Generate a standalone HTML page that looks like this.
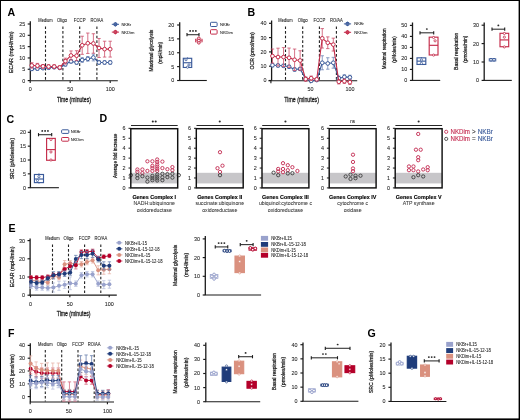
<!DOCTYPE html>
<html><head><meta charset="utf-8"><title>Figure</title>
<style>html,body{margin:0;padding:0;background:#fff;}svg{display:block;will-change:transform;}text{font-family:"Liberation Sans", sans-serif;}</style>
</head><body>
<svg width="520" height="420" viewBox="0 0 520 420">
<rect x="0" y="0" width="520" height="420" fill="#fff"/>
<text transform="translate(7.4 15.8) scale(0.1)" x="0" y="0" font-size="106" text-anchor="start" fill="#000" font-weight="bold">A</text>
<text transform="translate(45.5 22.2) scale(0.1)" x="0" y="0" font-size="46" text-anchor="middle" fill="#222" stroke="#222" stroke-width="0.7" textLength="144" lengthAdjust="spacingAndGlyphs">Medium</text>
<line x1="45.5" y1="26.5" x2="45.5" y2="80.5" stroke="#222" stroke-width="1.1" stroke-linecap="butt" stroke-dasharray="2.6,2"/>
<text transform="translate(62 22.2) scale(0.1)" x="0" y="0" font-size="46" text-anchor="middle" fill="#222" stroke="#222" stroke-width="0.7" textLength="100" lengthAdjust="spacingAndGlyphs">Oligo</text>
<line x1="62.9" y1="26.5" x2="62.9" y2="80.5" stroke="#222" stroke-width="1.1" stroke-linecap="butt" stroke-dasharray="2.6,2"/>
<text transform="translate(79.7 22.2) scale(0.1)" x="0" y="0" font-size="46" text-anchor="middle" fill="#222" stroke="#222" stroke-width="0.7" textLength="117" lengthAdjust="spacingAndGlyphs">FCCP</text>
<line x1="79.7" y1="26.5" x2="79.7" y2="80.5" stroke="#222" stroke-width="1.1" stroke-linecap="butt" stroke-dasharray="2.6,2"/>
<text transform="translate(96.9 22.2) scale(0.1)" x="0" y="0" font-size="46" text-anchor="middle" fill="#222" stroke="#222" stroke-width="0.7" textLength="128" lengthAdjust="spacingAndGlyphs">RO/AA</text>
<line x1="96.9" y1="26.5" x2="96.9" y2="80.5" stroke="#222" stroke-width="1.1" stroke-linecap="butt" stroke-dasharray="2.6,2"/>
<line x1="30.3" y1="21.2" x2="30.3" y2="80.6" stroke="#1a1a1a" stroke-width="1.3" stroke-linecap="butt"/>
<line x1="27.7" y1="80.6" x2="30.3" y2="80.6" stroke="#1a1a1a" stroke-width="1.15" stroke-linecap="butt"/>
<text transform="translate(25.2 82.54) scale(0.1)" x="0" y="0" font-size="54" text-anchor="end" fill="#222" stroke="#222" stroke-width="0.7">0</text>
<line x1="27.7" y1="69.28" x2="30.3" y2="69.28" stroke="#1a1a1a" stroke-width="1.15" stroke-linecap="butt"/>
<text transform="translate(25.2 71.22) scale(0.1)" x="0" y="0" font-size="54" text-anchor="end" fill="#222" stroke="#222" stroke-width="0.7">5</text>
<line x1="27.7" y1="57.96" x2="30.3" y2="57.96" stroke="#1a1a1a" stroke-width="1.15" stroke-linecap="butt"/>
<text transform="translate(25.2 59.9) scale(0.1)" x="0" y="0" font-size="54" text-anchor="end" fill="#222" stroke="#222" stroke-width="0.7">10</text>
<line x1="27.7" y1="46.64" x2="30.3" y2="46.64" stroke="#1a1a1a" stroke-width="1.15" stroke-linecap="butt"/>
<text transform="translate(25.2 48.58) scale(0.1)" x="0" y="0" font-size="54" text-anchor="end" fill="#222" stroke="#222" stroke-width="0.7">15</text>
<line x1="27.7" y1="35.32" x2="30.3" y2="35.32" stroke="#1a1a1a" stroke-width="1.15" stroke-linecap="butt"/>
<text transform="translate(25.2 37.26) scale(0.1)" x="0" y="0" font-size="54" text-anchor="end" fill="#222" stroke="#222" stroke-width="0.7">20</text>
<line x1="27.7" y1="24" x2="30.3" y2="24" stroke="#1a1a1a" stroke-width="1.15" stroke-linecap="butt"/>
<text transform="translate(25.2 25.94) scale(0.1)" x="0" y="0" font-size="54" text-anchor="end" fill="#222" stroke="#222" stroke-width="0.7">25</text>
<line x1="29.8" y1="80.7" x2="117.8" y2="80.7" stroke="#1a1a1a" stroke-width="1.1" stroke-linecap="butt"/>
<line x1="30.2" y1="80.7" x2="30.2" y2="82.9" stroke="#1a1a1a" stroke-width="1.1" stroke-linecap="butt"/>
<text transform="translate(30.2 91.3) scale(0.1)" x="0" y="0" font-size="54" text-anchor="middle" fill="#222" stroke="#222" stroke-width="0.7">0</text>
<line x1="70.2" y1="80.7" x2="70.2" y2="82.9" stroke="#1a1a1a" stroke-width="1.1" stroke-linecap="butt"/>
<text transform="translate(70.2 91.3) scale(0.1)" x="0" y="0" font-size="54" text-anchor="middle" fill="#222" stroke="#222" stroke-width="0.7">50</text>
<line x1="110.2" y1="80.7" x2="110.2" y2="82.9" stroke="#1a1a1a" stroke-width="1.1" stroke-linecap="butt"/>
<text transform="translate(110.2 91.3) scale(0.1)" x="0" y="0" font-size="54" text-anchor="middle" fill="#222" stroke="#222" stroke-width="0.7">100</text>
<text transform="translate(73.9 101.5) scale(0.1)" x="0" y="0" font-size="72" text-anchor="middle" fill="#1a1a1a" stroke="#1a1a1a" stroke-width="2.8" textLength="340" lengthAdjust="spacingAndGlyphs">Time (minutes)</text>
<text transform="translate(12.6 52.25) rotate(-90) scale(0.1)" x="0" y="0" font-size="60" text-anchor="middle" fill="#1a1a1a" stroke="#1a1a1a" stroke-width="2.5" textLength="417" lengthAdjust="spacingAndGlyphs">ECAR (mpH/min)</text>
<line x1="31.8" y1="67.02" x2="31.8" y2="70.64" stroke="#7086b8" stroke-width="0.8" stroke-linecap="butt"/>
<line x1="30.1" y1="67.02" x2="33.5" y2="67.02" stroke="#7086b8" stroke-width="0.8" stroke-linecap="butt"/>
<line x1="30.1" y1="70.64" x2="33.5" y2="70.64" stroke="#7086b8" stroke-width="0.8" stroke-linecap="butt"/>
<line x1="37.4" y1="66.79" x2="37.4" y2="70.41" stroke="#7086b8" stroke-width="0.8" stroke-linecap="butt"/>
<line x1="35.7" y1="66.79" x2="39.1" y2="66.79" stroke="#7086b8" stroke-width="0.8" stroke-linecap="butt"/>
<line x1="35.7" y1="70.41" x2="39.1" y2="70.41" stroke="#7086b8" stroke-width="0.8" stroke-linecap="butt"/>
<line x1="43" y1="66.79" x2="43" y2="69.51" stroke="#7086b8" stroke-width="0.8" stroke-linecap="butt"/>
<line x1="41.3" y1="66.79" x2="44.7" y2="66.79" stroke="#7086b8" stroke-width="0.8" stroke-linecap="butt"/>
<line x1="41.3" y1="69.51" x2="44.7" y2="69.51" stroke="#7086b8" stroke-width="0.8" stroke-linecap="butt"/>
<line x1="48.6" y1="66.34" x2="48.6" y2="69.05" stroke="#7086b8" stroke-width="0.8" stroke-linecap="butt"/>
<line x1="46.9" y1="66.34" x2="50.3" y2="66.34" stroke="#7086b8" stroke-width="0.8" stroke-linecap="butt"/>
<line x1="46.9" y1="69.05" x2="50.3" y2="69.05" stroke="#7086b8" stroke-width="0.8" stroke-linecap="butt"/>
<line x1="54.2" y1="65.88" x2="54.2" y2="68.6" stroke="#7086b8" stroke-width="0.8" stroke-linecap="butt"/>
<line x1="52.5" y1="65.88" x2="55.9" y2="65.88" stroke="#7086b8" stroke-width="0.8" stroke-linecap="butt"/>
<line x1="52.5" y1="68.6" x2="55.9" y2="68.6" stroke="#7086b8" stroke-width="0.8" stroke-linecap="butt"/>
<line x1="59.8" y1="66.56" x2="59.8" y2="69.28" stroke="#7086b8" stroke-width="0.8" stroke-linecap="butt"/>
<line x1="58.1" y1="66.56" x2="61.5" y2="66.56" stroke="#7086b8" stroke-width="0.8" stroke-linecap="butt"/>
<line x1="58.1" y1="69.28" x2="61.5" y2="69.28" stroke="#7086b8" stroke-width="0.8" stroke-linecap="butt"/>
<line x1="65.4" y1="62.49" x2="65.4" y2="66.11" stroke="#7086b8" stroke-width="0.8" stroke-linecap="butt"/>
<line x1="63.7" y1="62.49" x2="67.1" y2="62.49" stroke="#7086b8" stroke-width="0.8" stroke-linecap="butt"/>
<line x1="63.7" y1="66.11" x2="67.1" y2="66.11" stroke="#7086b8" stroke-width="0.8" stroke-linecap="butt"/>
<line x1="71" y1="59.54" x2="71" y2="63.17" stroke="#7086b8" stroke-width="0.8" stroke-linecap="butt"/>
<line x1="69.3" y1="59.54" x2="72.7" y2="59.54" stroke="#7086b8" stroke-width="0.8" stroke-linecap="butt"/>
<line x1="69.3" y1="63.17" x2="72.7" y2="63.17" stroke="#7086b8" stroke-width="0.8" stroke-linecap="butt"/>
<line x1="76.6" y1="60.68" x2="76.6" y2="64.3" stroke="#7086b8" stroke-width="0.8" stroke-linecap="butt"/>
<line x1="74.9" y1="60.68" x2="78.3" y2="60.68" stroke="#7086b8" stroke-width="0.8" stroke-linecap="butt"/>
<line x1="74.9" y1="64.3" x2="78.3" y2="64.3" stroke="#7086b8" stroke-width="0.8" stroke-linecap="butt"/>
<line x1="82.2" y1="57.73" x2="82.2" y2="62.26" stroke="#7086b8" stroke-width="0.8" stroke-linecap="butt"/>
<line x1="80.5" y1="57.73" x2="83.9" y2="57.73" stroke="#7086b8" stroke-width="0.8" stroke-linecap="butt"/>
<line x1="80.5" y1="62.26" x2="83.9" y2="62.26" stroke="#7086b8" stroke-width="0.8" stroke-linecap="butt"/>
<line x1="87.8" y1="56.6" x2="87.8" y2="61.13" stroke="#7086b8" stroke-width="0.8" stroke-linecap="butt"/>
<line x1="86.1" y1="56.6" x2="89.5" y2="56.6" stroke="#7086b8" stroke-width="0.8" stroke-linecap="butt"/>
<line x1="86.1" y1="61.13" x2="89.5" y2="61.13" stroke="#7086b8" stroke-width="0.8" stroke-linecap="butt"/>
<line x1="93.4" y1="54.11" x2="93.4" y2="60.9" stroke="#7086b8" stroke-width="0.8" stroke-linecap="butt"/>
<line x1="91.7" y1="54.11" x2="95.1" y2="54.11" stroke="#7086b8" stroke-width="0.8" stroke-linecap="butt"/>
<line x1="91.7" y1="60.9" x2="95.1" y2="60.9" stroke="#7086b8" stroke-width="0.8" stroke-linecap="butt"/>
<line x1="99" y1="60.68" x2="99" y2="64.3" stroke="#7086b8" stroke-width="0.8" stroke-linecap="butt"/>
<line x1="97.3" y1="60.68" x2="100.7" y2="60.68" stroke="#7086b8" stroke-width="0.8" stroke-linecap="butt"/>
<line x1="97.3" y1="64.3" x2="100.7" y2="64.3" stroke="#7086b8" stroke-width="0.8" stroke-linecap="butt"/>
<line x1="104.6" y1="60.68" x2="104.6" y2="64.3" stroke="#7086b8" stroke-width="0.8" stroke-linecap="butt"/>
<line x1="102.9" y1="60.68" x2="106.3" y2="60.68" stroke="#7086b8" stroke-width="0.8" stroke-linecap="butt"/>
<line x1="102.9" y1="64.3" x2="106.3" y2="64.3" stroke="#7086b8" stroke-width="0.8" stroke-linecap="butt"/>
<line x1="110.2" y1="60.68" x2="110.2" y2="64.3" stroke="#7086b8" stroke-width="0.8" stroke-linecap="butt"/>
<line x1="108.5" y1="60.68" x2="111.9" y2="60.68" stroke="#7086b8" stroke-width="0.8" stroke-linecap="butt"/>
<line x1="108.5" y1="64.3" x2="111.9" y2="64.3" stroke="#7086b8" stroke-width="0.8" stroke-linecap="butt"/>
<polyline points="31.8,68.83 37.4,68.6 43,68.15 48.6,67.7 54.2,67.24 59.8,67.92 65.4,64.3 71,61.36 76.6,62.49 82.2,60 87.8,58.87 93.4,57.51 99,62.49 104.6,62.49 110.2,62.49" fill="none" stroke="#3a5a9a" stroke-width="1.1" stroke-linejoin="round"/>
<circle cx="31.8" cy="68.83" r="1.85" fill="#fff" stroke="#3a5a9a" stroke-width="1"/>
<circle cx="37.4" cy="68.6" r="1.85" fill="#fff" stroke="#3a5a9a" stroke-width="1"/>
<circle cx="43" cy="68.15" r="1.85" fill="#fff" stroke="#3a5a9a" stroke-width="1"/>
<circle cx="48.6" cy="67.7" r="1.85" fill="#fff" stroke="#3a5a9a" stroke-width="1"/>
<circle cx="54.2" cy="67.24" r="1.85" fill="#fff" stroke="#3a5a9a" stroke-width="1"/>
<circle cx="59.8" cy="67.92" r="1.85" fill="#fff" stroke="#3a5a9a" stroke-width="1"/>
<circle cx="65.4" cy="64.3" r="1.85" fill="#fff" stroke="#3a5a9a" stroke-width="1"/>
<circle cx="71" cy="61.36" r="1.85" fill="#fff" stroke="#3a5a9a" stroke-width="1"/>
<circle cx="76.6" cy="62.49" r="1.85" fill="#fff" stroke="#3a5a9a" stroke-width="1"/>
<circle cx="82.2" cy="60" r="1.85" fill="#fff" stroke="#3a5a9a" stroke-width="1"/>
<circle cx="87.8" cy="58.87" r="1.85" fill="#fff" stroke="#3a5a9a" stroke-width="1"/>
<circle cx="93.4" cy="57.51" r="1.85" fill="#fff" stroke="#3a5a9a" stroke-width="1"/>
<circle cx="99" cy="62.49" r="1.85" fill="#fff" stroke="#3a5a9a" stroke-width="1"/>
<circle cx="104.6" cy="62.49" r="1.85" fill="#fff" stroke="#3a5a9a" stroke-width="1"/>
<circle cx="110.2" cy="62.49" r="1.85" fill="#fff" stroke="#3a5a9a" stroke-width="1"/>
<line x1="31.8" y1="62.71" x2="31.8" y2="68.15" stroke="#cc4f6a" stroke-width="0.8" stroke-linecap="butt"/>
<line x1="30.1" y1="62.71" x2="33.5" y2="62.71" stroke="#cc4f6a" stroke-width="0.8" stroke-linecap="butt"/>
<line x1="30.1" y1="68.15" x2="33.5" y2="68.15" stroke="#cc4f6a" stroke-width="0.8" stroke-linecap="butt"/>
<line x1="37.4" y1="63.39" x2="37.4" y2="67.92" stroke="#cc4f6a" stroke-width="0.8" stroke-linecap="butt"/>
<line x1="35.7" y1="63.39" x2="39.1" y2="63.39" stroke="#cc4f6a" stroke-width="0.8" stroke-linecap="butt"/>
<line x1="35.7" y1="67.92" x2="39.1" y2="67.92" stroke="#cc4f6a" stroke-width="0.8" stroke-linecap="butt"/>
<line x1="43" y1="64.53" x2="43" y2="68.15" stroke="#cc4f6a" stroke-width="0.8" stroke-linecap="butt"/>
<line x1="41.3" y1="64.53" x2="44.7" y2="64.53" stroke="#cc4f6a" stroke-width="0.8" stroke-linecap="butt"/>
<line x1="41.3" y1="68.15" x2="44.7" y2="68.15" stroke="#cc4f6a" stroke-width="0.8" stroke-linecap="butt"/>
<line x1="48.6" y1="64.75" x2="48.6" y2="68.37" stroke="#cc4f6a" stroke-width="0.8" stroke-linecap="butt"/>
<line x1="46.9" y1="64.75" x2="50.3" y2="64.75" stroke="#cc4f6a" stroke-width="0.8" stroke-linecap="butt"/>
<line x1="46.9" y1="68.37" x2="50.3" y2="68.37" stroke="#cc4f6a" stroke-width="0.8" stroke-linecap="butt"/>
<line x1="54.2" y1="64.75" x2="54.2" y2="68.37" stroke="#cc4f6a" stroke-width="0.8" stroke-linecap="butt"/>
<line x1="52.5" y1="64.75" x2="55.9" y2="64.75" stroke="#cc4f6a" stroke-width="0.8" stroke-linecap="butt"/>
<line x1="52.5" y1="68.37" x2="55.9" y2="68.37" stroke="#cc4f6a" stroke-width="0.8" stroke-linecap="butt"/>
<line x1="59.8" y1="65.66" x2="59.8" y2="69.28" stroke="#cc4f6a" stroke-width="0.8" stroke-linecap="butt"/>
<line x1="58.1" y1="65.66" x2="61.5" y2="65.66" stroke="#cc4f6a" stroke-width="0.8" stroke-linecap="butt"/>
<line x1="58.1" y1="69.28" x2="61.5" y2="69.28" stroke="#cc4f6a" stroke-width="0.8" stroke-linecap="butt"/>
<line x1="65.4" y1="58.19" x2="65.4" y2="64.07" stroke="#cc4f6a" stroke-width="0.8" stroke-linecap="butt"/>
<line x1="63.7" y1="58.19" x2="67.1" y2="58.19" stroke="#cc4f6a" stroke-width="0.8" stroke-linecap="butt"/>
<line x1="63.7" y1="64.07" x2="67.1" y2="64.07" stroke="#cc4f6a" stroke-width="0.8" stroke-linecap="butt"/>
<line x1="71" y1="50.94" x2="71" y2="60" stroke="#cc4f6a" stroke-width="0.8" stroke-linecap="butt"/>
<line x1="69.3" y1="50.94" x2="72.7" y2="50.94" stroke="#cc4f6a" stroke-width="0.8" stroke-linecap="butt"/>
<line x1="69.3" y1="60" x2="72.7" y2="60" stroke="#cc4f6a" stroke-width="0.8" stroke-linecap="butt"/>
<line x1="76.6" y1="50.72" x2="76.6" y2="60.68" stroke="#cc4f6a" stroke-width="0.8" stroke-linecap="butt"/>
<line x1="74.9" y1="50.72" x2="78.3" y2="50.72" stroke="#cc4f6a" stroke-width="0.8" stroke-linecap="butt"/>
<line x1="74.9" y1="60.68" x2="78.3" y2="60.68" stroke="#cc4f6a" stroke-width="0.8" stroke-linecap="butt"/>
<line x1="82.2" y1="36.23" x2="82.2" y2="54.34" stroke="#cc4f6a" stroke-width="0.8" stroke-linecap="butt"/>
<line x1="80.5" y1="36.23" x2="83.9" y2="36.23" stroke="#cc4f6a" stroke-width="0.8" stroke-linecap="butt"/>
<line x1="80.5" y1="54.34" x2="83.9" y2="54.34" stroke="#cc4f6a" stroke-width="0.8" stroke-linecap="butt"/>
<line x1="87.8" y1="33.06" x2="87.8" y2="53.43" stroke="#cc4f6a" stroke-width="0.8" stroke-linecap="butt"/>
<line x1="86.1" y1="33.06" x2="89.5" y2="33.06" stroke="#cc4f6a" stroke-width="0.8" stroke-linecap="butt"/>
<line x1="86.1" y1="53.43" x2="89.5" y2="53.43" stroke="#cc4f6a" stroke-width="0.8" stroke-linecap="butt"/>
<line x1="93.4" y1="33.74" x2="93.4" y2="53.21" stroke="#cc4f6a" stroke-width="0.8" stroke-linecap="butt"/>
<line x1="91.7" y1="33.74" x2="95.1" y2="33.74" stroke="#cc4f6a" stroke-width="0.8" stroke-linecap="butt"/>
<line x1="91.7" y1="53.21" x2="95.1" y2="53.21" stroke="#cc4f6a" stroke-width="0.8" stroke-linecap="butt"/>
<line x1="99" y1="38.49" x2="99" y2="57.51" stroke="#cc4f6a" stroke-width="0.8" stroke-linecap="butt"/>
<line x1="97.3" y1="38.49" x2="100.7" y2="38.49" stroke="#cc4f6a" stroke-width="0.8" stroke-linecap="butt"/>
<line x1="97.3" y1="57.51" x2="100.7" y2="57.51" stroke="#cc4f6a" stroke-width="0.8" stroke-linecap="butt"/>
<line x1="104.6" y1="41.21" x2="104.6" y2="57.05" stroke="#cc4f6a" stroke-width="0.8" stroke-linecap="butt"/>
<line x1="102.9" y1="41.21" x2="106.3" y2="41.21" stroke="#cc4f6a" stroke-width="0.8" stroke-linecap="butt"/>
<line x1="102.9" y1="57.05" x2="106.3" y2="57.05" stroke="#cc4f6a" stroke-width="0.8" stroke-linecap="butt"/>
<line x1="110.2" y1="41.21" x2="110.2" y2="57.05" stroke="#cc4f6a" stroke-width="0.8" stroke-linecap="butt"/>
<line x1="108.5" y1="41.21" x2="111.9" y2="41.21" stroke="#cc4f6a" stroke-width="0.8" stroke-linecap="butt"/>
<line x1="108.5" y1="57.05" x2="111.9" y2="57.05" stroke="#cc4f6a" stroke-width="0.8" stroke-linecap="butt"/>
<polyline points="31.8,65.43 37.4,65.66 43,66.34 48.6,66.56 54.2,66.56 59.8,67.47 65.4,61.13 71,55.47 76.6,55.7 82.2,45.28 87.8,43.24 93.4,43.47 99,48 104.6,49.13 110.2,49.13" fill="none" stroke="#c42c4a" stroke-width="1.1" stroke-linejoin="round"/>
<circle cx="31.8" cy="65.43" r="1.85" fill="#fff" stroke="#c42c4a" stroke-width="1"/>
<circle cx="37.4" cy="65.66" r="1.85" fill="#fff" stroke="#c42c4a" stroke-width="1"/>
<circle cx="43" cy="66.34" r="1.85" fill="#fff" stroke="#c42c4a" stroke-width="1"/>
<circle cx="48.6" cy="66.56" r="1.85" fill="#fff" stroke="#c42c4a" stroke-width="1"/>
<circle cx="54.2" cy="66.56" r="1.85" fill="#fff" stroke="#c42c4a" stroke-width="1"/>
<circle cx="59.8" cy="67.47" r="1.85" fill="#fff" stroke="#c42c4a" stroke-width="1"/>
<circle cx="65.4" cy="61.13" r="1.85" fill="#fff" stroke="#c42c4a" stroke-width="1"/>
<circle cx="71" cy="55.47" r="1.85" fill="#fff" stroke="#c42c4a" stroke-width="1"/>
<circle cx="76.6" cy="55.7" r="1.85" fill="#fff" stroke="#c42c4a" stroke-width="1"/>
<circle cx="82.2" cy="45.28" r="1.85" fill="#fff" stroke="#c42c4a" stroke-width="1"/>
<circle cx="87.8" cy="43.24" r="1.85" fill="#fff" stroke="#c42c4a" stroke-width="1"/>
<circle cx="93.4" cy="43.47" r="1.85" fill="#fff" stroke="#c42c4a" stroke-width="1"/>
<circle cx="99" cy="48" r="1.85" fill="#fff" stroke="#c42c4a" stroke-width="1"/>
<circle cx="104.6" cy="49.13" r="1.85" fill="#fff" stroke="#c42c4a" stroke-width="1"/>
<circle cx="110.2" cy="49.13" r="1.85" fill="#fff" stroke="#c42c4a" stroke-width="1"/>
<line x1="111.8" y1="24.3" x2="119" y2="24.3" stroke="#3a5a9a" stroke-width="1" stroke-linecap="butt"/>
<line x1="115.4" y1="22" x2="115.4" y2="26.6" stroke="#3a5a9a" stroke-width="0.7" stroke-linecap="butt"/>
<circle cx="115.4" cy="24.3" r="1.5" fill="none" stroke="#3a5a9a" stroke-width="1.25"/>
<text transform="translate(121.4 25.8) scale(0.1)" x="0" y="0" font-size="42" text-anchor="start" fill="#222" stroke="#222" stroke-width="0.7" textLength="96" lengthAdjust="spacingAndGlyphs">NKBr</text>
<line x1="111.8" y1="32.1" x2="119" y2="32.1" stroke="#c42c4a" stroke-width="1" stroke-linecap="butt"/>
<line x1="115.4" y1="29.8" x2="115.4" y2="34.4" stroke="#c42c4a" stroke-width="0.7" stroke-linecap="butt"/>
<circle cx="115.4" cy="32.1" r="1.5" fill="none" stroke="#c42c4a" stroke-width="1.25"/>
<text transform="translate(121.4 33.6) scale(0.1)" x="0" y="0" font-size="42" text-anchor="start" fill="#222" stroke="#222" stroke-width="0.7" textLength="130" lengthAdjust="spacingAndGlyphs">NKDim</text>
<line x1="179.7" y1="22.2" x2="179.7" y2="80.5" stroke="#1a1a1a" stroke-width="1.3" stroke-linecap="butt"/>
<line x1="177.1" y1="80.5" x2="179.7" y2="80.5" stroke="#1a1a1a" stroke-width="1.15" stroke-linecap="butt"/>
<text transform="translate(174.3 82.44) scale(0.1)" x="0" y="0" font-size="54" text-anchor="end" fill="#222" stroke="#222" stroke-width="0.7">0</text>
<line x1="177.1" y1="66.62" x2="179.7" y2="66.62" stroke="#1a1a1a" stroke-width="1.15" stroke-linecap="butt"/>
<text transform="translate(174.3 68.57) scale(0.1)" x="0" y="0" font-size="54" text-anchor="end" fill="#222" stroke="#222" stroke-width="0.7">5</text>
<line x1="177.1" y1="52.75" x2="179.7" y2="52.75" stroke="#1a1a1a" stroke-width="1.15" stroke-linecap="butt"/>
<text transform="translate(174.3 54.69) scale(0.1)" x="0" y="0" font-size="54" text-anchor="end" fill="#222" stroke="#222" stroke-width="0.7">10</text>
<line x1="177.1" y1="38.88" x2="179.7" y2="38.88" stroke="#1a1a1a" stroke-width="1.15" stroke-linecap="butt"/>
<text transform="translate(174.3 40.82) scale(0.1)" x="0" y="0" font-size="54" text-anchor="end" fill="#222" stroke="#222" stroke-width="0.7">15</text>
<line x1="177.1" y1="25" x2="179.7" y2="25" stroke="#1a1a1a" stroke-width="1.15" stroke-linecap="butt"/>
<text transform="translate(174.3 26.94) scale(0.1)" x="0" y="0" font-size="54" text-anchor="end" fill="#222" stroke="#222" stroke-width="0.7">20</text>
<line x1="179.2" y1="80.5" x2="206.8" y2="80.5" stroke="#1a1a1a" stroke-width="1.1" stroke-linecap="butt"/>
<text transform="translate(153.1 50.6) rotate(-90) scale(0.1)" x="0" y="0" font-size="60" text-anchor="middle" fill="#1a1a1a" stroke="#1a1a1a" stroke-width="2.5" textLength="418" lengthAdjust="spacingAndGlyphs">Maximal glycolysis</text>
<text transform="translate(162.2 52.9) rotate(-90) scale(0.1)" x="0" y="0" font-size="60" text-anchor="middle" fill="#1a1a1a" stroke="#1a1a1a" stroke-width="2.5" textLength="219" lengthAdjust="spacingAndGlyphs">(mpH/min)</text>
<line x1="187.5" y1="57.47" x2="187.5" y2="58.3" stroke="#3a5a9a" stroke-width="1.15" stroke-linecap="butt"/>
<line x1="187.5" y1="67.46" x2="187.5" y2="68.01" stroke="#3a5a9a" stroke-width="1.15" stroke-linecap="butt"/>
<rect x="183.3" y="58.3" width="8.4" height="9.16" fill="#fff" stroke="#3a5a9a" stroke-width="1.15" rx="0"/>
<line x1="183.3" y1="62.74" x2="191.7" y2="62.74" stroke="#3a5a9a" stroke-width="1.15" stroke-linecap="butt"/>
<circle cx="186" cy="59.69" r="1.1" fill="#fff" stroke="#3a5a9a" stroke-width="0.8"/>
<circle cx="189" cy="64.96" r="1.1" fill="#fff" stroke="#3a5a9a" stroke-width="0.8"/>
<circle cx="187.5" cy="67.18" r="1.1" fill="#fff" stroke="#3a5a9a" stroke-width="0.8"/>
<line x1="198.85" y1="38.32" x2="198.85" y2="39.15" stroke="#c42c4a" stroke-width="0.7" stroke-linecap="butt"/>
<line x1="198.85" y1="41.93" x2="198.85" y2="42.76" stroke="#c42c4a" stroke-width="0.7" stroke-linecap="butt"/>
<rect x="195.5" y="39.15" width="6.7" height="2.77" fill="#fff" stroke="#c42c4a" stroke-width="0.7" rx="0"/>
<line x1="195.5" y1="40.54" x2="202.2" y2="40.54" stroke="#c42c4a" stroke-width="0.7" stroke-linecap="butt"/>
<circle cx="198.85" cy="38.32" r="1.35" fill="#fff" stroke="#c42c4a" stroke-width="1"/>
<circle cx="198.85" cy="42.76" r="1.35" fill="#fff" stroke="#c42c4a" stroke-width="1"/>
<circle cx="198.85" cy="40.54" r="1.35" fill="#fff" stroke="#c42c4a" stroke-width="1"/>
<line x1="187" y1="34.7" x2="199" y2="34.7" stroke="#333" stroke-width="1.1" stroke-linecap="butt"/>
<line x1="187" y1="33.1" x2="187" y2="36.3" stroke="#1a1a1a" stroke-width="1.1" stroke-linecap="butt"/>
<line x1="199" y1="33.1" x2="199" y2="36.3" stroke="#1a1a1a" stroke-width="1.1" stroke-linecap="butt"/>
<ellipse cx="190.15" cy="30.9" rx="0.95" ry="0.85" fill="#2a2a2a"/>
<ellipse cx="193" cy="30.9" rx="0.95" ry="0.85" fill="#2a2a2a"/>
<ellipse cx="195.85" cy="30.9" rx="0.95" ry="0.85" fill="#2a2a2a"/>
<rect x="210.5" y="22.3" width="6.6" height="4.2" fill="#fff" stroke="#3a5a9a" stroke-width="1" rx="0.8"/>
<rect x="210.5" y="29.7" width="6.6" height="4.4" fill="#fff" stroke="#c42c4a" stroke-width="1" rx="0.8"/>
<text transform="translate(220 26) scale(0.1)" x="0" y="0" font-size="43" text-anchor="start" fill="#222" stroke="#222" stroke-width="0.7" textLength="100" lengthAdjust="spacingAndGlyphs">NKBr</text>
<text transform="translate(220 33.6) scale(0.1)" x="0" y="0" font-size="43" text-anchor="start" fill="#222" stroke="#222" stroke-width="0.7" textLength="128" lengthAdjust="spacingAndGlyphs">NKDim</text>
<text transform="translate(247.6 15.7) scale(0.1)" x="0" y="0" font-size="106" text-anchor="start" fill="#000" font-weight="bold">B</text>
<text transform="translate(285.5 22.2) scale(0.1)" x="0" y="0" font-size="46" text-anchor="middle" fill="#222" stroke="#222" stroke-width="0.7" textLength="144" lengthAdjust="spacingAndGlyphs">Medium</text>
<line x1="285.5" y1="26.5" x2="285.5" y2="80.5" stroke="#222" stroke-width="1.1" stroke-linecap="butt" stroke-dasharray="2.6,2"/>
<text transform="translate(302.7 22.2) scale(0.1)" x="0" y="0" font-size="46" text-anchor="middle" fill="#222" stroke="#222" stroke-width="0.7" textLength="100" lengthAdjust="spacingAndGlyphs">Oligo</text>
<line x1="302.7" y1="26.5" x2="302.7" y2="80.5" stroke="#222" stroke-width="1.1" stroke-linecap="butt" stroke-dasharray="2.6,2"/>
<text transform="translate(319.4 22.2) scale(0.1)" x="0" y="0" font-size="46" text-anchor="middle" fill="#222" stroke="#222" stroke-width="0.7" textLength="117" lengthAdjust="spacingAndGlyphs">FCCP</text>
<line x1="319.4" y1="26.5" x2="319.4" y2="80.5" stroke="#222" stroke-width="1.1" stroke-linecap="butt" stroke-dasharray="2.6,2"/>
<text transform="translate(336.4 22.2) scale(0.1)" x="0" y="0" font-size="46" text-anchor="middle" fill="#222" stroke="#222" stroke-width="0.7" textLength="128" lengthAdjust="spacingAndGlyphs">RO/AA</text>
<line x1="336.4" y1="26.5" x2="336.4" y2="80.5" stroke="#222" stroke-width="1.1" stroke-linecap="butt" stroke-dasharray="2.6,2"/>
<line x1="271.6" y1="20.5" x2="271.6" y2="80.5" stroke="#1a1a1a" stroke-width="1.3" stroke-linecap="butt"/>
<line x1="269" y1="80.5" x2="271.6" y2="80.5" stroke="#1a1a1a" stroke-width="1.15" stroke-linecap="butt"/>
<text transform="translate(266.5 82.44) scale(0.1)" x="0" y="0" font-size="54" text-anchor="end" fill="#222" stroke="#222" stroke-width="0.7">0</text>
<line x1="269" y1="66.2" x2="271.6" y2="66.2" stroke="#1a1a1a" stroke-width="1.15" stroke-linecap="butt"/>
<text transform="translate(266.5 68.14) scale(0.1)" x="0" y="0" font-size="54" text-anchor="end" fill="#222" stroke="#222" stroke-width="0.7">10</text>
<line x1="269" y1="51.9" x2="271.6" y2="51.9" stroke="#1a1a1a" stroke-width="1.15" stroke-linecap="butt"/>
<text transform="translate(266.5 53.84) scale(0.1)" x="0" y="0" font-size="54" text-anchor="end" fill="#222" stroke="#222" stroke-width="0.7">20</text>
<line x1="269" y1="37.6" x2="271.6" y2="37.6" stroke="#1a1a1a" stroke-width="1.15" stroke-linecap="butt"/>
<text transform="translate(266.5 39.54) scale(0.1)" x="0" y="0" font-size="54" text-anchor="end" fill="#222" stroke="#222" stroke-width="0.7">30</text>
<line x1="269" y1="23.3" x2="271.6" y2="23.3" stroke="#1a1a1a" stroke-width="1.15" stroke-linecap="butt"/>
<text transform="translate(266.5 25.24) scale(0.1)" x="0" y="0" font-size="54" text-anchor="end" fill="#222" stroke="#222" stroke-width="0.7">40</text>
<line x1="268.3" y1="80.7" x2="357.2" y2="80.7" stroke="#1a1a1a" stroke-width="1.15" stroke-linecap="butt"/>
<line x1="270.9" y1="80.7" x2="270.9" y2="83.3" stroke="#1a1a1a" stroke-width="1.1" stroke-linecap="butt"/>
<line x1="310.4" y1="80.7" x2="310.4" y2="83.3" stroke="#1a1a1a" stroke-width="1.1" stroke-linecap="butt"/>
<text transform="translate(310.4 91.3) scale(0.1)" x="0" y="0" font-size="54" text-anchor="middle" fill="#222" stroke="#222" stroke-width="0.7">50</text>
<line x1="349.9" y1="80.7" x2="349.9" y2="83.3" stroke="#1a1a1a" stroke-width="1.1" stroke-linecap="butt"/>
<text transform="translate(349.9 91.3) scale(0.1)" x="0" y="0" font-size="54" text-anchor="middle" fill="#222" stroke="#222" stroke-width="0.7">100</text>
<text transform="translate(301.6 101.7) scale(0.1)" x="0" y="0" font-size="72" text-anchor="middle" fill="#1a1a1a" stroke="#1a1a1a" stroke-width="2.8" textLength="346" lengthAdjust="spacingAndGlyphs">Time (minutes)</text>
<text transform="translate(253.5 50.9) rotate(-90) scale(0.1)" x="0" y="0" font-size="60" text-anchor="middle" fill="#1a1a1a" stroke="#1a1a1a" stroke-width="2.5" textLength="373" lengthAdjust="spacingAndGlyphs">OCR (pmol/min)</text>
<line x1="272.48" y1="63.48" x2="272.48" y2="66.92" stroke="#7086b8" stroke-width="0.8" stroke-linecap="butt"/>
<line x1="270.78" y1="63.48" x2="274.18" y2="63.48" stroke="#7086b8" stroke-width="0.8" stroke-linecap="butt"/>
<line x1="270.78" y1="66.92" x2="274.18" y2="66.92" stroke="#7086b8" stroke-width="0.8" stroke-linecap="butt"/>
<line x1="278.01" y1="64.06" x2="278.01" y2="66.92" stroke="#7086b8" stroke-width="0.8" stroke-linecap="butt"/>
<line x1="276.31" y1="64.06" x2="279.71" y2="64.06" stroke="#7086b8" stroke-width="0.8" stroke-linecap="butt"/>
<line x1="276.31" y1="66.92" x2="279.71" y2="66.92" stroke="#7086b8" stroke-width="0.8" stroke-linecap="butt"/>
<line x1="283.54" y1="64.34" x2="283.54" y2="67.2" stroke="#7086b8" stroke-width="0.8" stroke-linecap="butt"/>
<line x1="281.84" y1="64.34" x2="285.24" y2="64.34" stroke="#7086b8" stroke-width="0.8" stroke-linecap="butt"/>
<line x1="281.84" y1="67.2" x2="285.24" y2="67.2" stroke="#7086b8" stroke-width="0.8" stroke-linecap="butt"/>
<line x1="289.07" y1="65.34" x2="289.07" y2="68.2" stroke="#7086b8" stroke-width="0.8" stroke-linecap="butt"/>
<line x1="287.37" y1="65.34" x2="290.77" y2="65.34" stroke="#7086b8" stroke-width="0.8" stroke-linecap="butt"/>
<line x1="287.37" y1="68.2" x2="290.77" y2="68.2" stroke="#7086b8" stroke-width="0.8" stroke-linecap="butt"/>
<line x1="294.6" y1="67.77" x2="294.6" y2="71.2" stroke="#7086b8" stroke-width="0.8" stroke-linecap="butt"/>
<line x1="292.9" y1="67.77" x2="296.3" y2="67.77" stroke="#7086b8" stroke-width="0.8" stroke-linecap="butt"/>
<line x1="292.9" y1="71.2" x2="296.3" y2="71.2" stroke="#7086b8" stroke-width="0.8" stroke-linecap="butt"/>
<line x1="300.13" y1="67.49" x2="300.13" y2="70.35" stroke="#7086b8" stroke-width="0.8" stroke-linecap="butt"/>
<line x1="298.43" y1="67.49" x2="301.83" y2="67.49" stroke="#7086b8" stroke-width="0.8" stroke-linecap="butt"/>
<line x1="298.43" y1="70.35" x2="301.83" y2="70.35" stroke="#7086b8" stroke-width="0.8" stroke-linecap="butt"/>
<line x1="305.66" y1="77.64" x2="305.66" y2="80.5" stroke="#7086b8" stroke-width="0.8" stroke-linecap="butt"/>
<line x1="303.96" y1="77.64" x2="307.36" y2="77.64" stroke="#7086b8" stroke-width="0.8" stroke-linecap="butt"/>
<line x1="303.96" y1="80.5" x2="307.36" y2="80.5" stroke="#7086b8" stroke-width="0.8" stroke-linecap="butt"/>
<line x1="311.19" y1="79.36" x2="311.19" y2="82.22" stroke="#7086b8" stroke-width="0.8" stroke-linecap="butt"/>
<line x1="309.49" y1="79.36" x2="312.89" y2="79.36" stroke="#7086b8" stroke-width="0.8" stroke-linecap="butt"/>
<line x1="309.49" y1="82.22" x2="312.89" y2="82.22" stroke="#7086b8" stroke-width="0.8" stroke-linecap="butt"/>
<line x1="316.72" y1="78.93" x2="316.72" y2="81.22" stroke="#7086b8" stroke-width="0.8" stroke-linecap="butt"/>
<line x1="315.02" y1="78.93" x2="318.42" y2="78.93" stroke="#7086b8" stroke-width="0.8" stroke-linecap="butt"/>
<line x1="315.02" y1="81.22" x2="318.42" y2="81.22" stroke="#7086b8" stroke-width="0.8" stroke-linecap="butt"/>
<line x1="322.25" y1="55.76" x2="322.25" y2="69.78" stroke="#7086b8" stroke-width="0.8" stroke-linecap="butt"/>
<line x1="320.55" y1="55.76" x2="323.95" y2="55.76" stroke="#7086b8" stroke-width="0.8" stroke-linecap="butt"/>
<line x1="320.55" y1="69.78" x2="323.95" y2="69.78" stroke="#7086b8" stroke-width="0.8" stroke-linecap="butt"/>
<line x1="327.78" y1="57.76" x2="327.78" y2="69.2" stroke="#7086b8" stroke-width="0.8" stroke-linecap="butt"/>
<line x1="326.08" y1="57.76" x2="329.48" y2="57.76" stroke="#7086b8" stroke-width="0.8" stroke-linecap="butt"/>
<line x1="326.08" y1="69.2" x2="329.48" y2="69.2" stroke="#7086b8" stroke-width="0.8" stroke-linecap="butt"/>
<line x1="333.31" y1="57.33" x2="333.31" y2="68.2" stroke="#7086b8" stroke-width="0.8" stroke-linecap="butt"/>
<line x1="331.61" y1="57.33" x2="335.01" y2="57.33" stroke="#7086b8" stroke-width="0.8" stroke-linecap="butt"/>
<line x1="331.61" y1="68.2" x2="335.01" y2="68.2" stroke="#7086b8" stroke-width="0.8" stroke-linecap="butt"/>
<line x1="338.84" y1="76.07" x2="338.84" y2="80.36" stroke="#7086b8" stroke-width="0.8" stroke-linecap="butt"/>
<line x1="337.14" y1="76.07" x2="340.54" y2="76.07" stroke="#7086b8" stroke-width="0.8" stroke-linecap="butt"/>
<line x1="337.14" y1="80.36" x2="340.54" y2="80.36" stroke="#7086b8" stroke-width="0.8" stroke-linecap="butt"/>
<line x1="344.37" y1="74.78" x2="344.37" y2="79.07" stroke="#7086b8" stroke-width="0.8" stroke-linecap="butt"/>
<line x1="342.67" y1="74.78" x2="346.07" y2="74.78" stroke="#7086b8" stroke-width="0.8" stroke-linecap="butt"/>
<line x1="342.67" y1="79.07" x2="346.07" y2="79.07" stroke="#7086b8" stroke-width="0.8" stroke-linecap="butt"/>
<line x1="349.9" y1="75.21" x2="349.9" y2="79.5" stroke="#7086b8" stroke-width="0.8" stroke-linecap="butt"/>
<line x1="348.2" y1="75.21" x2="351.6" y2="75.21" stroke="#7086b8" stroke-width="0.8" stroke-linecap="butt"/>
<line x1="348.2" y1="79.5" x2="351.6" y2="79.5" stroke="#7086b8" stroke-width="0.8" stroke-linecap="butt"/>
<polyline points="272.48,65.2 278.01,65.48 283.54,65.77 289.07,66.77 294.6,69.49 300.13,68.92 305.66,79.07 311.19,80.79 316.72,80.07 322.25,62.77 327.78,63.48 333.31,62.77 338.84,78.21 344.37,76.92 349.9,77.35" fill="none" stroke="#3a5a9a" stroke-width="1.1" stroke-linejoin="round"/>
<circle cx="272.48" cy="65.2" r="1.85" fill="#fff" stroke="#3a5a9a" stroke-width="1"/>
<circle cx="278.01" cy="65.48" r="1.85" fill="#fff" stroke="#3a5a9a" stroke-width="1"/>
<circle cx="283.54" cy="65.77" r="1.85" fill="#fff" stroke="#3a5a9a" stroke-width="1"/>
<circle cx="289.07" cy="66.77" r="1.85" fill="#fff" stroke="#3a5a9a" stroke-width="1"/>
<circle cx="294.6" cy="69.49" r="1.85" fill="#fff" stroke="#3a5a9a" stroke-width="1"/>
<circle cx="300.13" cy="68.92" r="1.85" fill="#fff" stroke="#3a5a9a" stroke-width="1"/>
<circle cx="305.66" cy="79.07" r="1.85" fill="#fff" stroke="#3a5a9a" stroke-width="1"/>
<circle cx="311.19" cy="80.79" r="1.85" fill="#fff" stroke="#3a5a9a" stroke-width="1"/>
<circle cx="316.72" cy="80.07" r="1.85" fill="#fff" stroke="#3a5a9a" stroke-width="1"/>
<circle cx="322.25" cy="62.77" r="1.85" fill="#fff" stroke="#3a5a9a" stroke-width="1"/>
<circle cx="327.78" cy="63.48" r="1.85" fill="#fff" stroke="#3a5a9a" stroke-width="1"/>
<circle cx="333.31" cy="62.77" r="1.85" fill="#fff" stroke="#3a5a9a" stroke-width="1"/>
<circle cx="338.84" cy="78.21" r="1.85" fill="#fff" stroke="#3a5a9a" stroke-width="1"/>
<circle cx="344.37" cy="76.92" r="1.85" fill="#fff" stroke="#3a5a9a" stroke-width="1"/>
<circle cx="349.9" cy="77.35" r="1.85" fill="#fff" stroke="#3a5a9a" stroke-width="1"/>
<line x1="272.48" y1="49.04" x2="272.48" y2="63.05" stroke="#cc4f6a" stroke-width="0.8" stroke-linecap="butt"/>
<line x1="270.78" y1="49.04" x2="274.18" y2="49.04" stroke="#cc4f6a" stroke-width="0.8" stroke-linecap="butt"/>
<line x1="270.78" y1="63.05" x2="274.18" y2="63.05" stroke="#cc4f6a" stroke-width="0.8" stroke-linecap="butt"/>
<line x1="278.01" y1="48.18" x2="278.01" y2="65.91" stroke="#cc4f6a" stroke-width="0.8" stroke-linecap="butt"/>
<line x1="276.31" y1="48.18" x2="279.71" y2="48.18" stroke="#cc4f6a" stroke-width="0.8" stroke-linecap="butt"/>
<line x1="276.31" y1="65.91" x2="279.71" y2="65.91" stroke="#cc4f6a" stroke-width="0.8" stroke-linecap="butt"/>
<line x1="283.54" y1="47.61" x2="283.54" y2="66.49" stroke="#cc4f6a" stroke-width="0.8" stroke-linecap="butt"/>
<line x1="281.84" y1="47.61" x2="285.24" y2="47.61" stroke="#cc4f6a" stroke-width="0.8" stroke-linecap="butt"/>
<line x1="281.84" y1="66.49" x2="285.24" y2="66.49" stroke="#cc4f6a" stroke-width="0.8" stroke-linecap="butt"/>
<line x1="289.07" y1="48.04" x2="289.07" y2="67.49" stroke="#cc4f6a" stroke-width="0.8" stroke-linecap="butt"/>
<line x1="287.37" y1="48.04" x2="290.77" y2="48.04" stroke="#cc4f6a" stroke-width="0.8" stroke-linecap="butt"/>
<line x1="287.37" y1="67.49" x2="290.77" y2="67.49" stroke="#cc4f6a" stroke-width="0.8" stroke-linecap="butt"/>
<line x1="294.6" y1="49.04" x2="294.6" y2="70.49" stroke="#cc4f6a" stroke-width="0.8" stroke-linecap="butt"/>
<line x1="292.9" y1="49.04" x2="296.3" y2="49.04" stroke="#cc4f6a" stroke-width="0.8" stroke-linecap="butt"/>
<line x1="292.9" y1="70.49" x2="296.3" y2="70.49" stroke="#cc4f6a" stroke-width="0.8" stroke-linecap="butt"/>
<line x1="300.13" y1="50.76" x2="300.13" y2="70.2" stroke="#cc4f6a" stroke-width="0.8" stroke-linecap="butt"/>
<line x1="298.43" y1="50.76" x2="301.83" y2="50.76" stroke="#cc4f6a" stroke-width="0.8" stroke-linecap="butt"/>
<line x1="298.43" y1="70.2" x2="301.83" y2="70.2" stroke="#cc4f6a" stroke-width="0.8" stroke-linecap="butt"/>
<line x1="305.66" y1="76.92" x2="305.66" y2="81.22" stroke="#cc4f6a" stroke-width="0.8" stroke-linecap="butt"/>
<line x1="303.96" y1="76.92" x2="307.36" y2="76.92" stroke="#cc4f6a" stroke-width="0.8" stroke-linecap="butt"/>
<line x1="303.96" y1="81.22" x2="307.36" y2="81.22" stroke="#cc4f6a" stroke-width="0.8" stroke-linecap="butt"/>
<line x1="311.19" y1="76.07" x2="311.19" y2="80.36" stroke="#cc4f6a" stroke-width="0.8" stroke-linecap="butt"/>
<line x1="309.49" y1="76.07" x2="312.89" y2="76.07" stroke="#cc4f6a" stroke-width="0.8" stroke-linecap="butt"/>
<line x1="309.49" y1="80.36" x2="312.89" y2="80.36" stroke="#cc4f6a" stroke-width="0.8" stroke-linecap="butt"/>
<line x1="316.72" y1="77.93" x2="316.72" y2="80.79" stroke="#cc4f6a" stroke-width="0.8" stroke-linecap="butt"/>
<line x1="315.02" y1="77.93" x2="318.42" y2="77.93" stroke="#cc4f6a" stroke-width="0.8" stroke-linecap="butt"/>
<line x1="315.02" y1="80.79" x2="318.42" y2="80.79" stroke="#cc4f6a" stroke-width="0.8" stroke-linecap="butt"/>
<line x1="322.25" y1="28.59" x2="322.25" y2="48.04" stroke="#cc4f6a" stroke-width="0.8" stroke-linecap="butt"/>
<line x1="320.55" y1="28.59" x2="323.95" y2="28.59" stroke="#cc4f6a" stroke-width="0.8" stroke-linecap="butt"/>
<line x1="320.55" y1="48.04" x2="323.95" y2="48.04" stroke="#cc4f6a" stroke-width="0.8" stroke-linecap="butt"/>
<line x1="327.78" y1="36.89" x2="327.78" y2="48.61" stroke="#cc4f6a" stroke-width="0.8" stroke-linecap="butt"/>
<line x1="326.08" y1="36.89" x2="329.48" y2="36.89" stroke="#cc4f6a" stroke-width="0.8" stroke-linecap="butt"/>
<line x1="326.08" y1="48.61" x2="329.48" y2="48.61" stroke="#cc4f6a" stroke-width="0.8" stroke-linecap="butt"/>
<line x1="333.31" y1="38.17" x2="333.31" y2="51.04" stroke="#cc4f6a" stroke-width="0.8" stroke-linecap="butt"/>
<line x1="331.61" y1="38.17" x2="335.01" y2="38.17" stroke="#cc4f6a" stroke-width="0.8" stroke-linecap="butt"/>
<line x1="331.61" y1="51.04" x2="335.01" y2="51.04" stroke="#cc4f6a" stroke-width="0.8" stroke-linecap="butt"/>
<line x1="338.84" y1="79.64" x2="338.84" y2="83.93" stroke="#cc4f6a" stroke-width="0.8" stroke-linecap="butt"/>
<line x1="337.14" y1="79.64" x2="340.54" y2="79.64" stroke="#cc4f6a" stroke-width="0.8" stroke-linecap="butt"/>
<line x1="337.14" y1="83.93" x2="340.54" y2="83.93" stroke="#cc4f6a" stroke-width="0.8" stroke-linecap="butt"/>
<line x1="344.37" y1="79.07" x2="344.37" y2="83.36" stroke="#cc4f6a" stroke-width="0.8" stroke-linecap="butt"/>
<line x1="342.67" y1="79.07" x2="346.07" y2="79.07" stroke="#cc4f6a" stroke-width="0.8" stroke-linecap="butt"/>
<line x1="342.67" y1="83.36" x2="346.07" y2="83.36" stroke="#cc4f6a" stroke-width="0.8" stroke-linecap="butt"/>
<line x1="349.9" y1="80.07" x2="349.9" y2="84.36" stroke="#cc4f6a" stroke-width="0.8" stroke-linecap="butt"/>
<line x1="348.2" y1="80.07" x2="351.6" y2="80.07" stroke="#cc4f6a" stroke-width="0.8" stroke-linecap="butt"/>
<line x1="348.2" y1="84.36" x2="351.6" y2="84.36" stroke="#cc4f6a" stroke-width="0.8" stroke-linecap="butt"/>
<polyline points="272.48,56.05 278.01,57.05 283.54,57.05 289.07,57.76 294.6,59.77 300.13,60.48 305.66,79.07 311.19,78.21 316.72,79.36 322.25,38.32 327.78,42.75 333.31,44.61 338.84,81.79 344.37,81.22 349.9,82.22" fill="none" stroke="#c42c4a" stroke-width="1.1" stroke-linejoin="round"/>
<circle cx="272.48" cy="56.05" r="1.85" fill="#fff" stroke="#c42c4a" stroke-width="1"/>
<circle cx="278.01" cy="57.05" r="1.85" fill="#fff" stroke="#c42c4a" stroke-width="1"/>
<circle cx="283.54" cy="57.05" r="1.85" fill="#fff" stroke="#c42c4a" stroke-width="1"/>
<circle cx="289.07" cy="57.76" r="1.85" fill="#fff" stroke="#c42c4a" stroke-width="1"/>
<circle cx="294.6" cy="59.77" r="1.85" fill="#fff" stroke="#c42c4a" stroke-width="1"/>
<circle cx="300.13" cy="60.48" r="1.85" fill="#fff" stroke="#c42c4a" stroke-width="1"/>
<circle cx="305.66" cy="79.07" r="1.85" fill="#fff" stroke="#c42c4a" stroke-width="1"/>
<circle cx="311.19" cy="78.21" r="1.85" fill="#fff" stroke="#c42c4a" stroke-width="1"/>
<circle cx="316.72" cy="79.36" r="1.85" fill="#fff" stroke="#c42c4a" stroke-width="1"/>
<circle cx="322.25" cy="38.32" r="1.85" fill="#fff" stroke="#c42c4a" stroke-width="1"/>
<circle cx="327.78" cy="42.75" r="1.85" fill="#fff" stroke="#c42c4a" stroke-width="1"/>
<circle cx="333.31" cy="44.61" r="1.85" fill="#fff" stroke="#c42c4a" stroke-width="1"/>
<circle cx="338.84" cy="81.79" r="1.85" fill="#fff" stroke="#c42c4a" stroke-width="1"/>
<circle cx="344.37" cy="81.22" r="1.85" fill="#fff" stroke="#c42c4a" stroke-width="1"/>
<circle cx="349.9" cy="82.22" r="1.85" fill="#fff" stroke="#c42c4a" stroke-width="1"/>
<line x1="343.9" y1="23.9" x2="351.1" y2="23.9" stroke="#3a5a9a" stroke-width="1" stroke-linecap="butt"/>
<line x1="347.5" y1="21.6" x2="347.5" y2="26.2" stroke="#3a5a9a" stroke-width="0.7" stroke-linecap="butt"/>
<circle cx="347.5" cy="23.9" r="1.5" fill="none" stroke="#3a5a9a" stroke-width="1.25"/>
<text transform="translate(354.3 25.4) scale(0.1)" x="0" y="0" font-size="42" text-anchor="start" fill="#222" stroke="#222" stroke-width="0.7" textLength="96" lengthAdjust="spacingAndGlyphs">NKBr</text>
<line x1="343.9" y1="32.3" x2="351.1" y2="32.3" stroke="#c42c4a" stroke-width="1" stroke-linecap="butt"/>
<line x1="347.5" y1="30" x2="347.5" y2="34.6" stroke="#c42c4a" stroke-width="0.7" stroke-linecap="butt"/>
<circle cx="347.5" cy="32.3" r="1.5" fill="none" stroke="#c42c4a" stroke-width="1.25"/>
<text transform="translate(354.3 33.8) scale(0.1)" x="0" y="0" font-size="42" text-anchor="start" fill="#222" stroke="#222" stroke-width="0.7" textLength="130" lengthAdjust="spacingAndGlyphs">NKDim</text>
<line x1="412.5" y1="22.5" x2="412.5" y2="80.4" stroke="#1a1a1a" stroke-width="1.3" stroke-linecap="butt"/>
<line x1="409.9" y1="80.4" x2="412.5" y2="80.4" stroke="#1a1a1a" stroke-width="1.15" stroke-linecap="butt"/>
<text transform="translate(407.3 82.34) scale(0.1)" x="0" y="0" font-size="54" text-anchor="end" fill="#222" stroke="#222" stroke-width="0.7">0</text>
<line x1="409.9" y1="69.4" x2="412.5" y2="69.4" stroke="#1a1a1a" stroke-width="1.15" stroke-linecap="butt"/>
<text transform="translate(407.3 71.34) scale(0.1)" x="0" y="0" font-size="54" text-anchor="end" fill="#222" stroke="#222" stroke-width="0.7">10</text>
<line x1="409.9" y1="58.4" x2="412.5" y2="58.4" stroke="#1a1a1a" stroke-width="1.15" stroke-linecap="butt"/>
<text transform="translate(407.3 60.34) scale(0.1)" x="0" y="0" font-size="54" text-anchor="end" fill="#222" stroke="#222" stroke-width="0.7">20</text>
<line x1="409.9" y1="47.4" x2="412.5" y2="47.4" stroke="#1a1a1a" stroke-width="1.15" stroke-linecap="butt"/>
<text transform="translate(407.3 49.34) scale(0.1)" x="0" y="0" font-size="54" text-anchor="end" fill="#222" stroke="#222" stroke-width="0.7">30</text>
<line x1="409.9" y1="36.4" x2="412.5" y2="36.4" stroke="#1a1a1a" stroke-width="1.15" stroke-linecap="butt"/>
<text transform="translate(407.3 38.34) scale(0.1)" x="0" y="0" font-size="54" text-anchor="end" fill="#222" stroke="#222" stroke-width="0.7">40</text>
<line x1="409.9" y1="25.4" x2="412.5" y2="25.4" stroke="#1a1a1a" stroke-width="1.15" stroke-linecap="butt"/>
<text transform="translate(407.3 27.34) scale(0.1)" x="0" y="0" font-size="54" text-anchor="end" fill="#222" stroke="#222" stroke-width="0.7">50</text>
<line x1="412" y1="80.4" x2="440.2" y2="80.4" stroke="#1a1a1a" stroke-width="1.1" stroke-linecap="butt"/>
<text transform="translate(386.4 48.8) rotate(-90) scale(0.1)" x="0" y="0" font-size="60" text-anchor="middle" fill="#1a1a1a" stroke="#1a1a1a" stroke-width="2.5" textLength="407" lengthAdjust="spacingAndGlyphs">Maximal respiration</text>
<text transform="translate(395.9 49.5) rotate(-90) scale(0.1)" x="0" y="0" font-size="60" text-anchor="middle" fill="#1a1a1a" stroke="#1a1a1a" stroke-width="2.5" textLength="264" lengthAdjust="spacingAndGlyphs">(pMoles/min)</text>
<line x1="421.4" y1="57.08" x2="421.4" y2="57.85" stroke="#3a5a9a" stroke-width="1.15" stroke-linecap="butt"/>
<line x1="421.4" y1="64.45" x2="421.4" y2="64.78" stroke="#3a5a9a" stroke-width="1.15" stroke-linecap="butt"/>
<rect x="417" y="57.85" width="8.8" height="6.6" fill="#fff" stroke="#3a5a9a" stroke-width="1.15" rx="0"/>
<line x1="417" y1="61.15" x2="425.8" y2="61.15" stroke="#3a5a9a" stroke-width="1.15" stroke-linecap="butt"/>
<circle cx="421.4" cy="59.94" r="1.1" fill="#fff" stroke="#3a5a9a" stroke-width="0.8"/>
<circle cx="421.4" cy="63.35" r="1.1" fill="#fff" stroke="#3a5a9a" stroke-width="0.8"/>
<line x1="433.6" y1="36.84" x2="433.6" y2="37.17" stroke="#c42c4a" stroke-width="1.15" stroke-linecap="butt"/>
<line x1="433.6" y1="54.99" x2="433.6" y2="55.21" stroke="#c42c4a" stroke-width="1.15" stroke-linecap="butt"/>
<rect x="429.2" y="37.17" width="8.8" height="17.82" fill="#fff" stroke="#c42c4a" stroke-width="1.15" rx="0"/>
<line x1="429.2" y1="45.31" x2="438" y2="45.31" stroke="#c42c4a" stroke-width="1.15" stroke-linecap="butt"/>
<circle cx="435.1" cy="40.8" r="1.1" fill="#fff" stroke="#c42c4a" stroke-width="0.8"/>
<circle cx="433.6" cy="55.1" r="1.1" fill="#fff" stroke="#c42c4a" stroke-width="0.8"/>
<circle cx="433.6" cy="37.5" r="1.1" fill="#fff" stroke="#c42c4a" stroke-width="0.8"/>
<line x1="420" y1="32.8" x2="433.7" y2="32.8" stroke="#333" stroke-width="1.1" stroke-linecap="butt"/>
<line x1="420" y1="31.2" x2="420" y2="34.4" stroke="#1a1a1a" stroke-width="1.1" stroke-linecap="butt"/>
<line x1="433.7" y1="31.2" x2="433.7" y2="34.4" stroke="#1a1a1a" stroke-width="1.1" stroke-linecap="butt"/>
<ellipse cx="426.85" cy="29" rx="0.95" ry="0.85" fill="#2a2a2a"/>
<line x1="484.2" y1="22.5" x2="484.2" y2="80.4" stroke="#1a1a1a" stroke-width="1.3" stroke-linecap="butt"/>
<line x1="481.6" y1="80.4" x2="484.2" y2="80.4" stroke="#1a1a1a" stroke-width="1.15" stroke-linecap="butt"/>
<text transform="translate(479 82.34) scale(0.1)" x="0" y="0" font-size="54" text-anchor="end" fill="#222" stroke="#222" stroke-width="0.7">0</text>
<line x1="481.6" y1="62" x2="484.2" y2="62" stroke="#1a1a1a" stroke-width="1.15" stroke-linecap="butt"/>
<text transform="translate(479 63.94) scale(0.1)" x="0" y="0" font-size="54" text-anchor="end" fill="#222" stroke="#222" stroke-width="0.7">10</text>
<line x1="481.6" y1="43.6" x2="484.2" y2="43.6" stroke="#1a1a1a" stroke-width="1.15" stroke-linecap="butt"/>
<text transform="translate(479 45.54) scale(0.1)" x="0" y="0" font-size="54" text-anchor="end" fill="#222" stroke="#222" stroke-width="0.7">20</text>
<line x1="481.6" y1="25.2" x2="484.2" y2="25.2" stroke="#1a1a1a" stroke-width="1.15" stroke-linecap="butt"/>
<text transform="translate(479 27.14) scale(0.1)" x="0" y="0" font-size="54" text-anchor="end" fill="#222" stroke="#222" stroke-width="0.7">30</text>
<line x1="483.7" y1="80.4" x2="511.8" y2="80.4" stroke="#1a1a1a" stroke-width="1.1" stroke-linecap="butt"/>
<text transform="translate(457.9 51.3) rotate(-90) scale(0.1)" x="0" y="0" font-size="60" text-anchor="middle" fill="#1a1a1a" stroke="#1a1a1a" stroke-width="2.5" textLength="372" lengthAdjust="spacingAndGlyphs">Basal respiration</text>
<text transform="translate(467.3 49.2) rotate(-90) scale(0.1)" x="0" y="0" font-size="60" text-anchor="middle" fill="#1a1a1a" stroke="#1a1a1a" stroke-width="2.5" textLength="271" lengthAdjust="spacingAndGlyphs">(pmoles/min)</text>
<line x1="492.5" y1="58.5" x2="492.5" y2="58.69" stroke="#3a5a9a" stroke-width="0.7" stroke-linecap="butt"/>
<line x1="492.5" y1="61.08" x2="492.5" y2="61.26" stroke="#3a5a9a" stroke-width="0.7" stroke-linecap="butt"/>
<rect x="489.1" y="58.69" width="6.8" height="2.39" fill="#fff" stroke="#3a5a9a" stroke-width="0.7" rx="0"/>
<line x1="489.1" y1="59.79" x2="495.9" y2="59.79" stroke="#3a5a9a" stroke-width="0.7" stroke-linecap="butt"/>
<circle cx="491" cy="59.79" r="1.35" fill="#fff" stroke="#3a5a9a" stroke-width="1"/>
<circle cx="494" cy="59.79" r="1.35" fill="#fff" stroke="#3a5a9a" stroke-width="1"/>
<line x1="504.35" y1="32.93" x2="504.35" y2="33.3" stroke="#c42c4a" stroke-width="1.15" stroke-linecap="butt"/>
<line x1="504.35" y1="46.73" x2="504.35" y2="47.28" stroke="#c42c4a" stroke-width="1.15" stroke-linecap="butt"/>
<rect x="500" y="33.3" width="8.7" height="13.43" fill="#fff" stroke="#c42c4a" stroke-width="1.15" rx="0"/>
<line x1="500" y1="39.92" x2="508.7" y2="39.92" stroke="#c42c4a" stroke-width="1.15" stroke-linecap="butt"/>
<circle cx="504.35" cy="37.16" r="1.1" fill="#fff" stroke="#c42c4a" stroke-width="0.8"/>
<circle cx="504.35" cy="46.91" r="1.1" fill="#fff" stroke="#c42c4a" stroke-width="0.8"/>
<circle cx="504.35" cy="33.48" r="1.1" fill="#fff" stroke="#c42c4a" stroke-width="0.8"/>
<line x1="492" y1="29.2" x2="504.7" y2="29.2" stroke="#333" stroke-width="1.1" stroke-linecap="butt"/>
<line x1="492" y1="27.6" x2="492" y2="30.8" stroke="#1a1a1a" stroke-width="1.1" stroke-linecap="butt"/>
<line x1="504.7" y1="27.6" x2="504.7" y2="30.8" stroke="#1a1a1a" stroke-width="1.1" stroke-linecap="butt"/>
<ellipse cx="498.35" cy="25.4" rx="0.95" ry="0.85" fill="#2a2a2a"/>
<text transform="translate(6.6 122.6) scale(0.1)" x="0" y="0" font-size="106" text-anchor="start" fill="#000" font-weight="bold">C</text>
<line x1="30.4" y1="129.7" x2="30.4" y2="187.7" stroke="#1a1a1a" stroke-width="1.3" stroke-linecap="butt"/>
<line x1="27.8" y1="187.7" x2="30.4" y2="187.7" stroke="#1a1a1a" stroke-width="1.15" stroke-linecap="butt"/>
<text transform="translate(26 189.64) scale(0.1)" x="0" y="0" font-size="54" text-anchor="end" fill="#222" stroke="#222" stroke-width="0.7">0</text>
<line x1="27.8" y1="173.85" x2="30.4" y2="173.85" stroke="#1a1a1a" stroke-width="1.15" stroke-linecap="butt"/>
<text transform="translate(26 175.79) scale(0.1)" x="0" y="0" font-size="54" text-anchor="end" fill="#222" stroke="#222" stroke-width="0.7">5</text>
<line x1="27.8" y1="160" x2="30.4" y2="160" stroke="#1a1a1a" stroke-width="1.15" stroke-linecap="butt"/>
<text transform="translate(26 161.94) scale(0.1)" x="0" y="0" font-size="54" text-anchor="end" fill="#222" stroke="#222" stroke-width="0.7">10</text>
<line x1="27.8" y1="146.15" x2="30.4" y2="146.15" stroke="#1a1a1a" stroke-width="1.15" stroke-linecap="butt"/>
<text transform="translate(26 148.09) scale(0.1)" x="0" y="0" font-size="54" text-anchor="end" fill="#222" stroke="#222" stroke-width="0.7">15</text>
<line x1="27.8" y1="132.3" x2="30.4" y2="132.3" stroke="#1a1a1a" stroke-width="1.15" stroke-linecap="butt"/>
<text transform="translate(26 134.24) scale(0.1)" x="0" y="0" font-size="54" text-anchor="end" fill="#222" stroke="#222" stroke-width="0.7">20</text>
<line x1="29.9" y1="187.7" x2="58.9" y2="187.7" stroke="#1a1a1a" stroke-width="1.1" stroke-linecap="butt"/>
<text transform="translate(14 158.6) rotate(-90) scale(0.1)" x="0" y="0" font-size="60" text-anchor="middle" fill="#1a1a1a" stroke="#1a1a1a" stroke-width="2.5" textLength="414" lengthAdjust="spacingAndGlyphs">SRC (pMoles/min)</text>
<line x1="38.95" y1="173.57" x2="38.95" y2="174.49" stroke="#3a5a9a" stroke-width="1.15" stroke-linecap="butt"/>
<line x1="38.95" y1="182.6" x2="38.95" y2="183.41" stroke="#3a5a9a" stroke-width="1.15" stroke-linecap="butt"/>
<rect x="34.4" y="174.49" width="9.1" height="8.12" fill="#fff" stroke="#3a5a9a" stroke-width="1.15" rx="0"/>
<line x1="34.4" y1="179" x2="43.5" y2="179" stroke="#3a5a9a" stroke-width="1.15" stroke-linecap="butt"/>
<circle cx="38.95" cy="176.62" r="1.1" fill="#fff" stroke="#3a5a9a" stroke-width="0.8"/>
<circle cx="37.45" cy="180.5" r="1.1" fill="#fff" stroke="#3a5a9a" stroke-width="0.8"/>
<line x1="50.95" y1="138.12" x2="50.95" y2="138.39" stroke="#c42c4a" stroke-width="1.15" stroke-linecap="butt"/>
<line x1="50.95" y1="160.28" x2="50.95" y2="160.55" stroke="#c42c4a" stroke-width="1.15" stroke-linecap="butt"/>
<rect x="46.6" y="138.39" width="8.7" height="21.88" fill="#fff" stroke="#c42c4a" stroke-width="1.15" rx="0"/>
<line x1="46.6" y1="149.61" x2="55.3" y2="149.61" stroke="#c42c4a" stroke-width="1.15" stroke-linecap="butt"/>
<circle cx="50.95" cy="139.5" r="1.1" fill="#fff" stroke="#c42c4a" stroke-width="0.8"/>
<circle cx="50.95" cy="151.97" r="1.1" fill="#fff" stroke="#c42c4a" stroke-width="0.8"/>
<circle cx="50.95" cy="160" r="1.1" fill="#fff" stroke="#c42c4a" stroke-width="0.8"/>
<line x1="38.5" y1="134.7" x2="51.7" y2="134.7" stroke="#333" stroke-width="1.1" stroke-linecap="butt"/>
<line x1="38.5" y1="133.1" x2="38.5" y2="136.3" stroke="#1a1a1a" stroke-width="1.1" stroke-linecap="butt"/>
<line x1="51.7" y1="133.1" x2="51.7" y2="136.3" stroke="#1a1a1a" stroke-width="1.1" stroke-linecap="butt"/>
<ellipse cx="42.25" cy="130.9" rx="0.95" ry="0.85" fill="#2a2a2a"/>
<ellipse cx="45.1" cy="130.9" rx="0.95" ry="0.85" fill="#2a2a2a"/>
<ellipse cx="47.95" cy="130.9" rx="0.95" ry="0.85" fill="#2a2a2a"/>
<rect x="61.6" y="129.8" width="7.2" height="3.6" fill="#fff" stroke="#3a5a9a" stroke-width="1" rx="0.8"/>
<rect x="61.6" y="137.5" width="7.2" height="3.7" fill="#fff" stroke="#c42c4a" stroke-width="1" rx="0.8"/>
<text transform="translate(70.7 133.2) scale(0.1)" x="0" y="0" font-size="43" text-anchor="start" fill="#222" stroke="#222" stroke-width="0.7" textLength="100" lengthAdjust="spacingAndGlyphs">NKBr</text>
<text transform="translate(70.7 140.9) scale(0.1)" x="0" y="0" font-size="43" text-anchor="start" fill="#222" stroke="#222" stroke-width="0.7" textLength="128" lengthAdjust="spacingAndGlyphs">NKDim</text>
<text transform="translate(99.5 122.4) scale(0.1)" x="0" y="0" font-size="106" text-anchor="start" fill="#000" font-weight="bold">D</text>
<text transform="translate(116.7 155.9) rotate(-90) scale(0.1)" x="0" y="0" font-size="60" text-anchor="middle" fill="#1a1a1a" stroke="#1a1a1a" stroke-width="2.5" textLength="443" lengthAdjust="spacingAndGlyphs">Average fold increase</text>
<rect x="130.8" y="172.81" width="46.9" height="10.63" fill="#c7c6c9" stroke="none" stroke-width="1" rx="0"/>
<circle cx="137.4" cy="169.5" r="1.65" fill="none" stroke="#c83a5e" stroke-width="1"/>
<circle cx="137.4" cy="171.8" r="1.65" fill="none" stroke="#c83a5e" stroke-width="1"/>
<circle cx="137.4" cy="175.2" r="1.65" fill="none" stroke="#484848" stroke-width="1"/>
<circle cx="137.4" cy="178.1" r="1.65" fill="none" stroke="#484848" stroke-width="1"/>
<circle cx="142.4" cy="169.5" r="1.65" fill="none" stroke="#c83a5e" stroke-width="1"/>
<circle cx="142.4" cy="173.1" r="1.65" fill="none" stroke="#c83a5e" stroke-width="1"/>
<circle cx="142.4" cy="176.2" r="1.65" fill="none" stroke="#484848" stroke-width="1"/>
<circle cx="147.4" cy="161.3" r="1.65" fill="none" stroke="#c83a5e" stroke-width="1"/>
<circle cx="147.4" cy="170.9" r="1.65" fill="none" stroke="#c83a5e" stroke-width="1"/>
<circle cx="147.4" cy="177.6" r="1.65" fill="none" stroke="#484848" stroke-width="1"/>
<circle cx="147.4" cy="181.6" r="1.65" fill="none" stroke="#484848" stroke-width="1"/>
<circle cx="152.4" cy="161.3" r="1.65" fill="none" stroke="#c83a5e" stroke-width="1"/>
<circle cx="152.4" cy="165.9" r="1.65" fill="none" stroke="#c83a5e" stroke-width="1"/>
<circle cx="152.4" cy="168.1" r="1.65" fill="none" stroke="#c83a5e" stroke-width="1"/>
<circle cx="152.4" cy="170.9" r="1.65" fill="none" stroke="#c83a5e" stroke-width="1"/>
<circle cx="152.4" cy="175.9" r="1.65" fill="none" stroke="#484848" stroke-width="1"/>
<circle cx="152.4" cy="178.1" r="1.65" fill="none" stroke="#484848" stroke-width="1"/>
<circle cx="152.4" cy="180.2" r="1.65" fill="none" stroke="#484848" stroke-width="1"/>
<circle cx="157.2" cy="159.5" r="1.65" fill="none" stroke="#c83a5e" stroke-width="1"/>
<circle cx="157.2" cy="161.9" r="1.65" fill="none" stroke="#c83a5e" stroke-width="1"/>
<circle cx="157.2" cy="164.5" r="1.65" fill="none" stroke="#c83a5e" stroke-width="1"/>
<circle cx="157.2" cy="166.6" r="1.65" fill="none" stroke="#c83a5e" stroke-width="1"/>
<circle cx="157.2" cy="168.8" r="1.65" fill="none" stroke="#c83a5e" stroke-width="1"/>
<circle cx="157.2" cy="170.9" r="1.65" fill="none" stroke="#c83a5e" stroke-width="1"/>
<circle cx="157.2" cy="174.5" r="1.65" fill="none" stroke="#484848" stroke-width="1"/>
<circle cx="157.2" cy="176.6" r="1.65" fill="none" stroke="#484848" stroke-width="1"/>
<circle cx="157.2" cy="178.5" r="1.65" fill="none" stroke="#484848" stroke-width="1"/>
<circle cx="157.2" cy="180.5" r="1.65" fill="none" stroke="#484848" stroke-width="1"/>
<circle cx="162.4" cy="161.6" r="1.65" fill="none" stroke="#c83a5e" stroke-width="1"/>
<circle cx="162.4" cy="168.1" r="1.65" fill="none" stroke="#c83a5e" stroke-width="1"/>
<circle cx="162.4" cy="173.8" r="1.65" fill="none" stroke="#484848" stroke-width="1"/>
<circle cx="162.4" cy="177.3" r="1.65" fill="none" stroke="#484848" stroke-width="1"/>
<circle cx="162.4" cy="180.2" r="1.65" fill="none" stroke="#484848" stroke-width="1"/>
<circle cx="167.4" cy="169.2" r="1.65" fill="none" stroke="#c83a5e" stroke-width="1"/>
<circle cx="167.4" cy="174.2" r="1.65" fill="none" stroke="#484848" stroke-width="1"/>
<circle cx="167.4" cy="177.1" r="1.65" fill="none" stroke="#484848" stroke-width="1"/>
<circle cx="172.4" cy="167.1" r="1.65" fill="none" stroke="#c83a5e" stroke-width="1"/>
<circle cx="172.4" cy="170.2" r="1.65" fill="none" stroke="#c83a5e" stroke-width="1"/>
<circle cx="172.4" cy="173.8" r="1.65" fill="none" stroke="#484848" stroke-width="1"/>
<circle cx="172.4" cy="177.6" r="1.65" fill="none" stroke="#484848" stroke-width="1"/>
<circle cx="130.8" cy="175.2" r="1.65" fill="none" stroke="#484848" stroke-width="1"/>
<circle cx="178.8" cy="175.2" r="1.65" fill="none" stroke="#484848" stroke-width="1"/>
<rect x="130.8" y="128.7" width="46.9" height="59.2" fill="none" stroke="#111" stroke-width="1.45" rx="0"/>
<line x1="128.5" y1="187.9" x2="130.8" y2="187.9" stroke="#1a1a1a" stroke-width="1" stroke-linecap="butt"/>
<text transform="translate(125.6 189.8) scale(0.1)" x="0" y="0" font-size="54" text-anchor="end" fill="#222" stroke="#222" stroke-width="0.7">0</text>
<line x1="128.5" y1="177.97" x2="130.8" y2="177.97" stroke="#1a1a1a" stroke-width="1" stroke-linecap="butt"/>
<text transform="translate(125.6 179.87) scale(0.1)" x="0" y="0" font-size="54" text-anchor="end" fill="#222" stroke="#222" stroke-width="0.7">1</text>
<line x1="128.5" y1="168.04" x2="130.8" y2="168.04" stroke="#1a1a1a" stroke-width="1" stroke-linecap="butt"/>
<text transform="translate(125.6 169.94) scale(0.1)" x="0" y="0" font-size="54" text-anchor="end" fill="#222" stroke="#222" stroke-width="0.7">2</text>
<line x1="128.5" y1="158.11" x2="130.8" y2="158.11" stroke="#1a1a1a" stroke-width="1" stroke-linecap="butt"/>
<text transform="translate(125.6 160.01) scale(0.1)" x="0" y="0" font-size="54" text-anchor="end" fill="#222" stroke="#222" stroke-width="0.7">3</text>
<line x1="128.5" y1="148.18" x2="130.8" y2="148.18" stroke="#1a1a1a" stroke-width="1" stroke-linecap="butt"/>
<text transform="translate(125.6 150.08) scale(0.1)" x="0" y="0" font-size="54" text-anchor="end" fill="#222" stroke="#222" stroke-width="0.7">4</text>
<line x1="128.5" y1="138.25" x2="130.8" y2="138.25" stroke="#1a1a1a" stroke-width="1" stroke-linecap="butt"/>
<text transform="translate(125.6 140.15) scale(0.1)" x="0" y="0" font-size="54" text-anchor="end" fill="#222" stroke="#222" stroke-width="0.7">5</text>
<line x1="128.5" y1="128.32" x2="130.8" y2="128.32" stroke="#1a1a1a" stroke-width="1" stroke-linecap="butt"/>
<text transform="translate(125.6 130.22) scale(0.1)" x="0" y="0" font-size="54" text-anchor="end" fill="#222" stroke="#222" stroke-width="0.7">6</text>
<line x1="131" y1="125.5" x2="177.7" y2="125.5" stroke="#1a1a1a" stroke-width="0.95" stroke-linecap="butt"/>
<ellipse cx="152.8" cy="121.5" rx="1.05" ry="0.95" fill="#2a2a2a"/>
<ellipse cx="155.7" cy="121.5" rx="1.05" ry="0.95" fill="#2a2a2a"/>
<text transform="translate(154.25 198.8) scale(0.1)" x="0" y="0" font-size="54" text-anchor="middle" fill="#000" stroke="#000" stroke-width="1.2" font-weight="bold">Genes Complex I</text>
<text transform="translate(154.25 205.3) scale(0.1)" x="0" y="0" font-size="52" text-anchor="middle" fill="#333" stroke="#333" stroke-width="0.5">NADH:ubiquinone</text>
<text transform="translate(154.25 211.7) scale(0.1)" x="0" y="0" font-size="52" text-anchor="middle" fill="#333" stroke="#333" stroke-width="0.5">oxidoreductase</text>
<rect x="196.3" y="172.81" width="46.9" height="10.63" fill="#c7c6c9" stroke="none" stroke-width="1" rx="0"/>
<circle cx="220" cy="152.2" r="1.65" fill="none" stroke="#c83a5e" stroke-width="1"/>
<circle cx="222.5" cy="165.7" r="1.65" fill="none" stroke="#c83a5e" stroke-width="1"/>
<circle cx="217.5" cy="168.2" r="1.65" fill="none" stroke="#c83a5e" stroke-width="1"/>
<circle cx="220" cy="171.95" r="1.65" fill="none" stroke="#c83a5e" stroke-width="1"/>
<circle cx="220" cy="175.2" r="1.65" fill="none" stroke="#484848" stroke-width="1"/>
<rect x="196.3" y="128.7" width="46.9" height="59.2" fill="none" stroke="#111" stroke-width="1.45" rx="0"/>
<line x1="194" y1="187.9" x2="196.3" y2="187.9" stroke="#1a1a1a" stroke-width="1" stroke-linecap="butt"/>
<text transform="translate(191.1 189.8) scale(0.1)" x="0" y="0" font-size="54" text-anchor="end" fill="#222" stroke="#222" stroke-width="0.7">0</text>
<line x1="194" y1="177.97" x2="196.3" y2="177.97" stroke="#1a1a1a" stroke-width="1" stroke-linecap="butt"/>
<text transform="translate(191.1 179.87) scale(0.1)" x="0" y="0" font-size="54" text-anchor="end" fill="#222" stroke="#222" stroke-width="0.7">1</text>
<line x1="194" y1="168.04" x2="196.3" y2="168.04" stroke="#1a1a1a" stroke-width="1" stroke-linecap="butt"/>
<text transform="translate(191.1 169.94) scale(0.1)" x="0" y="0" font-size="54" text-anchor="end" fill="#222" stroke="#222" stroke-width="0.7">2</text>
<line x1="194" y1="158.11" x2="196.3" y2="158.11" stroke="#1a1a1a" stroke-width="1" stroke-linecap="butt"/>
<text transform="translate(191.1 160.01) scale(0.1)" x="0" y="0" font-size="54" text-anchor="end" fill="#222" stroke="#222" stroke-width="0.7">3</text>
<line x1="194" y1="148.18" x2="196.3" y2="148.18" stroke="#1a1a1a" stroke-width="1" stroke-linecap="butt"/>
<text transform="translate(191.1 150.08) scale(0.1)" x="0" y="0" font-size="54" text-anchor="end" fill="#222" stroke="#222" stroke-width="0.7">4</text>
<line x1="194" y1="138.25" x2="196.3" y2="138.25" stroke="#1a1a1a" stroke-width="1" stroke-linecap="butt"/>
<text transform="translate(191.1 140.15) scale(0.1)" x="0" y="0" font-size="54" text-anchor="end" fill="#222" stroke="#222" stroke-width="0.7">5</text>
<line x1="194" y1="128.32" x2="196.3" y2="128.32" stroke="#1a1a1a" stroke-width="1" stroke-linecap="butt"/>
<text transform="translate(191.1 130.22) scale(0.1)" x="0" y="0" font-size="54" text-anchor="end" fill="#222" stroke="#222" stroke-width="0.7">6</text>
<line x1="196.5" y1="125.5" x2="243.2" y2="125.5" stroke="#1a1a1a" stroke-width="0.95" stroke-linecap="butt"/>
<ellipse cx="219.75" cy="121.5" rx="1.05" ry="0.95" fill="#2a2a2a"/>
<text transform="translate(219.75 198.8) scale(0.1)" x="0" y="0" font-size="54" text-anchor="middle" fill="#000" stroke="#000" stroke-width="1.2" font-weight="bold">Genes Complex II</text>
<text transform="translate(219.75 205.3) scale(0.1)" x="0" y="0" font-size="52" text-anchor="middle" fill="#333" stroke="#333" stroke-width="0.5">succinate:ubiquinone</text>
<text transform="translate(219.75 211.7) scale(0.1)" x="0" y="0" font-size="52" text-anchor="middle" fill="#333" stroke="#333" stroke-width="0.5">oxidoreductase</text>
<rect x="262" y="172.81" width="46.9" height="10.63" fill="#c7c6c9" stroke="none" stroke-width="1" rx="0"/>
<circle cx="283" cy="163.2" r="1.65" fill="none" stroke="#c83a5e" stroke-width="1"/>
<circle cx="287.8" cy="165.2" r="1.65" fill="none" stroke="#c83a5e" stroke-width="1"/>
<circle cx="292.4" cy="167.2" r="1.65" fill="none" stroke="#c83a5e" stroke-width="1"/>
<circle cx="278.2" cy="168.95" r="1.65" fill="none" stroke="#c83a5e" stroke-width="1"/>
<circle cx="283" cy="168.95" r="1.65" fill="none" stroke="#c83a5e" stroke-width="1"/>
<circle cx="287.8" cy="170.2" r="1.65" fill="none" stroke="#c83a5e" stroke-width="1"/>
<circle cx="278.2" cy="171.45" r="1.65" fill="none" stroke="#c83a5e" stroke-width="1"/>
<circle cx="283" cy="172.2" r="1.65" fill="none" stroke="#c83a5e" stroke-width="1"/>
<circle cx="297.4" cy="170.95" r="1.65" fill="none" stroke="#c83a5e" stroke-width="1"/>
<circle cx="273.6" cy="172.7" r="1.65" fill="none" stroke="#484848" stroke-width="1"/>
<circle cx="278.2" cy="175.2" r="1.65" fill="none" stroke="#484848" stroke-width="1"/>
<circle cx="287.8" cy="173.45" r="1.65" fill="none" stroke="#484848" stroke-width="1"/>
<circle cx="292.4" cy="173.2" r="1.65" fill="none" stroke="#484848" stroke-width="1"/>
<rect x="262" y="128.7" width="46.9" height="59.2" fill="none" stroke="#111" stroke-width="1.45" rx="0"/>
<line x1="259.7" y1="187.9" x2="262" y2="187.9" stroke="#1a1a1a" stroke-width="1" stroke-linecap="butt"/>
<text transform="translate(256.8 189.8) scale(0.1)" x="0" y="0" font-size="54" text-anchor="end" fill="#222" stroke="#222" stroke-width="0.7">0</text>
<line x1="259.7" y1="177.97" x2="262" y2="177.97" stroke="#1a1a1a" stroke-width="1" stroke-linecap="butt"/>
<text transform="translate(256.8 179.87) scale(0.1)" x="0" y="0" font-size="54" text-anchor="end" fill="#222" stroke="#222" stroke-width="0.7">1</text>
<line x1="259.7" y1="168.04" x2="262" y2="168.04" stroke="#1a1a1a" stroke-width="1" stroke-linecap="butt"/>
<text transform="translate(256.8 169.94) scale(0.1)" x="0" y="0" font-size="54" text-anchor="end" fill="#222" stroke="#222" stroke-width="0.7">2</text>
<line x1="259.7" y1="158.11" x2="262" y2="158.11" stroke="#1a1a1a" stroke-width="1" stroke-linecap="butt"/>
<text transform="translate(256.8 160.01) scale(0.1)" x="0" y="0" font-size="54" text-anchor="end" fill="#222" stroke="#222" stroke-width="0.7">3</text>
<line x1="259.7" y1="148.18" x2="262" y2="148.18" stroke="#1a1a1a" stroke-width="1" stroke-linecap="butt"/>
<text transform="translate(256.8 150.08) scale(0.1)" x="0" y="0" font-size="54" text-anchor="end" fill="#222" stroke="#222" stroke-width="0.7">4</text>
<line x1="259.7" y1="138.25" x2="262" y2="138.25" stroke="#1a1a1a" stroke-width="1" stroke-linecap="butt"/>
<text transform="translate(256.8 140.15) scale(0.1)" x="0" y="0" font-size="54" text-anchor="end" fill="#222" stroke="#222" stroke-width="0.7">5</text>
<line x1="259.7" y1="128.32" x2="262" y2="128.32" stroke="#1a1a1a" stroke-width="1" stroke-linecap="butt"/>
<text transform="translate(256.8 130.22) scale(0.1)" x="0" y="0" font-size="54" text-anchor="end" fill="#222" stroke="#222" stroke-width="0.7">6</text>
<line x1="262.2" y1="125.5" x2="308.9" y2="125.5" stroke="#1a1a1a" stroke-width="0.95" stroke-linecap="butt"/>
<ellipse cx="285.45" cy="121.5" rx="1.05" ry="0.95" fill="#2a2a2a"/>
<text transform="translate(285.45 198.8) scale(0.1)" x="0" y="0" font-size="54" text-anchor="middle" fill="#000" stroke="#000" stroke-width="1.2" font-weight="bold">Genes Complex III</text>
<text transform="translate(285.45 205.3) scale(0.1)" x="0" y="0" font-size="52" text-anchor="middle" fill="#333" stroke="#333" stroke-width="0.5">ubiquinol:cytochrome c</text>
<text transform="translate(285.45 211.7) scale(0.1)" x="0" y="0" font-size="52" text-anchor="middle" fill="#333" stroke="#333" stroke-width="0.5">oxidoreductase</text>
<rect x="329.2" y="172.81" width="46.9" height="10.63" fill="#c7c6c9" stroke="none" stroke-width="1" rx="0"/>
<circle cx="353" cy="154.7" r="1.65" fill="none" stroke="#c83a5e" stroke-width="1"/>
<circle cx="353" cy="161.95" r="1.65" fill="none" stroke="#c83a5e" stroke-width="1"/>
<circle cx="353" cy="168.45" r="1.65" fill="none" stroke="#c83a5e" stroke-width="1"/>
<circle cx="353" cy="171.2" r="1.65" fill="none" stroke="#c83a5e" stroke-width="1"/>
<circle cx="345.7" cy="176.45" r="1.65" fill="none" stroke="#484848" stroke-width="1"/>
<circle cx="350.5" cy="174.7" r="1.65" fill="none" stroke="#484848" stroke-width="1"/>
<circle cx="350.5" cy="178.95" r="1.65" fill="none" stroke="#484848" stroke-width="1"/>
<circle cx="355.5" cy="175.7" r="1.65" fill="none" stroke="#484848" stroke-width="1"/>
<circle cx="355.5" cy="178.2" r="1.65" fill="none" stroke="#484848" stroke-width="1"/>
<circle cx="360.5" cy="175.7" r="1.65" fill="none" stroke="#484848" stroke-width="1"/>
<rect x="329.2" y="128.7" width="46.9" height="59.2" fill="none" stroke="#111" stroke-width="1.45" rx="0"/>
<line x1="326.9" y1="187.9" x2="329.2" y2="187.9" stroke="#1a1a1a" stroke-width="1" stroke-linecap="butt"/>
<text transform="translate(324 189.8) scale(0.1)" x="0" y="0" font-size="54" text-anchor="end" fill="#222" stroke="#222" stroke-width="0.7">0</text>
<line x1="326.9" y1="177.97" x2="329.2" y2="177.97" stroke="#1a1a1a" stroke-width="1" stroke-linecap="butt"/>
<text transform="translate(324 179.87) scale(0.1)" x="0" y="0" font-size="54" text-anchor="end" fill="#222" stroke="#222" stroke-width="0.7">1</text>
<line x1="326.9" y1="168.04" x2="329.2" y2="168.04" stroke="#1a1a1a" stroke-width="1" stroke-linecap="butt"/>
<text transform="translate(324 169.94) scale(0.1)" x="0" y="0" font-size="54" text-anchor="end" fill="#222" stroke="#222" stroke-width="0.7">2</text>
<line x1="326.9" y1="158.11" x2="329.2" y2="158.11" stroke="#1a1a1a" stroke-width="1" stroke-linecap="butt"/>
<text transform="translate(324 160.01) scale(0.1)" x="0" y="0" font-size="54" text-anchor="end" fill="#222" stroke="#222" stroke-width="0.7">3</text>
<line x1="326.9" y1="148.18" x2="329.2" y2="148.18" stroke="#1a1a1a" stroke-width="1" stroke-linecap="butt"/>
<text transform="translate(324 150.08) scale(0.1)" x="0" y="0" font-size="54" text-anchor="end" fill="#222" stroke="#222" stroke-width="0.7">4</text>
<line x1="326.9" y1="138.25" x2="329.2" y2="138.25" stroke="#1a1a1a" stroke-width="1" stroke-linecap="butt"/>
<text transform="translate(324 140.15) scale(0.1)" x="0" y="0" font-size="54" text-anchor="end" fill="#222" stroke="#222" stroke-width="0.7">5</text>
<line x1="326.9" y1="128.32" x2="329.2" y2="128.32" stroke="#1a1a1a" stroke-width="1" stroke-linecap="butt"/>
<text transform="translate(324 130.22) scale(0.1)" x="0" y="0" font-size="54" text-anchor="end" fill="#222" stroke="#222" stroke-width="0.7">6</text>
<line x1="329.4" y1="125.5" x2="376.1" y2="125.5" stroke="#1a1a1a" stroke-width="0.95" stroke-linecap="butt"/>
<text transform="translate(352.65 123) scale(0.1)" x="0" y="0" font-size="46" text-anchor="middle" fill="#222" stroke="#222" stroke-width="0.7">ns</text>
<text transform="translate(352.65 198.8) scale(0.1)" x="0" y="0" font-size="54" text-anchor="middle" fill="#000" stroke="#000" stroke-width="1.2" font-weight="bold">Genes Complex IV</text>
<text transform="translate(352.65 205.3) scale(0.1)" x="0" y="0" font-size="52" text-anchor="middle" fill="#333" stroke="#333" stroke-width="0.5">cytochrome c</text>
<text transform="translate(352.65 211.7) scale(0.1)" x="0" y="0" font-size="52" text-anchor="middle" fill="#333" stroke="#333" stroke-width="0.5">oxidase</text>
<rect x="395.2" y="172.81" width="46.9" height="10.63" fill="#c7c6c9" stroke="none" stroke-width="1" rx="0"/>
<circle cx="418.2" cy="133.95" r="1.65" fill="none" stroke="#c83a5e" stroke-width="1"/>
<circle cx="415.95" cy="149.7" r="1.65" fill="none" stroke="#c83a5e" stroke-width="1"/>
<circle cx="420.7" cy="149.7" r="1.65" fill="none" stroke="#c83a5e" stroke-width="1"/>
<circle cx="418.2" cy="157.2" r="1.65" fill="none" stroke="#c83a5e" stroke-width="1"/>
<circle cx="418.2" cy="160.2" r="1.65" fill="none" stroke="#c83a5e" stroke-width="1"/>
<circle cx="408.95" cy="166.45" r="1.65" fill="none" stroke="#c83a5e" stroke-width="1"/>
<circle cx="413.45" cy="166.45" r="1.65" fill="none" stroke="#c83a5e" stroke-width="1"/>
<circle cx="408.95" cy="170.2" r="1.65" fill="none" stroke="#c83a5e" stroke-width="1"/>
<circle cx="413.45" cy="170.2" r="1.65" fill="none" stroke="#c83a5e" stroke-width="1"/>
<circle cx="423.2" cy="169.45" r="1.65" fill="none" stroke="#c83a5e" stroke-width="1"/>
<circle cx="427.7" cy="167.2" r="1.65" fill="none" stroke="#c83a5e" stroke-width="1"/>
<circle cx="427.7" cy="170.2" r="1.65" fill="none" stroke="#c83a5e" stroke-width="1"/>
<circle cx="418.2" cy="171.45" r="1.65" fill="none" stroke="#c83a5e" stroke-width="1"/>
<circle cx="413.45" cy="177.2" r="1.65" fill="none" stroke="#484848" stroke-width="1"/>
<circle cx="418.2" cy="175.2" r="1.65" fill="none" stroke="#484848" stroke-width="1"/>
<circle cx="423.2" cy="176.45" r="1.65" fill="none" stroke="#484848" stroke-width="1"/>
<rect x="395.2" y="128.7" width="46.9" height="59.2" fill="none" stroke="#111" stroke-width="1.45" rx="0"/>
<line x1="392.9" y1="187.9" x2="395.2" y2="187.9" stroke="#1a1a1a" stroke-width="1" stroke-linecap="butt"/>
<text transform="translate(390 189.8) scale(0.1)" x="0" y="0" font-size="54" text-anchor="end" fill="#222" stroke="#222" stroke-width="0.7">0</text>
<line x1="392.9" y1="177.97" x2="395.2" y2="177.97" stroke="#1a1a1a" stroke-width="1" stroke-linecap="butt"/>
<text transform="translate(390 179.87) scale(0.1)" x="0" y="0" font-size="54" text-anchor="end" fill="#222" stroke="#222" stroke-width="0.7">1</text>
<line x1="392.9" y1="168.04" x2="395.2" y2="168.04" stroke="#1a1a1a" stroke-width="1" stroke-linecap="butt"/>
<text transform="translate(390 169.94) scale(0.1)" x="0" y="0" font-size="54" text-anchor="end" fill="#222" stroke="#222" stroke-width="0.7">2</text>
<line x1="392.9" y1="158.11" x2="395.2" y2="158.11" stroke="#1a1a1a" stroke-width="1" stroke-linecap="butt"/>
<text transform="translate(390 160.01) scale(0.1)" x="0" y="0" font-size="54" text-anchor="end" fill="#222" stroke="#222" stroke-width="0.7">3</text>
<line x1="392.9" y1="148.18" x2="395.2" y2="148.18" stroke="#1a1a1a" stroke-width="1" stroke-linecap="butt"/>
<text transform="translate(390 150.08) scale(0.1)" x="0" y="0" font-size="54" text-anchor="end" fill="#222" stroke="#222" stroke-width="0.7">4</text>
<line x1="392.9" y1="138.25" x2="395.2" y2="138.25" stroke="#1a1a1a" stroke-width="1" stroke-linecap="butt"/>
<text transform="translate(390 140.15) scale(0.1)" x="0" y="0" font-size="54" text-anchor="end" fill="#222" stroke="#222" stroke-width="0.7">5</text>
<line x1="392.9" y1="128.32" x2="395.2" y2="128.32" stroke="#1a1a1a" stroke-width="1" stroke-linecap="butt"/>
<text transform="translate(390 130.22) scale(0.1)" x="0" y="0" font-size="54" text-anchor="end" fill="#222" stroke="#222" stroke-width="0.7">6</text>
<line x1="395.4" y1="125.5" x2="442.1" y2="125.5" stroke="#1a1a1a" stroke-width="0.95" stroke-linecap="butt"/>
<ellipse cx="418.65" cy="121.5" rx="1.05" ry="0.95" fill="#2a2a2a"/>
<text transform="translate(418.65 198.8) scale(0.1)" x="0" y="0" font-size="54" text-anchor="middle" fill="#000" stroke="#000" stroke-width="1.2" font-weight="bold">Genes Complex V</text>
<text transform="translate(418.65 205.3) scale(0.1)" x="0" y="0" font-size="52" text-anchor="middle" fill="#333" stroke="#333" stroke-width="0.5">ATP synthase</text>
<circle cx="446.2" cy="131.8" r="1.6" fill="none" stroke="#c83a5e" stroke-width="0.9"/>
<circle cx="446.2" cy="138.9" r="1.6" fill="none" stroke="#484848" stroke-width="0.9"/>
<text transform="translate(450.5 134.1) scale(0.1)" x="0" y="0" font-size="63" text-anchor="start" fill="#c42a50" stroke="#c42a50" stroke-width="1.2" textLength="195" lengthAdjust="spacingAndGlyphs">NKDim</text>
<text transform="translate(473.8 134.1) scale(0.1)" x="0" y="0" font-size="63" text-anchor="middle" fill="#333" stroke="#333" stroke-width="1.2">&gt;</text>
<text transform="translate(477.7 134.1) scale(0.1)" x="0" y="0" font-size="63" text-anchor="start" fill="#3a5a9a" stroke="#3a5a9a" stroke-width="1.2" textLength="153" lengthAdjust="spacingAndGlyphs">NKBr</text>
<text transform="translate(450.5 141.2) scale(0.1)" x="0" y="0" font-size="63" text-anchor="start" fill="#c42a50" stroke="#c42a50" stroke-width="1.2" textLength="195" lengthAdjust="spacingAndGlyphs">NKDim</text>
<text transform="translate(473.8 141.2) scale(0.1)" x="0" y="0" font-size="63" text-anchor="middle" fill="#333" stroke="#333" stroke-width="1.2">=</text>
<text transform="translate(477.7 141.2) scale(0.1)" x="0" y="0" font-size="63" text-anchor="start" fill="#3a5a9a" stroke="#3a5a9a" stroke-width="1.2" textLength="153" lengthAdjust="spacingAndGlyphs">NKBr</text>
<text transform="translate(8.4 231.8) scale(0.1)" x="0" y="0" font-size="106" text-anchor="start" fill="#000" font-weight="bold">E</text>
<text transform="translate(52.5 240.2) scale(0.1)" x="0" y="0" font-size="46" text-anchor="middle" fill="#222" stroke="#222" stroke-width="0.7" textLength="144" lengthAdjust="spacingAndGlyphs">Medium</text>
<line x1="52.5" y1="244.5" x2="52.5" y2="295" stroke="#222" stroke-width="1.1" stroke-linecap="butt" stroke-dasharray="2.6,2"/>
<text transform="translate(68.5 240.2) scale(0.1)" x="0" y="0" font-size="46" text-anchor="middle" fill="#222" stroke="#222" stroke-width="0.7" textLength="100" lengthAdjust="spacingAndGlyphs">Oligo</text>
<line x1="68.5" y1="244.5" x2="68.5" y2="295" stroke="#222" stroke-width="1.1" stroke-linecap="butt" stroke-dasharray="2.6,2"/>
<text transform="translate(84.6 240.2) scale(0.1)" x="0" y="0" font-size="46" text-anchor="middle" fill="#222" stroke="#222" stroke-width="0.7" textLength="117" lengthAdjust="spacingAndGlyphs">FCCP</text>
<line x1="84.6" y1="244.5" x2="84.6" y2="295" stroke="#222" stroke-width="1.1" stroke-linecap="butt" stroke-dasharray="2.6,2"/>
<text transform="translate(100.8 240.2) scale(0.1)" x="0" y="0" font-size="46" text-anchor="middle" fill="#222" stroke="#222" stroke-width="0.7" textLength="128" lengthAdjust="spacingAndGlyphs">RO/AA</text>
<line x1="100.8" y1="244.5" x2="100.8" y2="295" stroke="#222" stroke-width="1.1" stroke-linecap="butt" stroke-dasharray="2.6,2"/>
<line x1="30.1" y1="238.5" x2="30.1" y2="295.2" stroke="#1a1a1a" stroke-width="1.3" stroke-linecap="butt"/>
<line x1="27.5" y1="295.2" x2="30.1" y2="295.2" stroke="#1a1a1a" stroke-width="1.15" stroke-linecap="butt"/>
<text transform="translate(25 297.14) scale(0.1)" x="0" y="0" font-size="54" text-anchor="end" fill="#222" stroke="#222" stroke-width="0.7">0</text>
<line x1="27.5" y1="277" x2="30.1" y2="277" stroke="#1a1a1a" stroke-width="1.15" stroke-linecap="butt"/>
<text transform="translate(25 278.94) scale(0.1)" x="0" y="0" font-size="54" text-anchor="end" fill="#222" stroke="#222" stroke-width="0.7">10</text>
<line x1="27.5" y1="258.8" x2="30.1" y2="258.8" stroke="#1a1a1a" stroke-width="1.15" stroke-linecap="butt"/>
<text transform="translate(25 260.74) scale(0.1)" x="0" y="0" font-size="54" text-anchor="end" fill="#222" stroke="#222" stroke-width="0.7">20</text>
<line x1="27.5" y1="240.6" x2="30.1" y2="240.6" stroke="#1a1a1a" stroke-width="1.15" stroke-linecap="butt"/>
<text transform="translate(25 242.54) scale(0.1)" x="0" y="0" font-size="54" text-anchor="end" fill="#222" stroke="#222" stroke-width="0.7">30</text>
<line x1="29.6" y1="295.1" x2="116.8" y2="295.1" stroke="#1a1a1a" stroke-width="1.1" stroke-linecap="butt"/>
<line x1="30.5" y1="295.1" x2="30.5" y2="297.3" stroke="#1a1a1a" stroke-width="1.1" stroke-linecap="butt"/>
<text transform="translate(30.5 305.9) scale(0.1)" x="0" y="0" font-size="54" text-anchor="middle" fill="#222" stroke="#222" stroke-width="0.7">0</text>
<line x1="69.85" y1="295.1" x2="69.85" y2="297.3" stroke="#1a1a1a" stroke-width="1.1" stroke-linecap="butt"/>
<text transform="translate(69.85 305.9) scale(0.1)" x="0" y="0" font-size="54" text-anchor="middle" fill="#222" stroke="#222" stroke-width="0.7">50</text>
<line x1="109.2" y1="295.1" x2="109.2" y2="297.3" stroke="#1a1a1a" stroke-width="1.1" stroke-linecap="butt"/>
<text transform="translate(109.2 305.9) scale(0.1)" x="0" y="0" font-size="54" text-anchor="middle" fill="#222" stroke="#222" stroke-width="0.7">100</text>
<text transform="translate(73.6 316.3) scale(0.1)" x="0" y="0" font-size="72" text-anchor="middle" fill="#1a1a1a" stroke="#1a1a1a" stroke-width="2.8" textLength="338" lengthAdjust="spacingAndGlyphs">Time (minutes)</text>
<text transform="translate(13.7 266.8) rotate(-90) scale(0.1)" x="0" y="0" font-size="60" text-anchor="middle" fill="#1a1a1a" stroke="#1a1a1a" stroke-width="2.5" textLength="407" lengthAdjust="spacingAndGlyphs">ECAR (mpH/min)</text>
<line x1="31" y1="283.07" x2="31" y2="288.53" stroke="#b9c0dd" stroke-width="0.8" stroke-linecap="butt"/>
<line x1="29.3" y1="283.07" x2="32.7" y2="283.07" stroke="#b9c0dd" stroke-width="0.8" stroke-linecap="butt"/>
<line x1="29.3" y1="288.53" x2="32.7" y2="288.53" stroke="#b9c0dd" stroke-width="0.8" stroke-linecap="butt"/>
<line x1="36.6" y1="284.77" x2="36.6" y2="290.23" stroke="#b9c0dd" stroke-width="0.8" stroke-linecap="butt"/>
<line x1="34.9" y1="284.77" x2="38.3" y2="284.77" stroke="#b9c0dd" stroke-width="0.8" stroke-linecap="butt"/>
<line x1="34.9" y1="290.23" x2="38.3" y2="290.23" stroke="#b9c0dd" stroke-width="0.8" stroke-linecap="butt"/>
<line x1="42.2" y1="284.77" x2="42.2" y2="290.23" stroke="#b9c0dd" stroke-width="0.8" stroke-linecap="butt"/>
<line x1="40.5" y1="284.77" x2="43.9" y2="284.77" stroke="#b9c0dd" stroke-width="0.8" stroke-linecap="butt"/>
<line x1="40.5" y1="290.23" x2="43.9" y2="290.23" stroke="#b9c0dd" stroke-width="0.8" stroke-linecap="butt"/>
<line x1="47.8" y1="285.27" x2="47.8" y2="290.73" stroke="#b9c0dd" stroke-width="0.8" stroke-linecap="butt"/>
<line x1="46.1" y1="285.27" x2="49.5" y2="285.27" stroke="#b9c0dd" stroke-width="0.8" stroke-linecap="butt"/>
<line x1="46.1" y1="290.73" x2="49.5" y2="290.73" stroke="#b9c0dd" stroke-width="0.8" stroke-linecap="butt"/>
<line x1="53.4" y1="282.95" x2="53.4" y2="292.05" stroke="#b9c0dd" stroke-width="0.8" stroke-linecap="butt"/>
<line x1="51.7" y1="282.95" x2="55.1" y2="282.95" stroke="#b9c0dd" stroke-width="0.8" stroke-linecap="butt"/>
<line x1="51.7" y1="292.05" x2="55.1" y2="292.05" stroke="#b9c0dd" stroke-width="0.8" stroke-linecap="butt"/>
<line x1="59" y1="281.25" x2="59" y2="290.35" stroke="#b9c0dd" stroke-width="0.8" stroke-linecap="butt"/>
<line x1="57.3" y1="281.25" x2="60.7" y2="281.25" stroke="#b9c0dd" stroke-width="0.8" stroke-linecap="butt"/>
<line x1="57.3" y1="290.35" x2="60.7" y2="290.35" stroke="#b9c0dd" stroke-width="0.8" stroke-linecap="butt"/>
<line x1="64.6" y1="281.06" x2="64.6" y2="288.34" stroke="#b9c0dd" stroke-width="0.8" stroke-linecap="butt"/>
<line x1="62.9" y1="281.06" x2="66.3" y2="281.06" stroke="#b9c0dd" stroke-width="0.8" stroke-linecap="butt"/>
<line x1="62.9" y1="288.34" x2="66.3" y2="288.34" stroke="#b9c0dd" stroke-width="0.8" stroke-linecap="butt"/>
<line x1="70.2" y1="276.93" x2="70.2" y2="289.67" stroke="#b9c0dd" stroke-width="0.8" stroke-linecap="butt"/>
<line x1="68.5" y1="276.93" x2="71.9" y2="276.93" stroke="#b9c0dd" stroke-width="0.8" stroke-linecap="butt"/>
<line x1="68.5" y1="289.67" x2="71.9" y2="289.67" stroke="#b9c0dd" stroke-width="0.8" stroke-linecap="butt"/>
<line x1="75.8" y1="280.97" x2="75.8" y2="286.43" stroke="#b9c0dd" stroke-width="0.8" stroke-linecap="butt"/>
<line x1="74.1" y1="280.97" x2="77.5" y2="280.97" stroke="#b9c0dd" stroke-width="0.8" stroke-linecap="butt"/>
<line x1="74.1" y1="286.43" x2="77.5" y2="286.43" stroke="#b9c0dd" stroke-width="0.8" stroke-linecap="butt"/>
<line x1="81.4" y1="272.57" x2="81.4" y2="278.03" stroke="#b9c0dd" stroke-width="0.8" stroke-linecap="butt"/>
<line x1="79.7" y1="272.57" x2="83.1" y2="272.57" stroke="#b9c0dd" stroke-width="0.8" stroke-linecap="butt"/>
<line x1="79.7" y1="278.03" x2="83.1" y2="278.03" stroke="#b9c0dd" stroke-width="0.8" stroke-linecap="butt"/>
<line x1="87" y1="271.47" x2="87" y2="276.93" stroke="#b9c0dd" stroke-width="0.8" stroke-linecap="butt"/>
<line x1="85.3" y1="271.47" x2="88.7" y2="271.47" stroke="#b9c0dd" stroke-width="0.8" stroke-linecap="butt"/>
<line x1="85.3" y1="276.93" x2="88.7" y2="276.93" stroke="#b9c0dd" stroke-width="0.8" stroke-linecap="butt"/>
<line x1="92.6" y1="271.47" x2="92.6" y2="276.93" stroke="#b9c0dd" stroke-width="0.8" stroke-linecap="butt"/>
<line x1="90.9" y1="271.47" x2="94.3" y2="271.47" stroke="#b9c0dd" stroke-width="0.8" stroke-linecap="butt"/>
<line x1="90.9" y1="276.93" x2="94.3" y2="276.93" stroke="#b9c0dd" stroke-width="0.8" stroke-linecap="butt"/>
<line x1="98.2" y1="280.97" x2="98.2" y2="286.43" stroke="#b9c0dd" stroke-width="0.8" stroke-linecap="butt"/>
<line x1="96.5" y1="280.97" x2="99.9" y2="280.97" stroke="#b9c0dd" stroke-width="0.8" stroke-linecap="butt"/>
<line x1="96.5" y1="286.43" x2="99.9" y2="286.43" stroke="#b9c0dd" stroke-width="0.8" stroke-linecap="butt"/>
<line x1="103.8" y1="280.7" x2="103.8" y2="288.7" stroke="#b9c0dd" stroke-width="0.8" stroke-linecap="butt"/>
<line x1="102.1" y1="280.7" x2="105.5" y2="280.7" stroke="#b9c0dd" stroke-width="0.8" stroke-linecap="butt"/>
<line x1="102.1" y1="288.7" x2="105.5" y2="288.7" stroke="#b9c0dd" stroke-width="0.8" stroke-linecap="butt"/>
<line x1="109.4" y1="280.2" x2="109.4" y2="288.2" stroke="#b9c0dd" stroke-width="0.8" stroke-linecap="butt"/>
<line x1="107.7" y1="280.2" x2="111.1" y2="280.2" stroke="#b9c0dd" stroke-width="0.8" stroke-linecap="butt"/>
<line x1="107.7" y1="288.2" x2="111.1" y2="288.2" stroke="#b9c0dd" stroke-width="0.8" stroke-linecap="butt"/>
<polyline points="31,285.8 36.6,287.5 42.2,287.5 47.8,288 53.4,287.5 59,285.8 64.6,284.7 70.2,283.3 75.8,283.7 81.4,275.3 87,274.2 92.6,274.2 98.2,283.7 103.8,284.7 109.4,284.2" fill="none" stroke="#99a2cc" stroke-width="0.9" stroke-linejoin="round"/>
<circle cx="31" cy="285.8" r="2" fill="#99a2cc" stroke="none" stroke-width="1"/>
<circle cx="36.6" cy="287.5" r="2" fill="#99a2cc" stroke="none" stroke-width="1"/>
<circle cx="42.2" cy="287.5" r="2" fill="#99a2cc" stroke="none" stroke-width="1"/>
<circle cx="47.8" cy="288" r="2" fill="#99a2cc" stroke="none" stroke-width="1"/>
<circle cx="53.4" cy="287.5" r="2" fill="#99a2cc" stroke="none" stroke-width="1"/>
<circle cx="59" cy="285.8" r="2" fill="#99a2cc" stroke="none" stroke-width="1"/>
<circle cx="64.6" cy="284.7" r="2" fill="#99a2cc" stroke="none" stroke-width="1"/>
<circle cx="70.2" cy="283.3" r="2" fill="#99a2cc" stroke="none" stroke-width="1"/>
<circle cx="75.8" cy="283.7" r="2" fill="#99a2cc" stroke="none" stroke-width="1"/>
<circle cx="81.4" cy="275.3" r="2" fill="#99a2cc" stroke="none" stroke-width="1"/>
<circle cx="87" cy="274.2" r="2" fill="#99a2cc" stroke="none" stroke-width="1"/>
<circle cx="92.6" cy="274.2" r="2" fill="#99a2cc" stroke="none" stroke-width="1"/>
<circle cx="98.2" cy="283.7" r="2" fill="#99a2cc" stroke="none" stroke-width="1"/>
<circle cx="103.8" cy="284.7" r="2" fill="#99a2cc" stroke="none" stroke-width="1"/>
<circle cx="109.4" cy="284.2" r="2" fill="#99a2cc" stroke="none" stroke-width="1"/>
<line x1="31" y1="277.63" x2="31" y2="282.37" stroke="#e8b5aa" stroke-width="0.8" stroke-linecap="butt"/>
<line x1="29.3" y1="277.63" x2="32.7" y2="277.63" stroke="#e8b5aa" stroke-width="0.8" stroke-linecap="butt"/>
<line x1="29.3" y1="282.37" x2="32.7" y2="282.37" stroke="#e8b5aa" stroke-width="0.8" stroke-linecap="butt"/>
<line x1="36.6" y1="278.63" x2="36.6" y2="283.37" stroke="#e8b5aa" stroke-width="0.8" stroke-linecap="butt"/>
<line x1="34.9" y1="278.63" x2="38.3" y2="278.63" stroke="#e8b5aa" stroke-width="0.8" stroke-linecap="butt"/>
<line x1="34.9" y1="283.37" x2="38.3" y2="283.37" stroke="#e8b5aa" stroke-width="0.8" stroke-linecap="butt"/>
<line x1="42.2" y1="279.13" x2="42.2" y2="283.87" stroke="#e8b5aa" stroke-width="0.8" stroke-linecap="butt"/>
<line x1="40.5" y1="279.13" x2="43.9" y2="279.13" stroke="#e8b5aa" stroke-width="0.8" stroke-linecap="butt"/>
<line x1="40.5" y1="283.87" x2="43.9" y2="283.87" stroke="#e8b5aa" stroke-width="0.8" stroke-linecap="butt"/>
<line x1="47.8" y1="280.13" x2="47.8" y2="284.87" stroke="#e8b5aa" stroke-width="0.8" stroke-linecap="butt"/>
<line x1="46.1" y1="280.13" x2="49.5" y2="280.13" stroke="#e8b5aa" stroke-width="0.8" stroke-linecap="butt"/>
<line x1="46.1" y1="284.87" x2="49.5" y2="284.87" stroke="#e8b5aa" stroke-width="0.8" stroke-linecap="butt"/>
<line x1="53.4" y1="273.63" x2="53.4" y2="278.37" stroke="#e8b5aa" stroke-width="0.8" stroke-linecap="butt"/>
<line x1="51.7" y1="273.63" x2="55.1" y2="273.63" stroke="#e8b5aa" stroke-width="0.8" stroke-linecap="butt"/>
<line x1="51.7" y1="278.37" x2="55.1" y2="278.37" stroke="#e8b5aa" stroke-width="0.8" stroke-linecap="butt"/>
<line x1="59" y1="275.13" x2="59" y2="279.87" stroke="#e8b5aa" stroke-width="0.8" stroke-linecap="butt"/>
<line x1="57.3" y1="275.13" x2="60.7" y2="275.13" stroke="#e8b5aa" stroke-width="0.8" stroke-linecap="butt"/>
<line x1="57.3" y1="279.87" x2="60.7" y2="279.87" stroke="#e8b5aa" stroke-width="0.8" stroke-linecap="butt"/>
<line x1="64.6" y1="260.56" x2="64.6" y2="267.84" stroke="#e8b5aa" stroke-width="0.8" stroke-linecap="butt"/>
<line x1="62.9" y1="260.56" x2="66.3" y2="260.56" stroke="#e8b5aa" stroke-width="0.8" stroke-linecap="butt"/>
<line x1="62.9" y1="267.84" x2="66.3" y2="267.84" stroke="#e8b5aa" stroke-width="0.8" stroke-linecap="butt"/>
<line x1="70.2" y1="260.57" x2="70.2" y2="266.03" stroke="#e8b5aa" stroke-width="0.8" stroke-linecap="butt"/>
<line x1="68.5" y1="260.57" x2="71.9" y2="260.57" stroke="#e8b5aa" stroke-width="0.8" stroke-linecap="butt"/>
<line x1="68.5" y1="266.03" x2="71.9" y2="266.03" stroke="#e8b5aa" stroke-width="0.8" stroke-linecap="butt"/>
<line x1="75.8" y1="261.47" x2="75.8" y2="266.93" stroke="#e8b5aa" stroke-width="0.8" stroke-linecap="butt"/>
<line x1="74.1" y1="261.47" x2="77.5" y2="261.47" stroke="#e8b5aa" stroke-width="0.8" stroke-linecap="butt"/>
<line x1="74.1" y1="266.93" x2="77.5" y2="266.93" stroke="#e8b5aa" stroke-width="0.8" stroke-linecap="butt"/>
<line x1="81.4" y1="261.47" x2="81.4" y2="266.93" stroke="#e8b5aa" stroke-width="0.8" stroke-linecap="butt"/>
<line x1="79.7" y1="261.47" x2="83.1" y2="261.47" stroke="#e8b5aa" stroke-width="0.8" stroke-linecap="butt"/>
<line x1="79.7" y1="266.93" x2="83.1" y2="266.93" stroke="#e8b5aa" stroke-width="0.8" stroke-linecap="butt"/>
<line x1="87" y1="259.27" x2="87" y2="264.73" stroke="#e8b5aa" stroke-width="0.8" stroke-linecap="butt"/>
<line x1="85.3" y1="259.27" x2="88.7" y2="259.27" stroke="#e8b5aa" stroke-width="0.8" stroke-linecap="butt"/>
<line x1="85.3" y1="264.73" x2="88.7" y2="264.73" stroke="#e8b5aa" stroke-width="0.8" stroke-linecap="butt"/>
<line x1="92.6" y1="257.57" x2="92.6" y2="263.03" stroke="#e8b5aa" stroke-width="0.8" stroke-linecap="butt"/>
<line x1="90.9" y1="257.57" x2="94.3" y2="257.57" stroke="#e8b5aa" stroke-width="0.8" stroke-linecap="butt"/>
<line x1="90.9" y1="263.03" x2="94.3" y2="263.03" stroke="#e8b5aa" stroke-width="0.8" stroke-linecap="butt"/>
<line x1="98.2" y1="265.75" x2="98.2" y2="274.85" stroke="#e8b5aa" stroke-width="0.8" stroke-linecap="butt"/>
<line x1="96.5" y1="265.75" x2="99.9" y2="265.75" stroke="#e8b5aa" stroke-width="0.8" stroke-linecap="butt"/>
<line x1="96.5" y1="274.85" x2="99.9" y2="274.85" stroke="#e8b5aa" stroke-width="0.8" stroke-linecap="butt"/>
<line x1="103.8" y1="265.15" x2="103.8" y2="274.25" stroke="#e8b5aa" stroke-width="0.8" stroke-linecap="butt"/>
<line x1="102.1" y1="265.15" x2="105.5" y2="265.15" stroke="#e8b5aa" stroke-width="0.8" stroke-linecap="butt"/>
<line x1="102.1" y1="274.25" x2="105.5" y2="274.25" stroke="#e8b5aa" stroke-width="0.8" stroke-linecap="butt"/>
<line x1="109.4" y1="264.65" x2="109.4" y2="273.75" stroke="#e8b5aa" stroke-width="0.8" stroke-linecap="butt"/>
<line x1="107.7" y1="264.65" x2="111.1" y2="264.65" stroke="#e8b5aa" stroke-width="0.8" stroke-linecap="butt"/>
<line x1="107.7" y1="273.75" x2="111.1" y2="273.75" stroke="#e8b5aa" stroke-width="0.8" stroke-linecap="butt"/>
<polyline points="31,280 36.6,281 42.2,281.5 47.8,282.5 53.4,276 59,277.5 64.6,264.2 70.2,263.3 75.8,264.2 81.4,264.2 87,262 92.6,260.3 98.2,270.3 103.8,269.7 109.4,269.2" fill="none" stroke="#da917f" stroke-width="0.9" stroke-linejoin="round"/>
<circle cx="31" cy="280" r="2" fill="#da917f" stroke="none" stroke-width="1"/>
<circle cx="36.6" cy="281" r="2" fill="#da917f" stroke="none" stroke-width="1"/>
<circle cx="42.2" cy="281.5" r="2" fill="#da917f" stroke="none" stroke-width="1"/>
<circle cx="47.8" cy="282.5" r="2" fill="#da917f" stroke="none" stroke-width="1"/>
<circle cx="53.4" cy="276" r="2" fill="#da917f" stroke="none" stroke-width="1"/>
<circle cx="59" cy="277.5" r="2" fill="#da917f" stroke="none" stroke-width="1"/>
<circle cx="64.6" cy="264.2" r="2" fill="#da917f" stroke="none" stroke-width="1"/>
<circle cx="70.2" cy="263.3" r="2" fill="#da917f" stroke="none" stroke-width="1"/>
<circle cx="75.8" cy="264.2" r="2" fill="#da917f" stroke="none" stroke-width="1"/>
<circle cx="81.4" cy="264.2" r="2" fill="#da917f" stroke="none" stroke-width="1"/>
<circle cx="87" cy="262" r="2" fill="#da917f" stroke="none" stroke-width="1"/>
<circle cx="92.6" cy="260.3" r="2" fill="#da917f" stroke="none" stroke-width="1"/>
<circle cx="98.2" cy="270.3" r="2" fill="#da917f" stroke="none" stroke-width="1"/>
<circle cx="103.8" cy="269.7" r="2" fill="#da917f" stroke="none" stroke-width="1"/>
<circle cx="109.4" cy="269.2" r="2" fill="#da917f" stroke="none" stroke-width="1"/>
<line x1="31" y1="275.68" x2="31" y2="279.32" stroke="#d46a80" stroke-width="0.8" stroke-linecap="butt"/>
<line x1="29.3" y1="275.68" x2="32.7" y2="275.68" stroke="#d46a80" stroke-width="0.8" stroke-linecap="butt"/>
<line x1="29.3" y1="279.32" x2="32.7" y2="279.32" stroke="#d46a80" stroke-width="0.8" stroke-linecap="butt"/>
<line x1="36.6" y1="275.68" x2="36.6" y2="279.32" stroke="#d46a80" stroke-width="0.8" stroke-linecap="butt"/>
<line x1="34.9" y1="275.68" x2="38.3" y2="275.68" stroke="#d46a80" stroke-width="0.8" stroke-linecap="butt"/>
<line x1="34.9" y1="279.32" x2="38.3" y2="279.32" stroke="#d46a80" stroke-width="0.8" stroke-linecap="butt"/>
<line x1="42.2" y1="275.68" x2="42.2" y2="279.32" stroke="#d46a80" stroke-width="0.8" stroke-linecap="butt"/>
<line x1="40.5" y1="275.68" x2="43.9" y2="275.68" stroke="#d46a80" stroke-width="0.8" stroke-linecap="butt"/>
<line x1="40.5" y1="279.32" x2="43.9" y2="279.32" stroke="#d46a80" stroke-width="0.8" stroke-linecap="butt"/>
<line x1="47.8" y1="274.88" x2="47.8" y2="278.52" stroke="#d46a80" stroke-width="0.8" stroke-linecap="butt"/>
<line x1="46.1" y1="274.88" x2="49.5" y2="274.88" stroke="#d46a80" stroke-width="0.8" stroke-linecap="butt"/>
<line x1="46.1" y1="278.52" x2="49.5" y2="278.52" stroke="#d46a80" stroke-width="0.8" stroke-linecap="butt"/>
<line x1="53.4" y1="273.18" x2="53.4" y2="276.82" stroke="#d46a80" stroke-width="0.8" stroke-linecap="butt"/>
<line x1="51.7" y1="273.18" x2="55.1" y2="273.18" stroke="#d46a80" stroke-width="0.8" stroke-linecap="butt"/>
<line x1="51.7" y1="276.82" x2="55.1" y2="276.82" stroke="#d46a80" stroke-width="0.8" stroke-linecap="butt"/>
<line x1="59" y1="272.38" x2="59" y2="276.02" stroke="#d46a80" stroke-width="0.8" stroke-linecap="butt"/>
<line x1="57.3" y1="272.38" x2="60.7" y2="272.38" stroke="#d46a80" stroke-width="0.8" stroke-linecap="butt"/>
<line x1="57.3" y1="276.02" x2="60.7" y2="276.02" stroke="#d46a80" stroke-width="0.8" stroke-linecap="butt"/>
<line x1="64.6" y1="267.38" x2="64.6" y2="271.02" stroke="#d46a80" stroke-width="0.8" stroke-linecap="butt"/>
<line x1="62.9" y1="267.38" x2="66.3" y2="267.38" stroke="#d46a80" stroke-width="0.8" stroke-linecap="butt"/>
<line x1="62.9" y1="271.02" x2="66.3" y2="271.02" stroke="#d46a80" stroke-width="0.8" stroke-linecap="butt"/>
<line x1="70.2" y1="262.66" x2="70.2" y2="269.94" stroke="#d46a80" stroke-width="0.8" stroke-linecap="butt"/>
<line x1="68.5" y1="262.66" x2="71.9" y2="262.66" stroke="#d46a80" stroke-width="0.8" stroke-linecap="butt"/>
<line x1="68.5" y1="269.94" x2="71.9" y2="269.94" stroke="#d46a80" stroke-width="0.8" stroke-linecap="butt"/>
<line x1="75.8" y1="261.66" x2="75.8" y2="268.94" stroke="#d46a80" stroke-width="0.8" stroke-linecap="butt"/>
<line x1="74.1" y1="261.66" x2="77.5" y2="261.66" stroke="#d46a80" stroke-width="0.8" stroke-linecap="butt"/>
<line x1="74.1" y1="268.94" x2="77.5" y2="268.94" stroke="#d46a80" stroke-width="0.8" stroke-linecap="butt"/>
<line x1="81.4" y1="249.82" x2="81.4" y2="254.18" stroke="#d46a80" stroke-width="0.8" stroke-linecap="butt"/>
<line x1="79.7" y1="249.82" x2="83.1" y2="249.82" stroke="#d46a80" stroke-width="0.8" stroke-linecap="butt"/>
<line x1="79.7" y1="254.18" x2="83.1" y2="254.18" stroke="#d46a80" stroke-width="0.8" stroke-linecap="butt"/>
<line x1="87" y1="249.52" x2="87" y2="253.88" stroke="#d46a80" stroke-width="0.8" stroke-linecap="butt"/>
<line x1="85.3" y1="249.52" x2="88.7" y2="249.52" stroke="#d46a80" stroke-width="0.8" stroke-linecap="butt"/>
<line x1="85.3" y1="253.88" x2="88.7" y2="253.88" stroke="#d46a80" stroke-width="0.8" stroke-linecap="butt"/>
<line x1="92.6" y1="249.12" x2="92.6" y2="253.48" stroke="#d46a80" stroke-width="0.8" stroke-linecap="butt"/>
<line x1="90.9" y1="249.12" x2="94.3" y2="249.12" stroke="#d46a80" stroke-width="0.8" stroke-linecap="butt"/>
<line x1="90.9" y1="253.48" x2="94.3" y2="253.48" stroke="#d46a80" stroke-width="0.8" stroke-linecap="butt"/>
<line x1="98.2" y1="256.18" x2="98.2" y2="259.82" stroke="#d46a80" stroke-width="0.8" stroke-linecap="butt"/>
<line x1="96.5" y1="256.18" x2="99.9" y2="256.18" stroke="#d46a80" stroke-width="0.8" stroke-linecap="butt"/>
<line x1="96.5" y1="259.82" x2="99.9" y2="259.82" stroke="#d46a80" stroke-width="0.8" stroke-linecap="butt"/>
<line x1="103.8" y1="254.88" x2="103.8" y2="258.52" stroke="#d46a80" stroke-width="0.8" stroke-linecap="butt"/>
<line x1="102.1" y1="254.88" x2="105.5" y2="254.88" stroke="#d46a80" stroke-width="0.8" stroke-linecap="butt"/>
<line x1="102.1" y1="258.52" x2="105.5" y2="258.52" stroke="#d46a80" stroke-width="0.8" stroke-linecap="butt"/>
<line x1="109.4" y1="253.98" x2="109.4" y2="257.62" stroke="#d46a80" stroke-width="0.8" stroke-linecap="butt"/>
<line x1="107.7" y1="253.98" x2="111.1" y2="253.98" stroke="#d46a80" stroke-width="0.8" stroke-linecap="butt"/>
<line x1="107.7" y1="257.62" x2="111.1" y2="257.62" stroke="#d46a80" stroke-width="0.8" stroke-linecap="butt"/>
<polyline points="31,277.5 36.6,277.5 42.2,277.5 47.8,276.7 53.4,275 59,274.2 64.6,269.2 70.2,266.3 75.8,265.3 81.4,252 87,251.7 92.6,251.3 98.2,258 103.8,256.7 109.4,255.8" fill="none" stroke="#b4002a" stroke-width="0.9" stroke-linejoin="round"/>
<circle cx="31" cy="277.5" r="2" fill="#b4002a" stroke="none" stroke-width="1"/>
<circle cx="36.6" cy="277.5" r="2" fill="#b4002a" stroke="none" stroke-width="1"/>
<circle cx="42.2" cy="277.5" r="2" fill="#b4002a" stroke="none" stroke-width="1"/>
<circle cx="47.8" cy="276.7" r="2" fill="#b4002a" stroke="none" stroke-width="1"/>
<circle cx="53.4" cy="275" r="2" fill="#b4002a" stroke="none" stroke-width="1"/>
<circle cx="59" cy="274.2" r="2" fill="#b4002a" stroke="none" stroke-width="1"/>
<circle cx="64.6" cy="269.2" r="2" fill="#b4002a" stroke="none" stroke-width="1"/>
<circle cx="70.2" cy="266.3" r="2" fill="#b4002a" stroke="none" stroke-width="1"/>
<circle cx="75.8" cy="265.3" r="2" fill="#b4002a" stroke="none" stroke-width="1"/>
<circle cx="81.4" cy="252" r="2" fill="#b4002a" stroke="none" stroke-width="1"/>
<circle cx="87" cy="251.7" r="2" fill="#b4002a" stroke="none" stroke-width="1"/>
<circle cx="92.6" cy="251.3" r="2" fill="#b4002a" stroke="none" stroke-width="1"/>
<circle cx="98.2" cy="258" r="2" fill="#b4002a" stroke="none" stroke-width="1"/>
<circle cx="103.8" cy="256.7" r="2" fill="#b4002a" stroke="none" stroke-width="1"/>
<circle cx="109.4" cy="255.8" r="2" fill="#b4002a" stroke="none" stroke-width="1"/>
<line x1="31" y1="279.52" x2="31" y2="283.88" stroke="#6a80ad" stroke-width="0.8" stroke-linecap="butt"/>
<line x1="29.3" y1="279.52" x2="32.7" y2="279.52" stroke="#6a80ad" stroke-width="0.8" stroke-linecap="butt"/>
<line x1="29.3" y1="283.88" x2="32.7" y2="283.88" stroke="#6a80ad" stroke-width="0.8" stroke-linecap="butt"/>
<line x1="36.6" y1="280.82" x2="36.6" y2="285.18" stroke="#6a80ad" stroke-width="0.8" stroke-linecap="butt"/>
<line x1="34.9" y1="280.82" x2="38.3" y2="280.82" stroke="#6a80ad" stroke-width="0.8" stroke-linecap="butt"/>
<line x1="34.9" y1="285.18" x2="38.3" y2="285.18" stroke="#6a80ad" stroke-width="0.8" stroke-linecap="butt"/>
<line x1="42.2" y1="280.32" x2="42.2" y2="284.68" stroke="#6a80ad" stroke-width="0.8" stroke-linecap="butt"/>
<line x1="40.5" y1="280.32" x2="43.9" y2="280.32" stroke="#6a80ad" stroke-width="0.8" stroke-linecap="butt"/>
<line x1="40.5" y1="284.68" x2="43.9" y2="284.68" stroke="#6a80ad" stroke-width="0.8" stroke-linecap="butt"/>
<line x1="47.8" y1="276.12" x2="47.8" y2="280.48" stroke="#6a80ad" stroke-width="0.8" stroke-linecap="butt"/>
<line x1="46.1" y1="276.12" x2="49.5" y2="276.12" stroke="#6a80ad" stroke-width="0.8" stroke-linecap="butt"/>
<line x1="46.1" y1="280.48" x2="49.5" y2="280.48" stroke="#6a80ad" stroke-width="0.8" stroke-linecap="butt"/>
<line x1="53.4" y1="271.66" x2="53.4" y2="278.94" stroke="#6a80ad" stroke-width="0.8" stroke-linecap="butt"/>
<line x1="51.7" y1="271.66" x2="55.1" y2="271.66" stroke="#6a80ad" stroke-width="0.8" stroke-linecap="butt"/>
<line x1="51.7" y1="278.94" x2="55.1" y2="278.94" stroke="#6a80ad" stroke-width="0.8" stroke-linecap="butt"/>
<line x1="59" y1="271.47" x2="59" y2="276.93" stroke="#6a80ad" stroke-width="0.8" stroke-linecap="butt"/>
<line x1="57.3" y1="271.47" x2="60.7" y2="271.47" stroke="#6a80ad" stroke-width="0.8" stroke-linecap="butt"/>
<line x1="57.3" y1="276.93" x2="60.7" y2="276.93" stroke="#6a80ad" stroke-width="0.8" stroke-linecap="butt"/>
<line x1="64.6" y1="270.97" x2="64.6" y2="276.43" stroke="#6a80ad" stroke-width="0.8" stroke-linecap="butt"/>
<line x1="62.9" y1="270.97" x2="66.3" y2="270.97" stroke="#6a80ad" stroke-width="0.8" stroke-linecap="butt"/>
<line x1="62.9" y1="276.43" x2="66.3" y2="276.43" stroke="#6a80ad" stroke-width="0.8" stroke-linecap="butt"/>
<line x1="70.2" y1="269.77" x2="70.2" y2="275.23" stroke="#6a80ad" stroke-width="0.8" stroke-linecap="butt"/>
<line x1="68.5" y1="269.77" x2="71.9" y2="269.77" stroke="#6a80ad" stroke-width="0.8" stroke-linecap="butt"/>
<line x1="68.5" y1="275.23" x2="71.9" y2="275.23" stroke="#6a80ad" stroke-width="0.8" stroke-linecap="butt"/>
<line x1="75.8" y1="255.36" x2="75.8" y2="262.64" stroke="#6a80ad" stroke-width="0.8" stroke-linecap="butt"/>
<line x1="74.1" y1="255.36" x2="77.5" y2="255.36" stroke="#6a80ad" stroke-width="0.8" stroke-linecap="butt"/>
<line x1="74.1" y1="262.64" x2="77.5" y2="262.64" stroke="#6a80ad" stroke-width="0.8" stroke-linecap="butt"/>
<line x1="81.4" y1="251.36" x2="81.4" y2="258.64" stroke="#6a80ad" stroke-width="0.8" stroke-linecap="butt"/>
<line x1="79.7" y1="251.36" x2="83.1" y2="251.36" stroke="#6a80ad" stroke-width="0.8" stroke-linecap="butt"/>
<line x1="79.7" y1="258.64" x2="83.1" y2="258.64" stroke="#6a80ad" stroke-width="0.8" stroke-linecap="butt"/>
<line x1="87" y1="251.36" x2="87" y2="258.64" stroke="#6a80ad" stroke-width="0.8" stroke-linecap="butt"/>
<line x1="85.3" y1="251.36" x2="88.7" y2="251.36" stroke="#6a80ad" stroke-width="0.8" stroke-linecap="butt"/>
<line x1="85.3" y1="258.64" x2="88.7" y2="258.64" stroke="#6a80ad" stroke-width="0.8" stroke-linecap="butt"/>
<line x1="92.6" y1="250.06" x2="92.6" y2="257.34" stroke="#6a80ad" stroke-width="0.8" stroke-linecap="butt"/>
<line x1="90.9" y1="250.06" x2="94.3" y2="250.06" stroke="#6a80ad" stroke-width="0.8" stroke-linecap="butt"/>
<line x1="90.9" y1="257.34" x2="94.3" y2="257.34" stroke="#6a80ad" stroke-width="0.8" stroke-linecap="butt"/>
<line x1="98.2" y1="256.47" x2="98.2" y2="261.93" stroke="#6a80ad" stroke-width="0.8" stroke-linecap="butt"/>
<line x1="96.5" y1="256.47" x2="99.9" y2="256.47" stroke="#6a80ad" stroke-width="0.8" stroke-linecap="butt"/>
<line x1="96.5" y1="261.93" x2="99.9" y2="261.93" stroke="#6a80ad" stroke-width="0.8" stroke-linecap="butt"/>
<line x1="103.8" y1="261.8" x2="103.8" y2="269.8" stroke="#6a80ad" stroke-width="0.8" stroke-linecap="butt"/>
<line x1="102.1" y1="261.8" x2="105.5" y2="261.8" stroke="#6a80ad" stroke-width="0.8" stroke-linecap="butt"/>
<line x1="102.1" y1="269.8" x2="105.5" y2="269.8" stroke="#6a80ad" stroke-width="0.8" stroke-linecap="butt"/>
<line x1="109.4" y1="261.8" x2="109.4" y2="269.8" stroke="#6a80ad" stroke-width="0.8" stroke-linecap="butt"/>
<line x1="107.7" y1="261.8" x2="111.1" y2="261.8" stroke="#6a80ad" stroke-width="0.8" stroke-linecap="butt"/>
<line x1="107.7" y1="269.8" x2="111.1" y2="269.8" stroke="#6a80ad" stroke-width="0.8" stroke-linecap="butt"/>
<polyline points="31,281.7 36.6,283 42.2,282.5 47.8,278.3 53.4,275.3 59,274.2 64.6,273.7 70.2,272.5 75.8,259 81.4,255 87,255 92.6,253.7 98.2,259.2 103.8,265.8 109.4,265.8" fill="none" stroke="#1f3c7a" stroke-width="0.9" stroke-linejoin="round"/>
<circle cx="31" cy="281.7" r="2" fill="#1f3c7a" stroke="none" stroke-width="1"/>
<circle cx="36.6" cy="283" r="2" fill="#1f3c7a" stroke="none" stroke-width="1"/>
<circle cx="42.2" cy="282.5" r="2" fill="#1f3c7a" stroke="none" stroke-width="1"/>
<circle cx="47.8" cy="278.3" r="2" fill="#1f3c7a" stroke="none" stroke-width="1"/>
<circle cx="53.4" cy="275.3" r="2" fill="#1f3c7a" stroke="none" stroke-width="1"/>
<circle cx="59" cy="274.2" r="2" fill="#1f3c7a" stroke="none" stroke-width="1"/>
<circle cx="64.6" cy="273.7" r="2" fill="#1f3c7a" stroke="none" stroke-width="1"/>
<circle cx="70.2" cy="272.5" r="2" fill="#1f3c7a" stroke="none" stroke-width="1"/>
<circle cx="75.8" cy="259" r="2" fill="#1f3c7a" stroke="none" stroke-width="1"/>
<circle cx="81.4" cy="255" r="2" fill="#1f3c7a" stroke="none" stroke-width="1"/>
<circle cx="87" cy="255" r="2" fill="#1f3c7a" stroke="none" stroke-width="1"/>
<circle cx="92.6" cy="253.7" r="2" fill="#1f3c7a" stroke="none" stroke-width="1"/>
<circle cx="98.2" cy="259.2" r="2" fill="#1f3c7a" stroke="none" stroke-width="1"/>
<circle cx="103.8" cy="265.8" r="2" fill="#1f3c7a" stroke="none" stroke-width="1"/>
<circle cx="109.4" cy="265.8" r="2" fill="#1f3c7a" stroke="none" stroke-width="1"/>
<line x1="116" y1="242.8" x2="122.4" y2="242.8" stroke="#99a2cc" stroke-width="0.8" stroke-linecap="butt"/>
<circle cx="119.2" cy="242.8" r="2" fill="#99a2cc" stroke="none" stroke-width="1"/>
<text transform="translate(125.1 244.55) scale(0.1)" x="0" y="0" font-size="49" text-anchor="start" fill="#1a1a1a" stroke="#1a1a1a" stroke-width="0.8" textLength="219" lengthAdjust="spacingAndGlyphs">NKBr+IL-15</text>
<line x1="116" y1="248.8" x2="122.4" y2="248.8" stroke="#1f3c7a" stroke-width="0.8" stroke-linecap="butt"/>
<circle cx="119.2" cy="248.8" r="2" fill="#1f3c7a" stroke="none" stroke-width="1"/>
<text transform="translate(125.1 250.55) scale(0.1)" x="0" y="0" font-size="49" text-anchor="start" fill="#1a1a1a" stroke="#1a1a1a" stroke-width="0.8" textLength="344" lengthAdjust="spacingAndGlyphs">NKBr+IL-15-12-18</text>
<line x1="116" y1="254.9" x2="122.4" y2="254.9" stroke="#da917f" stroke-width="0.8" stroke-linecap="butt"/>
<circle cx="119.2" cy="254.9" r="2" fill="#da917f" stroke="none" stroke-width="1"/>
<text transform="translate(125.1 256.65) scale(0.1)" x="0" y="0" font-size="49" text-anchor="start" fill="#1a1a1a" stroke="#1a1a1a" stroke-width="0.8" textLength="253" lengthAdjust="spacingAndGlyphs">NKDim+IL-15</text>
<line x1="116" y1="261" x2="122.4" y2="261" stroke="#b4002a" stroke-width="0.8" stroke-linecap="butt"/>
<circle cx="119.2" cy="261" r="2" fill="#b4002a" stroke="none" stroke-width="1"/>
<text transform="translate(125.1 262.75) scale(0.1)" x="0" y="0" font-size="49" text-anchor="start" fill="#1a1a1a" stroke="#1a1a1a" stroke-width="0.8" textLength="374" lengthAdjust="spacingAndGlyphs">NKDim+IL-15-12-18</text>
<line x1="205.3" y1="236" x2="205.3" y2="295" stroke="#1a1a1a" stroke-width="1.3" stroke-linecap="butt"/>
<line x1="202.7" y1="295" x2="205.3" y2="295" stroke="#1a1a1a" stroke-width="1.15" stroke-linecap="butt"/>
<text transform="translate(200 296.94) scale(0.1)" x="0" y="0" font-size="54" text-anchor="end" fill="#222" stroke="#222" stroke-width="0.7">0</text>
<line x1="202.7" y1="276.3" x2="205.3" y2="276.3" stroke="#1a1a1a" stroke-width="1.15" stroke-linecap="butt"/>
<text transform="translate(200 278.24) scale(0.1)" x="0" y="0" font-size="54" text-anchor="end" fill="#222" stroke="#222" stroke-width="0.7">10</text>
<line x1="202.7" y1="257.6" x2="205.3" y2="257.6" stroke="#1a1a1a" stroke-width="1.15" stroke-linecap="butt"/>
<text transform="translate(200 259.54) scale(0.1)" x="0" y="0" font-size="54" text-anchor="end" fill="#222" stroke="#222" stroke-width="0.7">20</text>
<line x1="202.7" y1="238.9" x2="205.3" y2="238.9" stroke="#1a1a1a" stroke-width="1.15" stroke-linecap="butt"/>
<text transform="translate(200 240.84) scale(0.1)" x="0" y="0" font-size="54" text-anchor="end" fill="#222" stroke="#222" stroke-width="0.7">30</text>
<line x1="204.8" y1="295" x2="261.1" y2="295" stroke="#1a1a1a" stroke-width="1.1" stroke-linecap="butt"/>
<text transform="translate(177.2 265.3) rotate(-90) scale(0.1)" x="0" y="0" font-size="60" text-anchor="middle" fill="#1a1a1a" stroke="#1a1a1a" stroke-width="2.5" textLength="413" lengthAdjust="spacingAndGlyphs">Maximal glycolysis</text>
<text transform="translate(187.5 264.9) rotate(-90) scale(0.1)" x="0" y="0" font-size="60" text-anchor="middle" fill="#1a1a1a" stroke="#1a1a1a" stroke-width="2.5" textLength="240" lengthAdjust="spacingAndGlyphs">(mpH/min)</text>
<line x1="214.07" y1="273.87" x2="214.07" y2="274.62" stroke="#99a2cc" stroke-width="0.7" stroke-linecap="butt"/>
<line x1="214.07" y1="278.36" x2="214.07" y2="279.11" stroke="#99a2cc" stroke-width="0.7" stroke-linecap="butt"/>
<rect x="210.2" y="274.62" width="7.75" height="3.74" fill="#fff" stroke="#99a2cc" stroke-width="0.7" rx="0"/>
<line x1="210.2" y1="276.49" x2="217.95" y2="276.49" stroke="#99a2cc" stroke-width="0.7" stroke-linecap="butt"/>
<circle cx="211.88" cy="276.3" r="1.35" fill="#fff" stroke="#99a2cc" stroke-width="1"/>
<circle cx="216.27" cy="276.3" r="1.35" fill="#fff" stroke="#99a2cc" stroke-width="1"/>
<circle cx="214.07" cy="278.92" r="1.35" fill="#fff" stroke="#99a2cc" stroke-width="1"/>
<circle cx="214.07" cy="274.43" r="1.35" fill="#fff" stroke="#99a2cc" stroke-width="1"/>
<line x1="227.07" y1="249.19" x2="227.07" y2="249.75" stroke="#1f3c7a" stroke-width="0.7" stroke-linecap="butt"/>
<line x1="227.07" y1="251.8" x2="227.07" y2="252.18" stroke="#1f3c7a" stroke-width="0.7" stroke-linecap="butt"/>
<rect x="223.05" y="249.75" width="8.05" height="2.06" fill="#fff" stroke="#1f3c7a" stroke-width="0.7" rx="0"/>
<line x1="223.05" y1="250.87" x2="231.1" y2="250.87" stroke="#1f3c7a" stroke-width="0.7" stroke-linecap="butt"/>
<circle cx="224.57" cy="250.68" r="1.35" fill="#fff" stroke="#1f3c7a" stroke-width="1"/>
<circle cx="227.07" cy="251.06" r="1.35" fill="#fff" stroke="#1f3c7a" stroke-width="1"/>
<circle cx="229.57" cy="251.06" r="1.35" fill="#fff" stroke="#1f3c7a" stroke-width="1"/>
<line x1="239.7" y1="255.73" x2="239.7" y2="256.1" stroke="#da917f" stroke-width="1.15" stroke-linecap="butt"/>
<line x1="239.7" y1="272.56" x2="239.7" y2="273.12" stroke="#da917f" stroke-width="1.15" stroke-linecap="butt"/>
<rect x="235" y="256.1" width="9.4" height="16.46" fill="#da917f" stroke="#da917f" stroke-width="1.15" rx="0"/>
<circle cx="239.7" cy="255.92" r="1.05" fill="#fff" stroke="#da917f" stroke-width="0.6"/>
<circle cx="239.7" cy="261.53" r="1.05" fill="#fff" stroke="#da917f" stroke-width="0.6"/>
<circle cx="239.7" cy="272.93" r="1.05" fill="#fff" stroke="#da917f" stroke-width="0.6"/>
<line x1="252.8" y1="247.13" x2="252.8" y2="247.69" stroke="#b4002a" stroke-width="0.7" stroke-linecap="butt"/>
<line x1="252.8" y1="250.31" x2="252.8" y2="250.87" stroke="#b4002a" stroke-width="0.7" stroke-linecap="butt"/>
<rect x="248.9" y="247.69" width="7.8" height="2.62" fill="#fff" stroke="#b4002a" stroke-width="0.7" rx="0"/>
<line x1="248.9" y1="249" x2="256.7" y2="249" stroke="#b4002a" stroke-width="0.7" stroke-linecap="butt"/>
<circle cx="250.3" cy="247.88" r="1.35" fill="#fff" stroke="#b4002a" stroke-width="1"/>
<circle cx="252.8" cy="249.75" r="1.35" fill="#fff" stroke="#b4002a" stroke-width="1"/>
<circle cx="255.3" cy="248.44" r="1.35" fill="#fff" stroke="#b4002a" stroke-width="1"/>
<line x1="215.25" y1="246.9" x2="227.75" y2="246.9" stroke="#333" stroke-width="1.1" stroke-linecap="butt"/>
<line x1="215.25" y1="245.3" x2="215.25" y2="248.5" stroke="#1a1a1a" stroke-width="1.1" stroke-linecap="butt"/>
<line x1="227.75" y1="245.3" x2="227.75" y2="248.5" stroke="#1a1a1a" stroke-width="1.1" stroke-linecap="butt"/>
<ellipse cx="218.65" cy="243.1" rx="0.95" ry="0.85" fill="#2a2a2a"/>
<ellipse cx="221.5" cy="243.1" rx="0.95" ry="0.85" fill="#2a2a2a"/>
<ellipse cx="224.35" cy="243.1" rx="0.95" ry="0.85" fill="#2a2a2a"/>
<line x1="240.25" y1="244.6" x2="253.1" y2="244.6" stroke="#333" stroke-width="1.1" stroke-linecap="butt"/>
<line x1="240.25" y1="243" x2="240.25" y2="246.2" stroke="#1a1a1a" stroke-width="1.1" stroke-linecap="butt"/>
<line x1="253.1" y1="243" x2="253.1" y2="246.2" stroke="#1a1a1a" stroke-width="1.1" stroke-linecap="butt"/>
<ellipse cx="246.68" cy="240.8" rx="0.95" ry="0.85" fill="#2a2a2a"/>
<rect x="260.9" y="235.9" width="7.2" height="4.8" fill="#99a2cc" stroke="none" stroke-width="1" rx="0"/>
<text transform="translate(271.2 239.9) scale(0.1)" x="0" y="0" font-size="49" text-anchor="start" fill="#1a1a1a" stroke="#1a1a1a" stroke-width="0.8" textLength="207" lengthAdjust="spacingAndGlyphs">NKBr+IL15</text>
<rect x="260.9" y="242" width="7.2" height="4.8" fill="#1f3c7a" stroke="none" stroke-width="1" rx="0"/>
<text transform="translate(271.2 246) scale(0.1)" x="0" y="0" font-size="49" text-anchor="start" fill="#1a1a1a" stroke="#1a1a1a" stroke-width="0.8" textLength="346" lengthAdjust="spacingAndGlyphs">NKBr+IL-15-12-18</text>
<rect x="260.9" y="247.5" width="7.2" height="4.8" fill="#da917f" stroke="none" stroke-width="1" rx="0"/>
<text transform="translate(271.2 251.5) scale(0.1)" x="0" y="0" font-size="49" text-anchor="start" fill="#1a1a1a" stroke="#1a1a1a" stroke-width="0.8" textLength="246" lengthAdjust="spacingAndGlyphs">NKDim+IL-15</text>
<rect x="260.9" y="252.9" width="7.2" height="4.8" fill="#b4002a" stroke="none" stroke-width="1" rx="0"/>
<text transform="translate(271.2 256.9) scale(0.1)" x="0" y="0" font-size="49" text-anchor="start" fill="#1a1a1a" stroke="#1a1a1a" stroke-width="0.8" textLength="368" lengthAdjust="spacingAndGlyphs">NKDim+IL-15-12-18</text>
<text transform="translate(8 337.1) scale(0.1)" x="0" y="0" font-size="106" text-anchor="start" fill="#000" font-weight="bold">F</text>
<text transform="translate(45.3 345.7) scale(0.1)" x="0" y="0" font-size="46" text-anchor="middle" fill="#222" stroke="#222" stroke-width="0.7" textLength="144" lengthAdjust="spacingAndGlyphs">Medium</text>
<line x1="45.3" y1="350" x2="45.3" y2="401.5" stroke="#222" stroke-width="1.1" stroke-linecap="butt" stroke-dasharray="2.6,2"/>
<text transform="translate(61.7 345.7) scale(0.1)" x="0" y="0" font-size="46" text-anchor="middle" fill="#222" stroke="#222" stroke-width="0.7" textLength="100" lengthAdjust="spacingAndGlyphs">Oligo</text>
<line x1="61.7" y1="350" x2="61.7" y2="401.5" stroke="#222" stroke-width="1.1" stroke-linecap="butt" stroke-dasharray="2.6,2"/>
<text transform="translate(78 345.7) scale(0.1)" x="0" y="0" font-size="46" text-anchor="middle" fill="#222" stroke="#222" stroke-width="0.7" textLength="117" lengthAdjust="spacingAndGlyphs">FCCP</text>
<line x1="78" y1="350" x2="78" y2="401.5" stroke="#222" stroke-width="1.1" stroke-linecap="butt" stroke-dasharray="2.6,2"/>
<text transform="translate(94.2 345.7) scale(0.1)" x="0" y="0" font-size="46" text-anchor="middle" fill="#222" stroke="#222" stroke-width="0.7" textLength="128" lengthAdjust="spacingAndGlyphs">RO/AA</text>
<line x1="94.2" y1="350" x2="94.2" y2="401.5" stroke="#222" stroke-width="1.1" stroke-linecap="butt" stroke-dasharray="2.6,2"/>
<line x1="30.3" y1="343.3" x2="30.3" y2="402" stroke="#1a1a1a" stroke-width="1.3" stroke-linecap="butt"/>
<line x1="27.7" y1="396.6" x2="30.3" y2="396.6" stroke="#1a1a1a" stroke-width="1.15" stroke-linecap="butt"/>
<text transform="translate(25 398.54) scale(0.1)" x="0" y="0" font-size="54" text-anchor="end" fill="#222" stroke="#222" stroke-width="0.7">0</text>
<line x1="27.7" y1="383.8" x2="30.3" y2="383.8" stroke="#1a1a1a" stroke-width="1.15" stroke-linecap="butt"/>
<text transform="translate(25 385.74) scale(0.1)" x="0" y="0" font-size="54" text-anchor="end" fill="#222" stroke="#222" stroke-width="0.7">10</text>
<line x1="27.7" y1="371" x2="30.3" y2="371" stroke="#1a1a1a" stroke-width="1.15" stroke-linecap="butt"/>
<text transform="translate(25 372.94) scale(0.1)" x="0" y="0" font-size="54" text-anchor="end" fill="#222" stroke="#222" stroke-width="0.7">20</text>
<line x1="27.7" y1="358.2" x2="30.3" y2="358.2" stroke="#1a1a1a" stroke-width="1.15" stroke-linecap="butt"/>
<text transform="translate(25 360.14) scale(0.1)" x="0" y="0" font-size="54" text-anchor="end" fill="#222" stroke="#222" stroke-width="0.7">30</text>
<line x1="27.7" y1="345.4" x2="30.3" y2="345.4" stroke="#1a1a1a" stroke-width="1.15" stroke-linecap="butt"/>
<text transform="translate(25 347.34) scale(0.1)" x="0" y="0" font-size="54" text-anchor="end" fill="#222" stroke="#222" stroke-width="0.7">40</text>
<line x1="29.8" y1="402" x2="114" y2="402" stroke="#1a1a1a" stroke-width="1.1" stroke-linecap="butt"/>
<line x1="30.2" y1="402" x2="30.2" y2="404.3" stroke="#1a1a1a" stroke-width="1.1" stroke-linecap="butt"/>
<text transform="translate(30.2 412.5) scale(0.1)" x="0" y="0" font-size="54" text-anchor="middle" fill="#222" stroke="#222" stroke-width="0.7">0</text>
<line x1="68.8" y1="402" x2="68.8" y2="404.3" stroke="#1a1a1a" stroke-width="1.1" stroke-linecap="butt"/>
<text transform="translate(68.8 412.5) scale(0.1)" x="0" y="0" font-size="54" text-anchor="middle" fill="#222" stroke="#222" stroke-width="0.7">50</text>
<line x1="107.4" y1="402" x2="107.4" y2="404.3" stroke="#1a1a1a" stroke-width="1.1" stroke-linecap="butt"/>
<text transform="translate(107.4 412.5) scale(0.1)" x="0" y="0" font-size="54" text-anchor="middle" fill="#222" stroke="#222" stroke-width="0.7">100</text>
<text transform="translate(14 371.1) rotate(-90) scale(0.1)" x="0" y="0" font-size="60" text-anchor="middle" fill="#1a1a1a" stroke="#1a1a1a" stroke-width="2.5" textLength="336" lengthAdjust="spacingAndGlyphs">OCR (pmol/min)</text>
<line x1="30.6" y1="363.68" x2="30.6" y2="373.92" stroke="#d46a80" stroke-width="0.8" stroke-linecap="butt"/>
<line x1="28.9" y1="363.68" x2="32.3" y2="363.68" stroke="#d46a80" stroke-width="0.8" stroke-linecap="butt"/>
<line x1="28.9" y1="373.92" x2="32.3" y2="373.92" stroke="#d46a80" stroke-width="0.8" stroke-linecap="butt"/>
<line x1="36.15" y1="366.58" x2="36.15" y2="376.82" stroke="#d46a80" stroke-width="0.8" stroke-linecap="butt"/>
<line x1="34.45" y1="366.58" x2="37.85" y2="366.58" stroke="#d46a80" stroke-width="0.8" stroke-linecap="butt"/>
<line x1="34.45" y1="376.82" x2="37.85" y2="376.82" stroke="#d46a80" stroke-width="0.8" stroke-linecap="butt"/>
<line x1="41.7" y1="367.98" x2="41.7" y2="378.22" stroke="#d46a80" stroke-width="0.8" stroke-linecap="butt"/>
<line x1="40" y1="367.98" x2="43.4" y2="367.98" stroke="#d46a80" stroke-width="0.8" stroke-linecap="butt"/>
<line x1="40" y1="378.22" x2="43.4" y2="378.22" stroke="#d46a80" stroke-width="0.8" stroke-linecap="butt"/>
<line x1="47.25" y1="367.98" x2="47.25" y2="378.22" stroke="#d46a80" stroke-width="0.8" stroke-linecap="butt"/>
<line x1="45.55" y1="367.98" x2="48.95" y2="367.98" stroke="#d46a80" stroke-width="0.8" stroke-linecap="butt"/>
<line x1="45.55" y1="378.22" x2="48.95" y2="378.22" stroke="#d46a80" stroke-width="0.8" stroke-linecap="butt"/>
<line x1="52.8" y1="367.98" x2="52.8" y2="378.22" stroke="#d46a80" stroke-width="0.8" stroke-linecap="butt"/>
<line x1="51.1" y1="367.98" x2="54.5" y2="367.98" stroke="#d46a80" stroke-width="0.8" stroke-linecap="butt"/>
<line x1="51.1" y1="378.22" x2="54.5" y2="378.22" stroke="#d46a80" stroke-width="0.8" stroke-linecap="butt"/>
<line x1="58.35" y1="367.98" x2="58.35" y2="378.22" stroke="#d46a80" stroke-width="0.8" stroke-linecap="butt"/>
<line x1="56.65" y1="367.98" x2="60.05" y2="367.98" stroke="#d46a80" stroke-width="0.8" stroke-linecap="butt"/>
<line x1="56.65" y1="378.22" x2="60.05" y2="378.22" stroke="#d46a80" stroke-width="0.8" stroke-linecap="butt"/>
<line x1="63.9" y1="381.9" x2="63.9" y2="401.1" stroke="#d46a80" stroke-width="0.8" stroke-linecap="butt"/>
<line x1="62.2" y1="381.9" x2="65.6" y2="381.9" stroke="#d46a80" stroke-width="0.8" stroke-linecap="butt"/>
<line x1="62.2" y1="401.1" x2="65.6" y2="401.1" stroke="#d46a80" stroke-width="0.8" stroke-linecap="butt"/>
<line x1="69.45" y1="381.9" x2="69.45" y2="401.1" stroke="#d46a80" stroke-width="0.8" stroke-linecap="butt"/>
<line x1="67.75" y1="381.9" x2="71.15" y2="381.9" stroke="#d46a80" stroke-width="0.8" stroke-linecap="butt"/>
<line x1="67.75" y1="401.1" x2="71.15" y2="401.1" stroke="#d46a80" stroke-width="0.8" stroke-linecap="butt"/>
<line x1="75" y1="381.9" x2="75" y2="401.1" stroke="#d46a80" stroke-width="0.8" stroke-linecap="butt"/>
<line x1="73.3" y1="381.9" x2="76.7" y2="381.9" stroke="#d46a80" stroke-width="0.8" stroke-linecap="butt"/>
<line x1="73.3" y1="401.1" x2="76.7" y2="401.1" stroke="#d46a80" stroke-width="0.8" stroke-linecap="butt"/>
<line x1="80.55" y1="372.56" x2="80.55" y2="380.24" stroke="#d46a80" stroke-width="0.8" stroke-linecap="butt"/>
<line x1="78.85" y1="372.56" x2="82.25" y2="372.56" stroke="#d46a80" stroke-width="0.8" stroke-linecap="butt"/>
<line x1="78.85" y1="380.24" x2="82.25" y2="380.24" stroke="#d46a80" stroke-width="0.8" stroke-linecap="butt"/>
<line x1="86.1" y1="376.56" x2="86.1" y2="384.24" stroke="#d46a80" stroke-width="0.8" stroke-linecap="butt"/>
<line x1="84.4" y1="376.56" x2="87.8" y2="376.56" stroke="#d46a80" stroke-width="0.8" stroke-linecap="butt"/>
<line x1="84.4" y1="384.24" x2="87.8" y2="384.24" stroke="#d46a80" stroke-width="0.8" stroke-linecap="butt"/>
<line x1="91.65" y1="376.56" x2="91.65" y2="384.24" stroke="#d46a80" stroke-width="0.8" stroke-linecap="butt"/>
<line x1="89.95" y1="376.56" x2="93.35" y2="376.56" stroke="#d46a80" stroke-width="0.8" stroke-linecap="butt"/>
<line x1="89.95" y1="384.24" x2="93.35" y2="384.24" stroke="#d46a80" stroke-width="0.8" stroke-linecap="butt"/>
<line x1="97.2" y1="390.16" x2="97.2" y2="397.84" stroke="#d46a80" stroke-width="0.8" stroke-linecap="butt"/>
<line x1="95.5" y1="390.16" x2="98.9" y2="390.16" stroke="#d46a80" stroke-width="0.8" stroke-linecap="butt"/>
<line x1="95.5" y1="397.84" x2="98.9" y2="397.84" stroke="#d46a80" stroke-width="0.8" stroke-linecap="butt"/>
<line x1="102.75" y1="391.16" x2="102.75" y2="398.84" stroke="#d46a80" stroke-width="0.8" stroke-linecap="butt"/>
<line x1="101.05" y1="391.16" x2="104.45" y2="391.16" stroke="#d46a80" stroke-width="0.8" stroke-linecap="butt"/>
<line x1="101.05" y1="398.84" x2="104.45" y2="398.84" stroke="#d46a80" stroke-width="0.8" stroke-linecap="butt"/>
<line x1="108.3" y1="389.66" x2="108.3" y2="397.34" stroke="#d46a80" stroke-width="0.8" stroke-linecap="butt"/>
<line x1="106.6" y1="389.66" x2="110" y2="389.66" stroke="#d46a80" stroke-width="0.8" stroke-linecap="butt"/>
<line x1="106.6" y1="397.34" x2="110" y2="397.34" stroke="#d46a80" stroke-width="0.8" stroke-linecap="butt"/>
<polyline points="30.6,368.8 36.15,371.7 41.7,373.1 47.25,373.1 52.8,373.1 58.35,373.1 63.9,391.5 69.45,391.5 75,391.5 80.55,376.4 86.1,380.4 91.65,380.4 97.2,394 102.75,395 108.3,393.5" fill="none" stroke="#b4002a" stroke-width="0.9" stroke-linejoin="round"/>
<circle cx="30.6" cy="368.8" r="2" fill="#b4002a" stroke="none" stroke-width="1"/>
<circle cx="36.15" cy="371.7" r="2" fill="#b4002a" stroke="none" stroke-width="1"/>
<circle cx="41.7" cy="373.1" r="2" fill="#b4002a" stroke="none" stroke-width="1"/>
<circle cx="47.25" cy="373.1" r="2" fill="#b4002a" stroke="none" stroke-width="1"/>
<circle cx="52.8" cy="373.1" r="2" fill="#b4002a" stroke="none" stroke-width="1"/>
<circle cx="58.35" cy="373.1" r="2" fill="#b4002a" stroke="none" stroke-width="1"/>
<circle cx="63.9" cy="391.5" r="2" fill="#b4002a" stroke="none" stroke-width="1"/>
<circle cx="69.45" cy="391.5" r="2" fill="#b4002a" stroke="none" stroke-width="1"/>
<circle cx="75" cy="391.5" r="2" fill="#b4002a" stroke="none" stroke-width="1"/>
<circle cx="80.55" cy="376.4" r="2" fill="#b4002a" stroke="none" stroke-width="1"/>
<circle cx="86.1" cy="380.4" r="2" fill="#b4002a" stroke="none" stroke-width="1"/>
<circle cx="91.65" cy="380.4" r="2" fill="#b4002a" stroke="none" stroke-width="1"/>
<circle cx="97.2" cy="394" r="2" fill="#b4002a" stroke="none" stroke-width="1"/>
<circle cx="102.75" cy="395" r="2" fill="#b4002a" stroke="none" stroke-width="1"/>
<circle cx="108.3" cy="393.5" r="2" fill="#b4002a" stroke="none" stroke-width="1"/>
<line x1="30.6" y1="355.92" x2="30.6" y2="371.28" stroke="#e8b5aa" stroke-width="0.8" stroke-linecap="butt"/>
<line x1="28.9" y1="355.92" x2="32.3" y2="355.92" stroke="#e8b5aa" stroke-width="0.8" stroke-linecap="butt"/>
<line x1="28.9" y1="371.28" x2="32.3" y2="371.28" stroke="#e8b5aa" stroke-width="0.8" stroke-linecap="butt"/>
<line x1="36.15" y1="361.9" x2="36.15" y2="374.7" stroke="#e8b5aa" stroke-width="0.8" stroke-linecap="butt"/>
<line x1="34.45" y1="361.9" x2="37.85" y2="361.9" stroke="#e8b5aa" stroke-width="0.8" stroke-linecap="butt"/>
<line x1="34.45" y1="374.7" x2="37.85" y2="374.7" stroke="#e8b5aa" stroke-width="0.8" stroke-linecap="butt"/>
<line x1="41.7" y1="363.4" x2="41.7" y2="376.2" stroke="#e8b5aa" stroke-width="0.8" stroke-linecap="butt"/>
<line x1="40" y1="363.4" x2="43.4" y2="363.4" stroke="#e8b5aa" stroke-width="0.8" stroke-linecap="butt"/>
<line x1="40" y1="376.2" x2="43.4" y2="376.2" stroke="#e8b5aa" stroke-width="0.8" stroke-linecap="butt"/>
<line x1="47.25" y1="362.82" x2="47.25" y2="378.18" stroke="#e8b5aa" stroke-width="0.8" stroke-linecap="butt"/>
<line x1="45.55" y1="362.82" x2="48.95" y2="362.82" stroke="#e8b5aa" stroke-width="0.8" stroke-linecap="butt"/>
<line x1="45.55" y1="378.18" x2="48.95" y2="378.18" stroke="#e8b5aa" stroke-width="0.8" stroke-linecap="butt"/>
<line x1="52.8" y1="363.02" x2="52.8" y2="378.38" stroke="#e8b5aa" stroke-width="0.8" stroke-linecap="butt"/>
<line x1="51.1" y1="363.02" x2="54.5" y2="363.02" stroke="#e8b5aa" stroke-width="0.8" stroke-linecap="butt"/>
<line x1="51.1" y1="378.38" x2="54.5" y2="378.38" stroke="#e8b5aa" stroke-width="0.8" stroke-linecap="butt"/>
<line x1="58.35" y1="363.02" x2="58.35" y2="378.38" stroke="#e8b5aa" stroke-width="0.8" stroke-linecap="butt"/>
<line x1="56.65" y1="363.02" x2="60.05" y2="363.02" stroke="#e8b5aa" stroke-width="0.8" stroke-linecap="butt"/>
<line x1="56.65" y1="378.38" x2="60.05" y2="378.38" stroke="#e8b5aa" stroke-width="0.8" stroke-linecap="butt"/>
<line x1="63.9" y1="389.38" x2="63.9" y2="399.62" stroke="#e8b5aa" stroke-width="0.8" stroke-linecap="butt"/>
<line x1="62.2" y1="389.38" x2="65.6" y2="389.38" stroke="#e8b5aa" stroke-width="0.8" stroke-linecap="butt"/>
<line x1="62.2" y1="399.62" x2="65.6" y2="399.62" stroke="#e8b5aa" stroke-width="0.8" stroke-linecap="butt"/>
<line x1="69.45" y1="389.38" x2="69.45" y2="399.62" stroke="#e8b5aa" stroke-width="0.8" stroke-linecap="butt"/>
<line x1="67.75" y1="389.38" x2="71.15" y2="389.38" stroke="#e8b5aa" stroke-width="0.8" stroke-linecap="butt"/>
<line x1="67.75" y1="399.62" x2="71.15" y2="399.62" stroke="#e8b5aa" stroke-width="0.8" stroke-linecap="butt"/>
<line x1="75" y1="389.38" x2="75" y2="399.62" stroke="#e8b5aa" stroke-width="0.8" stroke-linecap="butt"/>
<line x1="73.3" y1="389.38" x2="76.7" y2="389.38" stroke="#e8b5aa" stroke-width="0.8" stroke-linecap="butt"/>
<line x1="73.3" y1="399.62" x2="76.7" y2="399.62" stroke="#e8b5aa" stroke-width="0.8" stroke-linecap="butt"/>
<line x1="80.55" y1="360.1" x2="80.55" y2="372.9" stroke="#e8b5aa" stroke-width="0.8" stroke-linecap="butt"/>
<line x1="78.85" y1="360.1" x2="82.25" y2="360.1" stroke="#e8b5aa" stroke-width="0.8" stroke-linecap="butt"/>
<line x1="78.85" y1="372.9" x2="82.25" y2="372.9" stroke="#e8b5aa" stroke-width="0.8" stroke-linecap="butt"/>
<line x1="86.1" y1="361.6" x2="86.1" y2="374.4" stroke="#e8b5aa" stroke-width="0.8" stroke-linecap="butt"/>
<line x1="84.4" y1="361.6" x2="87.8" y2="361.6" stroke="#e8b5aa" stroke-width="0.8" stroke-linecap="butt"/>
<line x1="84.4" y1="374.4" x2="87.8" y2="374.4" stroke="#e8b5aa" stroke-width="0.8" stroke-linecap="butt"/>
<line x1="91.65" y1="362.6" x2="91.65" y2="375.4" stroke="#e8b5aa" stroke-width="0.8" stroke-linecap="butt"/>
<line x1="89.95" y1="362.6" x2="93.35" y2="362.6" stroke="#e8b5aa" stroke-width="0.8" stroke-linecap="butt"/>
<line x1="89.95" y1="375.4" x2="93.35" y2="375.4" stroke="#e8b5aa" stroke-width="0.8" stroke-linecap="butt"/>
<line x1="97.2" y1="391.16" x2="97.2" y2="398.84" stroke="#e8b5aa" stroke-width="0.8" stroke-linecap="butt"/>
<line x1="95.5" y1="391.16" x2="98.9" y2="391.16" stroke="#e8b5aa" stroke-width="0.8" stroke-linecap="butt"/>
<line x1="95.5" y1="398.84" x2="98.9" y2="398.84" stroke="#e8b5aa" stroke-width="0.8" stroke-linecap="butt"/>
<line x1="102.75" y1="391.16" x2="102.75" y2="398.84" stroke="#e8b5aa" stroke-width="0.8" stroke-linecap="butt"/>
<line x1="101.05" y1="391.16" x2="104.45" y2="391.16" stroke="#e8b5aa" stroke-width="0.8" stroke-linecap="butt"/>
<line x1="101.05" y1="398.84" x2="104.45" y2="398.84" stroke="#e8b5aa" stroke-width="0.8" stroke-linecap="butt"/>
<line x1="108.3" y1="391.16" x2="108.3" y2="398.84" stroke="#e8b5aa" stroke-width="0.8" stroke-linecap="butt"/>
<line x1="106.6" y1="391.16" x2="110" y2="391.16" stroke="#e8b5aa" stroke-width="0.8" stroke-linecap="butt"/>
<line x1="106.6" y1="398.84" x2="110" y2="398.84" stroke="#e8b5aa" stroke-width="0.8" stroke-linecap="butt"/>
<polyline points="30.6,363.6 36.15,368.3 41.7,369.8 47.25,370.5 52.8,370.7 58.35,370.7 63.9,394.5 69.45,394.5 75,394.5 80.55,366.5 86.1,368 91.65,369 97.2,395 102.75,395 108.3,395" fill="none" stroke="#da917f" stroke-width="0.9" stroke-linejoin="round"/>
<circle cx="30.6" cy="363.6" r="2" fill="#da917f" stroke="none" stroke-width="1"/>
<circle cx="36.15" cy="368.3" r="2" fill="#da917f" stroke="none" stroke-width="1"/>
<circle cx="41.7" cy="369.8" r="2" fill="#da917f" stroke="none" stroke-width="1"/>
<circle cx="47.25" cy="370.5" r="2" fill="#da917f" stroke="none" stroke-width="1"/>
<circle cx="52.8" cy="370.7" r="2" fill="#da917f" stroke="none" stroke-width="1"/>
<circle cx="58.35" cy="370.7" r="2" fill="#da917f" stroke="none" stroke-width="1"/>
<circle cx="63.9" cy="394.5" r="2" fill="#da917f" stroke="none" stroke-width="1"/>
<circle cx="69.45" cy="394.5" r="2" fill="#da917f" stroke="none" stroke-width="1"/>
<circle cx="75" cy="394.5" r="2" fill="#da917f" stroke="none" stroke-width="1"/>
<circle cx="80.55" cy="366.5" r="2" fill="#da917f" stroke="none" stroke-width="1"/>
<circle cx="86.1" cy="368" r="2" fill="#da917f" stroke="none" stroke-width="1"/>
<circle cx="91.65" cy="369" r="2" fill="#da917f" stroke="none" stroke-width="1"/>
<circle cx="97.2" cy="395" r="2" fill="#da917f" stroke="none" stroke-width="1"/>
<circle cx="102.75" cy="395" r="2" fill="#da917f" stroke="none" stroke-width="1"/>
<circle cx="108.3" cy="395" r="2" fill="#da917f" stroke="none" stroke-width="1"/>
<line x1="30.6" y1="375.58" x2="30.6" y2="385.82" stroke="#6a80ad" stroke-width="0.8" stroke-linecap="butt"/>
<line x1="28.9" y1="375.58" x2="32.3" y2="375.58" stroke="#6a80ad" stroke-width="0.8" stroke-linecap="butt"/>
<line x1="28.9" y1="385.82" x2="32.3" y2="385.82" stroke="#6a80ad" stroke-width="0.8" stroke-linecap="butt"/>
<line x1="36.15" y1="376.98" x2="36.15" y2="387.22" stroke="#6a80ad" stroke-width="0.8" stroke-linecap="butt"/>
<line x1="34.45" y1="376.98" x2="37.85" y2="376.98" stroke="#6a80ad" stroke-width="0.8" stroke-linecap="butt"/>
<line x1="34.45" y1="387.22" x2="37.85" y2="387.22" stroke="#6a80ad" stroke-width="0.8" stroke-linecap="butt"/>
<line x1="41.7" y1="376.38" x2="41.7" y2="386.62" stroke="#6a80ad" stroke-width="0.8" stroke-linecap="butt"/>
<line x1="40" y1="376.38" x2="43.4" y2="376.38" stroke="#6a80ad" stroke-width="0.8" stroke-linecap="butt"/>
<line x1="40" y1="386.62" x2="43.4" y2="386.62" stroke="#6a80ad" stroke-width="0.8" stroke-linecap="butt"/>
<line x1="47.25" y1="375.08" x2="47.25" y2="385.32" stroke="#6a80ad" stroke-width="0.8" stroke-linecap="butt"/>
<line x1="45.55" y1="375.08" x2="48.95" y2="375.08" stroke="#6a80ad" stroke-width="0.8" stroke-linecap="butt"/>
<line x1="45.55" y1="385.32" x2="48.95" y2="385.32" stroke="#6a80ad" stroke-width="0.8" stroke-linecap="butt"/>
<line x1="52.8" y1="375.58" x2="52.8" y2="385.82" stroke="#6a80ad" stroke-width="0.8" stroke-linecap="butt"/>
<line x1="51.1" y1="375.58" x2="54.5" y2="375.58" stroke="#6a80ad" stroke-width="0.8" stroke-linecap="butt"/>
<line x1="51.1" y1="385.82" x2="54.5" y2="385.82" stroke="#6a80ad" stroke-width="0.8" stroke-linecap="butt"/>
<line x1="58.35" y1="375.38" x2="58.35" y2="385.62" stroke="#6a80ad" stroke-width="0.8" stroke-linecap="butt"/>
<line x1="56.65" y1="375.38" x2="60.05" y2="375.38" stroke="#6a80ad" stroke-width="0.8" stroke-linecap="butt"/>
<line x1="56.65" y1="385.62" x2="60.05" y2="385.62" stroke="#6a80ad" stroke-width="0.8" stroke-linecap="butt"/>
<line x1="63.9" y1="390.1" x2="63.9" y2="396.5" stroke="#6a80ad" stroke-width="0.8" stroke-linecap="butt"/>
<line x1="62.2" y1="390.1" x2="65.6" y2="390.1" stroke="#6a80ad" stroke-width="0.8" stroke-linecap="butt"/>
<line x1="62.2" y1="396.5" x2="65.6" y2="396.5" stroke="#6a80ad" stroke-width="0.8" stroke-linecap="butt"/>
<line x1="69.45" y1="390.1" x2="69.45" y2="396.5" stroke="#6a80ad" stroke-width="0.8" stroke-linecap="butt"/>
<line x1="67.75" y1="390.1" x2="71.15" y2="390.1" stroke="#6a80ad" stroke-width="0.8" stroke-linecap="butt"/>
<line x1="67.75" y1="396.5" x2="71.15" y2="396.5" stroke="#6a80ad" stroke-width="0.8" stroke-linecap="butt"/>
<line x1="75" y1="390.1" x2="75" y2="396.5" stroke="#6a80ad" stroke-width="0.8" stroke-linecap="butt"/>
<line x1="73.3" y1="390.1" x2="76.7" y2="390.1" stroke="#6a80ad" stroke-width="0.8" stroke-linecap="butt"/>
<line x1="73.3" y1="396.5" x2="76.7" y2="396.5" stroke="#6a80ad" stroke-width="0.8" stroke-linecap="butt"/>
<line x1="80.55" y1="355.68" x2="80.55" y2="372.32" stroke="#6a80ad" stroke-width="0.8" stroke-linecap="butt"/>
<line x1="78.85" y1="355.68" x2="82.25" y2="355.68" stroke="#6a80ad" stroke-width="0.8" stroke-linecap="butt"/>
<line x1="78.85" y1="372.32" x2="82.25" y2="372.32" stroke="#6a80ad" stroke-width="0.8" stroke-linecap="butt"/>
<line x1="86.1" y1="354.98" x2="86.1" y2="371.62" stroke="#6a80ad" stroke-width="0.8" stroke-linecap="butt"/>
<line x1="84.4" y1="354.98" x2="87.8" y2="354.98" stroke="#6a80ad" stroke-width="0.8" stroke-linecap="butt"/>
<line x1="84.4" y1="371.62" x2="87.8" y2="371.62" stroke="#6a80ad" stroke-width="0.8" stroke-linecap="butt"/>
<line x1="91.65" y1="355.68" x2="91.65" y2="372.32" stroke="#6a80ad" stroke-width="0.8" stroke-linecap="butt"/>
<line x1="89.95" y1="355.68" x2="93.35" y2="355.68" stroke="#6a80ad" stroke-width="0.8" stroke-linecap="butt"/>
<line x1="89.95" y1="372.32" x2="93.35" y2="372.32" stroke="#6a80ad" stroke-width="0.8" stroke-linecap="butt"/>
<line x1="97.2" y1="390.3" x2="97.2" y2="396.7" stroke="#6a80ad" stroke-width="0.8" stroke-linecap="butt"/>
<line x1="95.5" y1="390.3" x2="98.9" y2="390.3" stroke="#6a80ad" stroke-width="0.8" stroke-linecap="butt"/>
<line x1="95.5" y1="396.7" x2="98.9" y2="396.7" stroke="#6a80ad" stroke-width="0.8" stroke-linecap="butt"/>
<line x1="102.75" y1="390.3" x2="102.75" y2="396.7" stroke="#6a80ad" stroke-width="0.8" stroke-linecap="butt"/>
<line x1="101.05" y1="390.3" x2="104.45" y2="390.3" stroke="#6a80ad" stroke-width="0.8" stroke-linecap="butt"/>
<line x1="101.05" y1="396.7" x2="104.45" y2="396.7" stroke="#6a80ad" stroke-width="0.8" stroke-linecap="butt"/>
<line x1="108.3" y1="390.3" x2="108.3" y2="396.7" stroke="#6a80ad" stroke-width="0.8" stroke-linecap="butt"/>
<line x1="106.6" y1="390.3" x2="110" y2="390.3" stroke="#6a80ad" stroke-width="0.8" stroke-linecap="butt"/>
<line x1="106.6" y1="396.7" x2="110" y2="396.7" stroke="#6a80ad" stroke-width="0.8" stroke-linecap="butt"/>
<polyline points="30.6,380.7 36.15,382.1 41.7,381.5 47.25,380.2 52.8,380.7 58.35,380.5 63.9,393.3 69.45,393.3 75,393.3 80.55,364 86.1,363.3 91.65,364 97.2,393.5 102.75,393.5 108.3,393.5" fill="none" stroke="#1f3c7a" stroke-width="0.9" stroke-linejoin="round"/>
<circle cx="30.6" cy="380.7" r="2" fill="#1f3c7a" stroke="none" stroke-width="1"/>
<circle cx="36.15" cy="382.1" r="2" fill="#1f3c7a" stroke="none" stroke-width="1"/>
<circle cx="41.7" cy="381.5" r="2" fill="#1f3c7a" stroke="none" stroke-width="1"/>
<circle cx="47.25" cy="380.2" r="2" fill="#1f3c7a" stroke="none" stroke-width="1"/>
<circle cx="52.8" cy="380.7" r="2" fill="#1f3c7a" stroke="none" stroke-width="1"/>
<circle cx="58.35" cy="380.5" r="2" fill="#1f3c7a" stroke="none" stroke-width="1"/>
<circle cx="63.9" cy="393.3" r="2" fill="#1f3c7a" stroke="none" stroke-width="1"/>
<circle cx="69.45" cy="393.3" r="2" fill="#1f3c7a" stroke="none" stroke-width="1"/>
<circle cx="75" cy="393.3" r="2" fill="#1f3c7a" stroke="none" stroke-width="1"/>
<circle cx="80.55" cy="364" r="2" fill="#1f3c7a" stroke="none" stroke-width="1"/>
<circle cx="86.1" cy="363.3" r="2" fill="#1f3c7a" stroke="none" stroke-width="1"/>
<circle cx="91.65" cy="364" r="2" fill="#1f3c7a" stroke="none" stroke-width="1"/>
<circle cx="97.2" cy="393.5" r="2" fill="#1f3c7a" stroke="none" stroke-width="1"/>
<circle cx="102.75" cy="393.5" r="2" fill="#1f3c7a" stroke="none" stroke-width="1"/>
<circle cx="108.3" cy="393.5" r="2" fill="#1f3c7a" stroke="none" stroke-width="1"/>
<line x1="30.6" y1="378.48" x2="30.6" y2="388.72" stroke="#b9c0dd" stroke-width="0.8" stroke-linecap="butt"/>
<line x1="28.9" y1="378.48" x2="32.3" y2="378.48" stroke="#b9c0dd" stroke-width="0.8" stroke-linecap="butt"/>
<line x1="28.9" y1="388.72" x2="32.3" y2="388.72" stroke="#b9c0dd" stroke-width="0.8" stroke-linecap="butt"/>
<line x1="36.15" y1="378.48" x2="36.15" y2="388.72" stroke="#b9c0dd" stroke-width="0.8" stroke-linecap="butt"/>
<line x1="34.45" y1="378.48" x2="37.85" y2="378.48" stroke="#b9c0dd" stroke-width="0.8" stroke-linecap="butt"/>
<line x1="34.45" y1="388.72" x2="37.85" y2="388.72" stroke="#b9c0dd" stroke-width="0.8" stroke-linecap="butt"/>
<line x1="41.7" y1="377.48" x2="41.7" y2="387.72" stroke="#b9c0dd" stroke-width="0.8" stroke-linecap="butt"/>
<line x1="40" y1="377.48" x2="43.4" y2="377.48" stroke="#b9c0dd" stroke-width="0.8" stroke-linecap="butt"/>
<line x1="40" y1="387.72" x2="43.4" y2="387.72" stroke="#b9c0dd" stroke-width="0.8" stroke-linecap="butt"/>
<line x1="47.25" y1="377.48" x2="47.25" y2="387.72" stroke="#b9c0dd" stroke-width="0.8" stroke-linecap="butt"/>
<line x1="45.55" y1="377.48" x2="48.95" y2="377.48" stroke="#b9c0dd" stroke-width="0.8" stroke-linecap="butt"/>
<line x1="45.55" y1="387.72" x2="48.95" y2="387.72" stroke="#b9c0dd" stroke-width="0.8" stroke-linecap="butt"/>
<line x1="52.8" y1="378.88" x2="52.8" y2="389.12" stroke="#b9c0dd" stroke-width="0.8" stroke-linecap="butt"/>
<line x1="51.1" y1="378.88" x2="54.5" y2="378.88" stroke="#b9c0dd" stroke-width="0.8" stroke-linecap="butt"/>
<line x1="51.1" y1="389.12" x2="54.5" y2="389.12" stroke="#b9c0dd" stroke-width="0.8" stroke-linecap="butt"/>
<line x1="58.35" y1="377.48" x2="58.35" y2="387.72" stroke="#b9c0dd" stroke-width="0.8" stroke-linecap="butt"/>
<line x1="56.65" y1="377.48" x2="60.05" y2="377.48" stroke="#b9c0dd" stroke-width="0.8" stroke-linecap="butt"/>
<line x1="56.65" y1="387.72" x2="60.05" y2="387.72" stroke="#b9c0dd" stroke-width="0.8" stroke-linecap="butt"/>
<line x1="63.9" y1="393.3" x2="63.9" y2="399.7" stroke="#b9c0dd" stroke-width="0.8" stroke-linecap="butt"/>
<line x1="62.2" y1="393.3" x2="65.6" y2="393.3" stroke="#b9c0dd" stroke-width="0.8" stroke-linecap="butt"/>
<line x1="62.2" y1="399.7" x2="65.6" y2="399.7" stroke="#b9c0dd" stroke-width="0.8" stroke-linecap="butt"/>
<line x1="69.45" y1="393.6" x2="69.45" y2="400" stroke="#b9c0dd" stroke-width="0.8" stroke-linecap="butt"/>
<line x1="67.75" y1="393.6" x2="71.15" y2="393.6" stroke="#b9c0dd" stroke-width="0.8" stroke-linecap="butt"/>
<line x1="67.75" y1="400" x2="71.15" y2="400" stroke="#b9c0dd" stroke-width="0.8" stroke-linecap="butt"/>
<line x1="75" y1="393.6" x2="75" y2="400" stroke="#b9c0dd" stroke-width="0.8" stroke-linecap="butt"/>
<line x1="73.3" y1="393.6" x2="76.7" y2="393.6" stroke="#b9c0dd" stroke-width="0.8" stroke-linecap="butt"/>
<line x1="73.3" y1="400" x2="76.7" y2="400" stroke="#b9c0dd" stroke-width="0.8" stroke-linecap="butt"/>
<line x1="80.55" y1="362.6" x2="80.55" y2="375.4" stroke="#b9c0dd" stroke-width="0.8" stroke-linecap="butt"/>
<line x1="78.85" y1="362.6" x2="82.25" y2="362.6" stroke="#b9c0dd" stroke-width="0.8" stroke-linecap="butt"/>
<line x1="78.85" y1="375.4" x2="82.25" y2="375.4" stroke="#b9c0dd" stroke-width="0.8" stroke-linecap="butt"/>
<line x1="86.1" y1="365" x2="86.1" y2="377.8" stroke="#b9c0dd" stroke-width="0.8" stroke-linecap="butt"/>
<line x1="84.4" y1="365" x2="87.8" y2="365" stroke="#b9c0dd" stroke-width="0.8" stroke-linecap="butt"/>
<line x1="84.4" y1="377.8" x2="87.8" y2="377.8" stroke="#b9c0dd" stroke-width="0.8" stroke-linecap="butt"/>
<line x1="91.65" y1="365.6" x2="91.65" y2="378.4" stroke="#b9c0dd" stroke-width="0.8" stroke-linecap="butt"/>
<line x1="89.95" y1="365.6" x2="93.35" y2="365.6" stroke="#b9c0dd" stroke-width="0.8" stroke-linecap="butt"/>
<line x1="89.95" y1="378.4" x2="93.35" y2="378.4" stroke="#b9c0dd" stroke-width="0.8" stroke-linecap="butt"/>
<line x1="97.2" y1="393.8" x2="97.2" y2="400.2" stroke="#b9c0dd" stroke-width="0.8" stroke-linecap="butt"/>
<line x1="95.5" y1="393.8" x2="98.9" y2="393.8" stroke="#b9c0dd" stroke-width="0.8" stroke-linecap="butt"/>
<line x1="95.5" y1="400.2" x2="98.9" y2="400.2" stroke="#b9c0dd" stroke-width="0.8" stroke-linecap="butt"/>
<line x1="102.75" y1="393.8" x2="102.75" y2="400.2" stroke="#b9c0dd" stroke-width="0.8" stroke-linecap="butt"/>
<line x1="101.05" y1="393.8" x2="104.45" y2="393.8" stroke="#b9c0dd" stroke-width="0.8" stroke-linecap="butt"/>
<line x1="101.05" y1="400.2" x2="104.45" y2="400.2" stroke="#b9c0dd" stroke-width="0.8" stroke-linecap="butt"/>
<line x1="108.3" y1="393.8" x2="108.3" y2="400.2" stroke="#b9c0dd" stroke-width="0.8" stroke-linecap="butt"/>
<line x1="106.6" y1="393.8" x2="110" y2="393.8" stroke="#b9c0dd" stroke-width="0.8" stroke-linecap="butt"/>
<line x1="106.6" y1="400.2" x2="110" y2="400.2" stroke="#b9c0dd" stroke-width="0.8" stroke-linecap="butt"/>
<polyline points="30.6,383.6 36.15,383.6 41.7,382.6 47.25,382.6 52.8,384 58.35,382.6 63.9,396.5 69.45,396.8 75,396.8 80.55,369 86.1,371.4 91.65,372 97.2,397 102.75,397 108.3,397" fill="none" stroke="#99a2cc" stroke-width="0.9" stroke-linejoin="round"/>
<circle cx="30.6" cy="383.6" r="2" fill="#99a2cc" stroke="none" stroke-width="1"/>
<circle cx="36.15" cy="383.6" r="2" fill="#99a2cc" stroke="none" stroke-width="1"/>
<circle cx="41.7" cy="382.6" r="2" fill="#99a2cc" stroke="none" stroke-width="1"/>
<circle cx="47.25" cy="382.6" r="2" fill="#99a2cc" stroke="none" stroke-width="1"/>
<circle cx="52.8" cy="384" r="2" fill="#99a2cc" stroke="none" stroke-width="1"/>
<circle cx="58.35" cy="382.6" r="2" fill="#99a2cc" stroke="none" stroke-width="1"/>
<circle cx="63.9" cy="396.5" r="2" fill="#99a2cc" stroke="none" stroke-width="1"/>
<circle cx="69.45" cy="396.8" r="2" fill="#99a2cc" stroke="none" stroke-width="1"/>
<circle cx="75" cy="396.8" r="2" fill="#99a2cc" stroke="none" stroke-width="1"/>
<circle cx="80.55" cy="369" r="2" fill="#99a2cc" stroke="none" stroke-width="1"/>
<circle cx="86.1" cy="371.4" r="2" fill="#99a2cc" stroke="none" stroke-width="1"/>
<circle cx="91.65" cy="372" r="2" fill="#99a2cc" stroke="none" stroke-width="1"/>
<circle cx="97.2" cy="397" r="2" fill="#99a2cc" stroke="none" stroke-width="1"/>
<circle cx="102.75" cy="397" r="2" fill="#99a2cc" stroke="none" stroke-width="1"/>
<circle cx="108.3" cy="397" r="2" fill="#99a2cc" stroke="none" stroke-width="1"/>
<line x1="106.9" y1="347.8" x2="113.3" y2="347.8" stroke="#99a2cc" stroke-width="0.8" stroke-linecap="butt"/>
<circle cx="110.1" cy="347.8" r="2" fill="#99a2cc" stroke="none" stroke-width="1"/>
<text transform="translate(116.2 349.55) scale(0.1)" x="0" y="0" font-size="49" text-anchor="start" fill="#1a1a1a" stroke="#1a1a1a" stroke-width="0.8" textLength="228" lengthAdjust="spacingAndGlyphs">NKBr+IL-15</text>
<line x1="106.9" y1="353.8" x2="113.3" y2="353.8" stroke="#1f3c7a" stroke-width="0.8" stroke-linecap="butt"/>
<circle cx="110.1" cy="353.8" r="2" fill="#1f3c7a" stroke="none" stroke-width="1"/>
<text transform="translate(116.2 355.55) scale(0.1)" x="0" y="0" font-size="49" text-anchor="start" fill="#1a1a1a" stroke="#1a1a1a" stroke-width="0.8" textLength="347" lengthAdjust="spacingAndGlyphs">NKBr+IL-15-12-18</text>
<line x1="106.9" y1="359.9" x2="113.3" y2="359.9" stroke="#da917f" stroke-width="0.8" stroke-linecap="butt"/>
<circle cx="110.1" cy="359.9" r="2" fill="#da917f" stroke="none" stroke-width="1"/>
<text transform="translate(116.2 361.65) scale(0.1)" x="0" y="0" font-size="49" text-anchor="start" fill="#1a1a1a" stroke="#1a1a1a" stroke-width="0.8" textLength="255" lengthAdjust="spacingAndGlyphs">NKDim+IL-15</text>
<line x1="106.9" y1="366" x2="113.3" y2="366" stroke="#b4002a" stroke-width="0.8" stroke-linecap="butt"/>
<circle cx="110.1" cy="366" r="2" fill="#b4002a" stroke="none" stroke-width="1"/>
<text transform="translate(116.2 367.75) scale(0.1)" x="0" y="0" font-size="49" text-anchor="start" fill="#1a1a1a" stroke="#1a1a1a" stroke-width="0.8" textLength="376" lengthAdjust="spacingAndGlyphs">NKDim+IL-15-12-18</text>
<line x1="205.8" y1="342.5" x2="205.8" y2="401.7" stroke="#1a1a1a" stroke-width="1.3" stroke-linecap="butt"/>
<line x1="203.2" y1="401.7" x2="205.8" y2="401.7" stroke="#1a1a1a" stroke-width="1.15" stroke-linecap="butt"/>
<text transform="translate(200 403.64) scale(0.1)" x="0" y="0" font-size="54" text-anchor="end" fill="#222" stroke="#222" stroke-width="0.7">0</text>
<line x1="203.2" y1="387.6" x2="205.8" y2="387.6" stroke="#1a1a1a" stroke-width="1.15" stroke-linecap="butt"/>
<text transform="translate(200 389.54) scale(0.1)" x="0" y="0" font-size="54" text-anchor="end" fill="#222" stroke="#222" stroke-width="0.7">10</text>
<line x1="203.2" y1="373.5" x2="205.8" y2="373.5" stroke="#1a1a1a" stroke-width="1.15" stroke-linecap="butt"/>
<text transform="translate(200 375.44) scale(0.1)" x="0" y="0" font-size="54" text-anchor="end" fill="#222" stroke="#222" stroke-width="0.7">20</text>
<line x1="203.2" y1="359.4" x2="205.8" y2="359.4" stroke="#1a1a1a" stroke-width="1.15" stroke-linecap="butt"/>
<text transform="translate(200 361.34) scale(0.1)" x="0" y="0" font-size="54" text-anchor="end" fill="#222" stroke="#222" stroke-width="0.7">30</text>
<line x1="203.2" y1="345.3" x2="205.8" y2="345.3" stroke="#1a1a1a" stroke-width="1.15" stroke-linecap="butt"/>
<text transform="translate(200 347.24) scale(0.1)" x="0" y="0" font-size="54" text-anchor="end" fill="#222" stroke="#222" stroke-width="0.7">40</text>
<line x1="205.3" y1="401.7" x2="260.2" y2="401.7" stroke="#1a1a1a" stroke-width="1.1" stroke-linecap="butt"/>
<text transform="translate(177.4 371.9) rotate(-90) scale(0.1)" x="0" y="0" font-size="60" text-anchor="middle" fill="#1a1a1a" stroke="#1a1a1a" stroke-width="2.5" textLength="433" lengthAdjust="spacingAndGlyphs">Maximal respiration</text>
<text transform="translate(187.7 372.6) rotate(-90) scale(0.1)" x="0" y="0" font-size="60" text-anchor="middle" fill="#1a1a1a" stroke="#1a1a1a" stroke-width="2.5" textLength="301" lengthAdjust="spacingAndGlyphs">(pMoles/min)</text>
<line x1="213.85" y1="371.67" x2="213.85" y2="372.09" stroke="#99a2cc" stroke-width="0.7" stroke-linecap="butt"/>
<line x1="213.85" y1="375.62" x2="213.85" y2="375.9" stroke="#99a2cc" stroke-width="0.7" stroke-linecap="butt"/>
<rect x="210.5" y="372.09" width="6.7" height="3.53" fill="#fff" stroke="#99a2cc" stroke-width="0.7" rx="0"/>
<line x1="210.5" y1="373.92" x2="217.2" y2="373.92" stroke="#99a2cc" stroke-width="0.7" stroke-linecap="butt"/>
<circle cx="211.85" cy="373.78" r="1.35" fill="#fff" stroke="#99a2cc" stroke-width="1"/>
<circle cx="215.85" cy="373.78" r="1.35" fill="#fff" stroke="#99a2cc" stroke-width="1"/>
<circle cx="213.85" cy="372.37" r="1.35" fill="#fff" stroke="#99a2cc" stroke-width="1"/>
<line x1="226.5" y1="365.75" x2="226.5" y2="367.15" stroke="#1f3c7a" stroke-width="1.15" stroke-linecap="butt"/>
<line x1="226.5" y1="381.4" x2="226.5" y2="381.96" stroke="#1f3c7a" stroke-width="1.15" stroke-linecap="butt"/>
<rect x="222.2" y="367.15" width="8.6" height="14.24" fill="#1f3c7a" stroke="#1f3c7a" stroke-width="1.15" rx="0"/>
<circle cx="226.5" cy="365.89" r="1.05" fill="#fff" stroke="#1f3c7a" stroke-width="0.6"/>
<circle cx="226.5" cy="369.69" r="1.05" fill="#fff" stroke="#1f3c7a" stroke-width="0.6"/>
<circle cx="226.5" cy="381.96" r="1.05" fill="#fff" stroke="#1f3c7a" stroke-width="0.6"/>
<line x1="239.1" y1="360.81" x2="239.1" y2="361.23" stroke="#da917f" stroke-width="1.15" stroke-linecap="butt"/>
<line x1="239.1" y1="373.64" x2="239.1" y2="374.2" stroke="#da917f" stroke-width="1.15" stroke-linecap="butt"/>
<rect x="234.5" y="361.23" width="9.2" height="12.41" fill="#da917f" stroke="#da917f" stroke-width="1.15" rx="0"/>
<circle cx="239.1" cy="360.81" r="1.05" fill="#fff" stroke="#da917f" stroke-width="0.6"/>
<circle cx="239.1" cy="366.31" r="1.05" fill="#fff" stroke="#da917f" stroke-width="0.6"/>
<circle cx="239.1" cy="374.2" r="1.05" fill="#fff" stroke="#da917f" stroke-width="0.6"/>
<line x1="251.65" y1="380.83" x2="251.65" y2="381.4" stroke="#b4002a" stroke-width="1.15" stroke-linecap="butt"/>
<line x1="251.65" y1="388.16" x2="251.65" y2="388.45" stroke="#b4002a" stroke-width="1.15" stroke-linecap="butt"/>
<rect x="247" y="381.4" width="9.3" height="6.77" fill="#b4002a" stroke="#b4002a" stroke-width="1.15" rx="0"/>
<circle cx="251.65" cy="380.97" r="1.05" fill="#fff" stroke="#b4002a" stroke-width="0.6"/>
<circle cx="251.65" cy="384.36" r="1.05" fill="#fff" stroke="#b4002a" stroke-width="0.6"/>
<circle cx="251.65" cy="388.16" r="1.05" fill="#fff" stroke="#b4002a" stroke-width="0.6"/>
<line x1="238.7" y1="356.7" x2="252.5" y2="356.7" stroke="#333" stroke-width="1.1" stroke-linecap="butt"/>
<line x1="238.7" y1="355.1" x2="238.7" y2="358.3" stroke="#1a1a1a" stroke-width="1.1" stroke-linecap="butt"/>
<line x1="252.5" y1="355.1" x2="252.5" y2="358.3" stroke="#1a1a1a" stroke-width="1.1" stroke-linecap="butt"/>
<ellipse cx="245.6" cy="352.9" rx="0.95" ry="0.85" fill="#2a2a2a"/>
<line x1="303" y1="342.5" x2="303" y2="401.3" stroke="#1a1a1a" stroke-width="1.3" stroke-linecap="butt"/>
<line x1="300.4" y1="401.3" x2="303" y2="401.3" stroke="#1a1a1a" stroke-width="1.15" stroke-linecap="butt"/>
<text transform="translate(297.5 403.24) scale(0.1)" x="0" y="0" font-size="54" text-anchor="end" fill="#222" stroke="#222" stroke-width="0.7">0</text>
<line x1="300.4" y1="387.15" x2="303" y2="387.15" stroke="#1a1a1a" stroke-width="1.15" stroke-linecap="butt"/>
<text transform="translate(297.5 389.09) scale(0.1)" x="0" y="0" font-size="54" text-anchor="end" fill="#222" stroke="#222" stroke-width="0.7">10</text>
<line x1="300.4" y1="373" x2="303" y2="373" stroke="#1a1a1a" stroke-width="1.15" stroke-linecap="butt"/>
<text transform="translate(297.5 374.94) scale(0.1)" x="0" y="0" font-size="54" text-anchor="end" fill="#222" stroke="#222" stroke-width="0.7">20</text>
<line x1="300.4" y1="358.85" x2="303" y2="358.85" stroke="#1a1a1a" stroke-width="1.15" stroke-linecap="butt"/>
<text transform="translate(297.5 360.79) scale(0.1)" x="0" y="0" font-size="54" text-anchor="end" fill="#222" stroke="#222" stroke-width="0.7">30</text>
<line x1="300.4" y1="344.7" x2="303" y2="344.7" stroke="#1a1a1a" stroke-width="1.15" stroke-linecap="butt"/>
<text transform="translate(297.5 346.64) scale(0.1)" x="0" y="0" font-size="54" text-anchor="end" fill="#222" stroke="#222" stroke-width="0.7">40</text>
<line x1="302.5" y1="401.3" x2="358.4" y2="401.3" stroke="#1a1a1a" stroke-width="1.1" stroke-linecap="butt"/>
<text transform="translate(275.5 371.5) rotate(-90) scale(0.1)" x="0" y="0" font-size="60" text-anchor="middle" fill="#1a1a1a" stroke="#1a1a1a" stroke-width="2.5" textLength="373" lengthAdjust="spacingAndGlyphs">Basal respiration</text>
<text transform="translate(285 371.9) rotate(-90) scale(0.1)" x="0" y="0" font-size="60" text-anchor="middle" fill="#1a1a1a" stroke="#1a1a1a" stroke-width="2.5" textLength="301" lengthAdjust="spacingAndGlyphs">(pmoles/min)</text>
<line x1="311.9" y1="388.42" x2="311.9" y2="388.71" stroke="#99a2cc" stroke-width="0.7" stroke-linecap="butt"/>
<line x1="311.9" y1="392.1" x2="311.9" y2="392.39" stroke="#99a2cc" stroke-width="0.7" stroke-linecap="butt"/>
<rect x="308.3" y="388.71" width="7.2" height="3.4" fill="#fff" stroke="#99a2cc" stroke-width="0.7" rx="0"/>
<line x1="308.3" y1="390.4" x2="315.5" y2="390.4" stroke="#99a2cc" stroke-width="0.7" stroke-linecap="butt"/>
<circle cx="309.9" cy="390.55" r="1.35" fill="#fff" stroke="#99a2cc" stroke-width="1"/>
<circle cx="313.9" cy="390.55" r="1.35" fill="#fff" stroke="#99a2cc" stroke-width="1"/>
<circle cx="311.9" cy="392.24" r="1.35" fill="#fff" stroke="#99a2cc" stroke-width="1"/>
<line x1="324.6" y1="383.9" x2="324.6" y2="384.04" stroke="#1f3c7a" stroke-width="0.7" stroke-linecap="butt"/>
<line x1="324.6" y1="386.16" x2="324.6" y2="386.3" stroke="#1f3c7a" stroke-width="0.7" stroke-linecap="butt"/>
<rect x="320.8" y="384.04" width="7.6" height="2.12" fill="#fff" stroke="#1f3c7a" stroke-width="0.7" rx="0"/>
<line x1="320.8" y1="385.03" x2="328.4" y2="385.03" stroke="#1f3c7a" stroke-width="0.7" stroke-linecap="butt"/>
<circle cx="322.6" cy="385.17" r="1.35" fill="#fff" stroke="#1f3c7a" stroke-width="1"/>
<circle cx="324.6" cy="385.17" r="1.35" fill="#fff" stroke="#1f3c7a" stroke-width="1"/>
<circle cx="326.6" cy="385.17" r="1.35" fill="#fff" stroke="#1f3c7a" stroke-width="1"/>
<line x1="337.1" y1="361.4" x2="337.1" y2="361.82" stroke="#da917f" stroke-width="1.15" stroke-linecap="butt"/>
<line x1="337.1" y1="376.82" x2="337.1" y2="377.25" stroke="#da917f" stroke-width="1.15" stroke-linecap="butt"/>
<rect x="332.5" y="361.82" width="9.2" height="15" fill="#da917f" stroke="#da917f" stroke-width="1.15" rx="0"/>
<circle cx="337.1" cy="361.68" r="1.05" fill="#fff" stroke="#da917f" stroke-width="0.6"/>
<circle cx="339.1" cy="363.8" r="1.05" fill="#fff" stroke="#da917f" stroke-width="0.6"/>
<circle cx="337.1" cy="376.82" r="1.05" fill="#fff" stroke="#da917f" stroke-width="0.6"/>
<line x1="349.85" y1="365.22" x2="349.85" y2="365.78" stroke="#b4002a" stroke-width="1.15" stroke-linecap="butt"/>
<line x1="349.85" y1="372.58" x2="349.85" y2="373" stroke="#b4002a" stroke-width="1.15" stroke-linecap="butt"/>
<rect x="345" y="365.78" width="9.7" height="6.79" fill="#b4002a" stroke="#b4002a" stroke-width="1.15" rx="0"/>
<circle cx="349.85" cy="365.64" r="1.05" fill="#fff" stroke="#b4002a" stroke-width="0.6"/>
<circle cx="349.85" cy="369.32" r="1.05" fill="#fff" stroke="#b4002a" stroke-width="0.6"/>
<circle cx="349.85" cy="372.86" r="1.05" fill="#fff" stroke="#b4002a" stroke-width="0.6"/>
<line x1="311.3" y1="357.8" x2="337.5" y2="357.8" stroke="#333" stroke-width="1.1" stroke-linecap="butt"/>
<line x1="311.3" y1="356.2" x2="311.3" y2="359.4" stroke="#1a1a1a" stroke-width="1.1" stroke-linecap="butt"/>
<line x1="337.5" y1="356.2" x2="337.5" y2="359.4" stroke="#1a1a1a" stroke-width="1.1" stroke-linecap="butt"/>
<ellipse cx="322.97" cy="354" rx="0.95" ry="0.85" fill="#2a2a2a"/>
<ellipse cx="325.82" cy="354" rx="0.95" ry="0.85" fill="#2a2a2a"/>
<line x1="325.3" y1="348.3" x2="350" y2="348.3" stroke="#333" stroke-width="1.1" stroke-linecap="butt"/>
<line x1="325.3" y1="346.7" x2="325.3" y2="349.9" stroke="#1a1a1a" stroke-width="1.1" stroke-linecap="butt"/>
<line x1="350" y1="346.7" x2="350" y2="349.9" stroke="#1a1a1a" stroke-width="1.1" stroke-linecap="butt"/>
<ellipse cx="337.65" cy="344.5" rx="0.95" ry="0.85" fill="#2a2a2a"/>
<text transform="translate(367.6 336.8) scale(0.1)" x="0" y="0" font-size="106" text-anchor="start" fill="#000" font-weight="bold">G</text>
<line x1="391" y1="342.5" x2="391" y2="401.5" stroke="#1a1a1a" stroke-width="1.3" stroke-linecap="butt"/>
<line x1="388.4" y1="401.4" x2="391" y2="401.4" stroke="#1a1a1a" stroke-width="1.15" stroke-linecap="butt"/>
<text transform="translate(385.6 403.34) scale(0.1)" x="0" y="0" font-size="54" text-anchor="end" fill="#222" stroke="#222" stroke-width="0.7">0</text>
<line x1="388.4" y1="387.3" x2="391" y2="387.3" stroke="#1a1a1a" stroke-width="1.15" stroke-linecap="butt"/>
<text transform="translate(385.6 389.24) scale(0.1)" x="0" y="0" font-size="54" text-anchor="end" fill="#222" stroke="#222" stroke-width="0.7">5</text>
<line x1="388.4" y1="373.2" x2="391" y2="373.2" stroke="#1a1a1a" stroke-width="1.15" stroke-linecap="butt"/>
<text transform="translate(385.6 375.14) scale(0.1)" x="0" y="0" font-size="54" text-anchor="end" fill="#222" stroke="#222" stroke-width="0.7">10</text>
<line x1="388.4" y1="359.1" x2="391" y2="359.1" stroke="#1a1a1a" stroke-width="1.15" stroke-linecap="butt"/>
<text transform="translate(385.6 361.04) scale(0.1)" x="0" y="0" font-size="54" text-anchor="end" fill="#222" stroke="#222" stroke-width="0.7">15</text>
<line x1="388.4" y1="345" x2="391" y2="345" stroke="#1a1a1a" stroke-width="1.15" stroke-linecap="butt"/>
<text transform="translate(385.6 346.94) scale(0.1)" x="0" y="0" font-size="54" text-anchor="end" fill="#222" stroke="#222" stroke-width="0.7">20</text>
<line x1="390.5" y1="401.5" x2="446.4" y2="401.5" stroke="#1a1a1a" stroke-width="1.1" stroke-linecap="butt"/>
<text transform="translate(373.3 372) rotate(-90) scale(0.1)" x="0" y="0" font-size="60" text-anchor="middle" fill="#1a1a1a" stroke="#1a1a1a" stroke-width="2.5" textLength="425" lengthAdjust="spacingAndGlyphs">SRC (pMoles/min)</text>
<line x1="399.65" y1="361.92" x2="399.65" y2="362.2" stroke="#99a2cc" stroke-width="0.7" stroke-linecap="butt"/>
<line x1="399.65" y1="365.02" x2="399.65" y2="365.3" stroke="#99a2cc" stroke-width="0.7" stroke-linecap="butt"/>
<rect x="396.2" y="362.2" width="6.9" height="2.82" fill="#fff" stroke="#99a2cc" stroke-width="0.7" rx="0"/>
<line x1="396.2" y1="363.61" x2="403.1" y2="363.61" stroke="#99a2cc" stroke-width="0.7" stroke-linecap="butt"/>
<circle cx="397.65" cy="363.61" r="1.35" fill="#fff" stroke="#99a2cc" stroke-width="1"/>
<circle cx="401.65" cy="363.61" r="1.35" fill="#fff" stroke="#99a2cc" stroke-width="1"/>
<circle cx="399.65" cy="361.92" r="1.35" fill="#fff" stroke="#99a2cc" stroke-width="1"/>
<line x1="411.95" y1="355.72" x2="411.95" y2="356.28" stroke="#1f3c7a" stroke-width="1.15" stroke-linecap="butt"/>
<line x1="411.95" y1="368.12" x2="411.95" y2="368.69" stroke="#1f3c7a" stroke-width="1.15" stroke-linecap="butt"/>
<rect x="407.3" y="356.28" width="9.3" height="11.84" fill="#1f3c7a" stroke="#1f3c7a" stroke-width="1.15" rx="0"/>
<circle cx="410.25" cy="356.28" r="1.05" fill="#fff" stroke="#1f3c7a" stroke-width="0.6"/>
<circle cx="413.65" cy="356.28" r="1.05" fill="#fff" stroke="#1f3c7a" stroke-width="0.6"/>
<circle cx="411.95" cy="368.41" r="1.05" fill="#fff" stroke="#1f3c7a" stroke-width="0.6"/>
<line x1="425" y1="364.46" x2="425" y2="365.02" stroke="#da917f" stroke-width="1.15" stroke-linecap="butt"/>
<line x1="425" y1="376.3" x2="425" y2="376.87" stroke="#da917f" stroke-width="1.15" stroke-linecap="butt"/>
<rect x="420.6" y="365.02" width="8.8" height="11.28" fill="#da917f" stroke="#da917f" stroke-width="1.15" rx="0"/>
<circle cx="425" cy="365.02" r="1.05" fill="#fff" stroke="#da917f" stroke-width="0.6"/>
<circle cx="425" cy="372.64" r="1.05" fill="#fff" stroke="#da917f" stroke-width="0.6"/>
<circle cx="425" cy="376.02" r="1.05" fill="#fff" stroke="#da917f" stroke-width="0.6"/>
<line x1="437.9" y1="397.73" x2="437.9" y2="398.02" stroke="#b4002a" stroke-width="0.7" stroke-linecap="butt"/>
<line x1="437.9" y1="399.71" x2="437.9" y2="399.99" stroke="#b4002a" stroke-width="0.7" stroke-linecap="butt"/>
<rect x="434.1" y="398.02" width="7.6" height="1.69" fill="#fff" stroke="#b4002a" stroke-width="0.7" rx="0"/>
<line x1="434.1" y1="398.86" x2="441.7" y2="398.86" stroke="#b4002a" stroke-width="0.7" stroke-linecap="butt"/>
<circle cx="435.7" cy="398.72" r="1" fill="#fff" stroke="#b4002a" stroke-width="1"/>
<circle cx="438.2" cy="399.14" r="1" fill="#fff" stroke="#b4002a" stroke-width="1"/>
<circle cx="440.3" cy="398.72" r="1" fill="#fff" stroke="#b4002a" stroke-width="1"/>
<line x1="424.3" y1="360.9" x2="439.1" y2="360.9" stroke="#333" stroke-width="1.1" stroke-linecap="butt"/>
<line x1="424.3" y1="359.3" x2="424.3" y2="362.5" stroke="#1a1a1a" stroke-width="1.1" stroke-linecap="butt"/>
<line x1="439.1" y1="359.3" x2="439.1" y2="362.5" stroke="#1a1a1a" stroke-width="1.1" stroke-linecap="butt"/>
<ellipse cx="428.85" cy="357.1" rx="0.95" ry="0.85" fill="#2a2a2a"/>
<ellipse cx="431.7" cy="357.1" rx="0.95" ry="0.85" fill="#2a2a2a"/>
<ellipse cx="434.55" cy="357.1" rx="0.95" ry="0.85" fill="#2a2a2a"/>
<rect x="446.2" y="341.9" width="6.9" height="4.9" fill="#99a2cc" stroke="none" stroke-width="1" rx="0"/>
<text transform="translate(456.2 345.9) scale(0.1)" x="0" y="0" font-size="49" text-anchor="start" fill="#1a1a1a" stroke="#1a1a1a" stroke-width="0.8" textLength="207" lengthAdjust="spacingAndGlyphs">NKBr+IL15</text>
<rect x="446.2" y="348.1" width="6.9" height="4.9" fill="#1f3c7a" stroke="none" stroke-width="1" rx="0"/>
<text transform="translate(456.2 352.1) scale(0.1)" x="0" y="0" font-size="49" text-anchor="start" fill="#1a1a1a" stroke="#1a1a1a" stroke-width="0.8" textLength="346" lengthAdjust="spacingAndGlyphs">NKBr+IL-15-12-18</text>
<rect x="446.2" y="353.8" width="6.9" height="4.9" fill="#da917f" stroke="none" stroke-width="1" rx="0"/>
<text transform="translate(456.2 357.8) scale(0.1)" x="0" y="0" font-size="49" text-anchor="start" fill="#1a1a1a" stroke="#1a1a1a" stroke-width="0.8" textLength="250" lengthAdjust="spacingAndGlyphs">NKDim+IL-15</text>
<rect x="446.2" y="359.6" width="6.9" height="4.9" fill="#b4002a" stroke="none" stroke-width="1" rx="0"/>
<text transform="translate(456.2 363.6) scale(0.1)" x="0" y="0" font-size="49" text-anchor="start" fill="#1a1a1a" stroke="#1a1a1a" stroke-width="0.8" textLength="369" lengthAdjust="spacingAndGlyphs">NKDim+IL-15-12-18</text>
<rect x="0" y="0" width="520" height="1" fill="#000"/>
<rect x="0" y="0" width="1" height="420" fill="#000"/>
<rect x="518.6" y="0" width="1.4" height="420" fill="#000"/>
<rect x="0" y="418.4" width="520" height="1.6" fill="#000"/>
</svg>
</body></html>
